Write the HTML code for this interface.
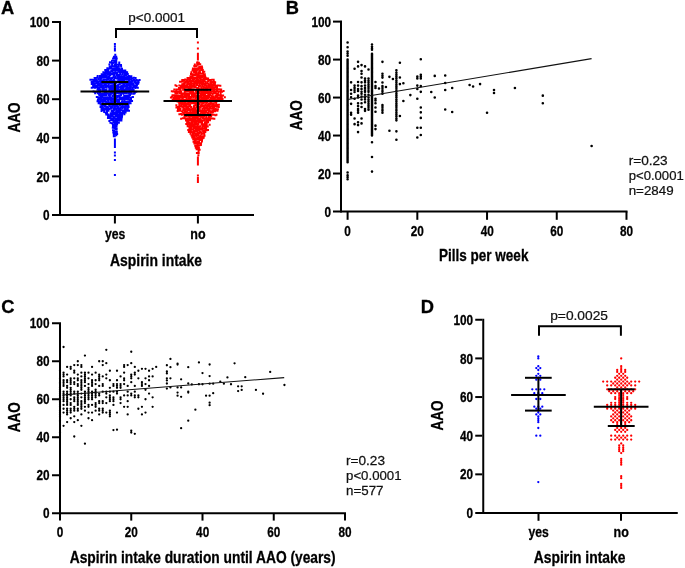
<!DOCTYPE html>
<html><head><meta charset="utf-8"><style>
html,body{margin:0;padding:0;background:#fff;}
body{width:685px;height:568px;overflow:hidden;}
svg{display:block;font-family:"Liberation Sans",sans-serif;}
</style></head><body>
<svg style="will-change:transform" width="685" height="568" viewBox="0 0 685 568">
<rect width="685" height="568" fill="#fff"/>
<text transform="translate(1.002,13.5) scale(1,1)" font-size="18.3" font-weight="bold" fill="#000" stroke="#000" stroke-width="0.3">A</text>
<line x1="60" y1="216" x2="60" y2="21" stroke="#000" stroke-width="2"/>
<text transform="translate(42.933,220.1) scale(0.775,1)" font-size="15.2" font-weight="bold" fill="#000" stroke="#000" stroke-width="0.3">0</text>
<line x1="52" y1="176.4" x2="59" y2="176.4" stroke="#000" stroke-width="2"/>
<text transform="translate(36.395,181.5) scale(0.775,1)" font-size="15.2" font-weight="bold" fill="#000" stroke="#000" stroke-width="0.3">20</text>
<line x1="52" y1="137.8" x2="59" y2="137.8" stroke="#000" stroke-width="2"/>
<text transform="translate(36.395,142.9) scale(0.775,1)" font-size="15.2" font-weight="bold" fill="#000" stroke="#000" stroke-width="0.3">40</text>
<line x1="52" y1="99.2" x2="59" y2="99.2" stroke="#000" stroke-width="2"/>
<text transform="translate(36.395,104.3) scale(0.775,1)" font-size="15.2" font-weight="bold" fill="#000" stroke="#000" stroke-width="0.3">60</text>
<line x1="52" y1="60.6" x2="59" y2="60.6" stroke="#000" stroke-width="2"/>
<text transform="translate(36.395,65.7) scale(0.775,1)" font-size="15.2" font-weight="bold" fill="#000" stroke="#000" stroke-width="0.3">80</text>
<line x1="52" y1="22" x2="59" y2="22" stroke="#000" stroke-width="2"/>
<text transform="translate(29.828,27.1) scale(0.775,1)" font-size="15.2" font-weight="bold" fill="#000" stroke="#000" stroke-width="0.3">100</text>
<line x1="52" y1="215" x2="254" y2="215" stroke="#000" stroke-width="2"/>
<line x1="114.9" y1="215" x2="114.9" y2="223.5" stroke="#000" stroke-width="2"/>
<line x1="197.9" y1="215" x2="197.9" y2="223.5" stroke="#000" stroke-width="2"/>
<text transform="translate(104.917,239) scale(0.86,1)" font-size="14.2" font-weight="bold" fill="#000" stroke="#000" stroke-width="0.3">yes</text>
<text transform="translate(190.306,239) scale(0.88,1)" font-size="14.2" font-weight="bold" fill="#000" stroke="#000" stroke-width="0.3">no</text>
<text transform="translate(109.944,265.6) scale(0.835,1)" font-size="16.7" font-weight="bold" fill="#000" stroke="#000" stroke-width="0.3">Aspirin intake</text>
<text transform="translate(19.6,132.534) rotate(-90) scale(0.816,1)" font-size="16.6" font-weight="bold" stroke="#000" stroke-width="0.3">AAO</text>
<polyline points="116,37 116,29 197,29 197,37" fill="none" stroke="#000" stroke-width="2" stroke-linejoin="miter" stroke-linecap="square"/>
<text transform="translate(128.272,21.7) scale(0.994,1)" font-size="13.6" font-weight="normal" fill="#111" stroke="#111" stroke-width="0.25">p&lt;0.0001</text>
<path fill="#0000ff" d="M114.267 53.682h2v2h-2zM112.923 55.726h2v2h-2zM113.346 56.132h2v2h-2zM115.252 55.706h2v2h-2zM112.07 57.619h2v2h-2zM113.413 57.452h2v2h-2zM114.711 57.502h2v2h-2zM115.733 57.553h2v2h-2zM111.035 59.824h2v2h-2zM112.239 59.696h2v2h-2zM113.81 59.736h2v2h-2zM115.276 59.397h2v2h-2zM109.029 61.365h2v2h-2zM110.176 61.562h2v2h-2zM111.756 61.876h2v2h-2zM113.447 61.63h2v2h-2zM114.141 61.683h2v2h-2zM115.292 61.617h2v2h-2zM118.254 61.525h2v2h-2zM108.402 63.434h2v2h-2zM111.072 63.611h2v2h-2zM113.647 63.908h2v2h-2zM114.796 63.576h2v2h-2zM115.49 63.774h2v2h-2zM117.224 63.785h2v2h-2zM118.225 63.133h2v2h-2zM120.031 63.966h2v2h-2zM108.676 65.785h2v2h-2zM109.6 65.464h2v2h-2zM111.121 65.206h2v2h-2zM112.634 65.367h2v2h-2zM113.515 65.268h2v2h-2zM115.202 65.03h2v2h-2zM116.777 65.917h2v2h-2zM117.838 65.028h2v2h-2zM120.106 65.185h2v2h-2zM106.32 67.252h2v2h-2zM107.96 67.594h2v2h-2zM109.511 67.215h2v2h-2zM109.926 66.958h2v2h-2zM111.724 67.465h2v2h-2zM113.63 67.523h2v2h-2zM114.533 67.145h2v2h-2zM115.753 67.038h2v2h-2zM117.204 67.383h2v2h-2zM117.988 67.302h2v2h-2zM120.223 67.464h2v2h-2zM121.014 67.823h2v2h-2zM104.239 69.045h2v2h-2zM105.025 69.39h2v2h-2zM106.236 69.294h2v2h-2zM107.413 69.063h2v2h-2zM110.223 69.455h2v2h-2zM111.42 69.273h2v2h-2zM112.563 69.126h2v2h-2zM113.865 69.347h2v2h-2zM115.362 68.918h2v2h-2zM116.246 69.066h2v2h-2zM117.593 69.323h2v2h-2zM118.729 69.039h2v2h-2zM120.35 68.958h2v2h-2zM121.158 69.697h2v2h-2zM123.056 69.386h2v2h-2zM124.29 69.499h2v2h-2zM102.344 71.22h2v2h-2zM103.255 71.148h2v2h-2zM104.408 71.378h2v2h-2zM105.679 71.271h2v2h-2zM107.61 71.051h2v2h-2zM108.501 71.149h2v2h-2zM109.258 71.228h2v2h-2zM111.059 70.811h2v2h-2zM112.301 71.386h2v2h-2zM113.892 71.453h2v2h-2zM114.642 71.217h2v2h-2zM116.403 71.256h2v2h-2zM117.588 70.811h2v2h-2zM119.099 71.092h2v2h-2zM120.996 71.076h2v2h-2zM122.076 71.358h2v2h-2zM122.993 71.365h2v2h-2zM124.666 71.025h2v2h-2zM126.12 71.272h2v2h-2zM100.674 73.236h2v2h-2zM101.976 73.415h2v2h-2zM103.269 73.26h2v2h-2zM104.334 72.938h2v2h-2zM106.38 73.151h2v2h-2zM107.616 73.057h2v2h-2zM108.804 73.183h2v2h-2zM109.728 72.933h2v2h-2zM111.43 73.039h2v2h-2zM112.47 73.18h2v2h-2zM113.983 72.716h2v2h-2zM115.031 72.715h2v2h-2zM116.359 73.148h2v2h-2zM117.874 74.016h2v2h-2zM119.142 73.032h2v2h-2zM121.265 73.225h2v2h-2zM123.386 72.934h2v2h-2zM125.054 72.919h2v2h-2zM125.455 73.099h2v2h-2zM126.79 72.921h2v2h-2zM96.689 75.004h2v2h-2zM99.021 74.997h2v2h-2zM100.424 75.263h2v2h-2zM101.442 75.125h2v2h-2zM102.925 74.952h2v2h-2zM104.132 75.021h2v2h-2zM105.215 74.881h2v2h-2zM107.309 75.294h2v2h-2zM107.94 75.301h2v2h-2zM109.426 74.421h2v2h-2zM112.418 75.5h2v2h-2zM112.896 74.491h2v2h-2zM114.563 75.281h2v2h-2zM115.931 74.665h2v2h-2zM117.042 75.127h2v2h-2zM118.45 75.119h2v2h-2zM120.023 75.165h2v2h-2zM120.929 75.476h2v2h-2zM122.713 75.138h2v2h-2zM123.501 75.07h2v2h-2zM125.22 74.723h2v2h-2zM126.317 75.44h2v2h-2zM127.787 74.905h2v2h-2zM128.818 75.131h2v2h-2zM130.382 75.148h2v2h-2zM93.587 76.918h2v2h-2zM94.692 76.913h2v2h-2zM95.971 76.838h2v2h-2zM97.56 77.287h2v2h-2zM98.51 76.865h2v2h-2zM100.107 76.998h2v2h-2zM101.091 76.616h2v2h-2zM102.021 76.654h2v2h-2zM103.639 76.555h2v2h-2zM105.591 76.6h2v2h-2zM106.015 76.846h2v2h-2zM107.068 77.295h2v2h-2zM108.556 76.901h2v2h-2zM109.956 77.204h2v2h-2zM111.21 77.007h2v2h-2zM113.025 76.856h2v2h-2zM114.035 76.879h2v2h-2zM115.504 77.392h2v2h-2zM116.402 77.113h2v2h-2zM117.734 76.705h2v2h-2zM119.235 77.005h2v2h-2zM119.544 77.148h2v2h-2zM121.36 77.141h2v2h-2zM122.394 77.204h2v2h-2zM124.207 76.954h2v2h-2zM124.956 76.993h2v2h-2zM126.325 77.218h2v2h-2zM127.353 76.944h2v2h-2zM129.353 76.677h2v2h-2zM130.315 77.059h2v2h-2zM131.72 77.268h2v2h-2zM132.978 76.657h2v2h-2zM134.596 76.888h2v2h-2zM89.421 78.693h2v2h-2zM91.121 78.714h2v2h-2zM92.575 78.943h2v2h-2zM93.56 78.872h2v2h-2zM94.942 79.098h2v2h-2zM95.774 79.256h2v2h-2zM97.517 78.556h2v2h-2zM99.255 79.168h2v2h-2zM99.712 78.704h2v2h-2zM101.206 79.181h2v2h-2zM102.786 79.022h2v2h-2zM103.827 78.68h2v2h-2zM105.509 79.045h2v2h-2zM106.306 78.76h2v2h-2zM107.615 78.767h2v2h-2zM109.657 79.169h2v2h-2zM110.57 79.17h2v2h-2zM112.041 79.231h2v2h-2zM113.063 78.898h2v2h-2zM117.334 78.5h2v2h-2zM118.522 78.668h2v2h-2zM119.418 78.67h2v2h-2zM120.78 78.959h2v2h-2zM122.349 79.219h2v2h-2zM123.364 78.836h2v2h-2zM125.237 78.612h2v2h-2zM126.487 78.394h2v2h-2zM128.086 78.702h2v2h-2zM128.388 78.963h2v2h-2zM130.379 78.453h2v2h-2zM131.659 79.472h2v2h-2zM133.096 78.928h2v2h-2zM134.339 79.311h2v2h-2zM135.63 78.986h2v2h-2zM137.252 79.387h2v2h-2zM138.596 78.914h2v2h-2zM90.629 80.911h2v2h-2zM92.244 81.053h2v2h-2zM92.682 81.112h2v2h-2zM94.495 80.561h2v2h-2zM95.363 81.238h2v2h-2zM97.007 80.783h2v2h-2zM97.914 80.822h2v2h-2zM99.796 80.948h2v2h-2zM101.006 80.736h2v2h-2zM102.199 80.666h2v2h-2zM103.636 81.396h2v2h-2zM104.916 81.196h2v2h-2zM105.597 80.533h2v2h-2zM108.149 80.928h2v2h-2zM108.647 80.214h2v2h-2zM110.316 80.876h2v2h-2zM111.642 80.445h2v2h-2zM113.039 80.639h2v2h-2zM114.153 80.556h2v2h-2zM114.838 81.032h2v2h-2zM116.363 80.606h2v2h-2zM117.222 80.761h2v2h-2zM119.29 80.517h2v2h-2zM120.29 80.545h2v2h-2zM122.179 80.783h2v2h-2zM122.981 80.657h2v2h-2zM124.741 80.928h2v2h-2zM125.674 80.815h2v2h-2zM127.13 80.738h2v2h-2zM128.887 80.935h2v2h-2zM130.075 80.832h2v2h-2zM130.959 80.605h2v2h-2zM133.312 80.639h2v2h-2zM134.468 81.122h2v2h-2zM135.771 81.34h2v2h-2zM137.686 81.159h2v2h-2zM90.748 82.928h2v2h-2zM91.927 83.061h2v2h-2zM92.883 83.117h2v2h-2zM94.323 82.68h2v2h-2zM96.082 82.313h2v2h-2zM97.039 82.716h2v2h-2zM97.938 82.975h2v2h-2zM99.557 82.609h2v2h-2zM101.185 82.856h2v2h-2zM101.972 82.643h2v2h-2zM103.587 82.818h2v2h-2zM104.766 82.814h2v2h-2zM106.621 82.563h2v2h-2zM107.833 82.816h2v2h-2zM108.55 82.37h2v2h-2zM110.377 82.535h2v2h-2zM110.974 82.576h2v2h-2zM112.606 82.933h2v2h-2zM113.59 82.293h2v2h-2zM114.871 82.403h2v2h-2zM117.185 83.381h2v2h-2zM118.699 83.07h2v2h-2zM120.024 82.392h2v2h-2zM122.002 82.682h2v2h-2zM122.948 83.061h2v2h-2zM124.135 82.414h2v2h-2zM126.09 82.998h2v2h-2zM127.036 82.234h2v2h-2zM127.731 82.429h2v2h-2zM129.321 82.904h2v2h-2zM130.798 82.524h2v2h-2zM131.977 83.055h2v2h-2zM132.478 82.641h2v2h-2zM134.741 82.711h2v2h-2zM136.046 82.875h2v2h-2zM137.211 82.81h2v2h-2zM92.117 84.932h2v2h-2zM93.507 84.816h2v2h-2zM94.721 84.951h2v2h-2zM95.942 84.756h2v2h-2zM97.717 84.768h2v2h-2zM98.521 84.389h2v2h-2zM99.702 84.26h2v2h-2zM100.544 84.439h2v2h-2zM102.07 84.959h2v2h-2zM103.71 84.831h2v2h-2zM105.192 84.75h2v2h-2zM106.182 84.977h2v2h-2zM107.64 84.669h2v2h-2zM108.689 85.226h2v2h-2zM110.128 84.762h2v2h-2zM111.471 84.799h2v2h-2zM112.168 84.695h2v2h-2zM113.973 84.397h2v2h-2zM115.169 85.042h2v2h-2zM116.56 85.044h2v2h-2zM117.128 84.587h2v2h-2zM119.41 85.228h2v2h-2zM121.066 85.085h2v2h-2zM121.718 85.3h2v2h-2zM122.749 84.728h2v2h-2zM124.316 84.666h2v2h-2zM125.567 84.429h2v2h-2zM126.438 84.916h2v2h-2zM128.138 84.489h2v2h-2zM129.939 84.415h2v2h-2zM132.065 84.327h2v2h-2zM132.9 84.641h2v2h-2zM134.203 84.907h2v2h-2zM135.952 84.459h2v2h-2zM90.718 86.844h2v2h-2zM92.648 86.503h2v2h-2zM93.976 86.838h2v2h-2zM95.263 86.307h2v2h-2zM96.649 86.432h2v2h-2zM97.767 86.984h2v2h-2zM99.218 86.577h2v2h-2zM100.407 86.583h2v2h-2zM102.217 86.963h2v2h-2zM102.623 86.94h2v2h-2zM104.328 86.242h2v2h-2zM105.166 86.38h2v2h-2zM107.394 86.585h2v2h-2zM108.383 86.592h2v2h-2zM108.944 86.672h2v2h-2zM110.802 86.668h2v2h-2zM111.396 86.368h2v2h-2zM113.38 86.723h2v2h-2zM113.746 86.466h2v2h-2zM115.672 86.71h2v2h-2zM116.797 86.401h2v2h-2zM118.475 86.603h2v2h-2zM119.675 86.651h2v2h-2zM120.946 86.752h2v2h-2zM122.307 86.719h2v2h-2zM123.09 85.801h2v2h-2zM125.204 86.606h2v2h-2zM125.872 86.959h2v2h-2zM127.458 86.837h2v2h-2zM129.082 86.587h2v2h-2zM129.848 86.279h2v2h-2zM131.886 86.606h2v2h-2zM132.598 86.324h2v2h-2zM134.528 87.003h2v2h-2zM135.012 86.328h2v2h-2zM136.834 86.747h2v2h-2zM96.558 88.544h2v2h-2zM97.995 88.582h2v2h-2zM98.897 88.649h2v2h-2zM99.756 88.671h2v2h-2zM101.955 88.509h2v2h-2zM103.027 88.547h2v2h-2zM103.712 89.011h2v2h-2zM105.435 88.713h2v2h-2zM108.341 88.866h2v2h-2zM110.269 88.297h2v2h-2zM110.575 88.414h2v2h-2zM112.408 88.372h2v2h-2zM113.474 88.686h2v2h-2zM114.852 88.607h2v2h-2zM115.894 88.506h2v2h-2zM117.119 88.506h2v2h-2zM118.274 88.973h2v2h-2zM119.971 88.398h2v2h-2zM120.891 88.611h2v2h-2zM122.207 88.79h2v2h-2zM123.254 88.443h2v2h-2zM124.89 88.258h2v2h-2zM126.331 88.557h2v2h-2zM127.224 88.581h2v2h-2zM128.947 88.514h2v2h-2zM130.41 88.624h2v2h-2zM131.361 88.291h2v2h-2zM132.633 88.808h2v2h-2zM92.559 90.568h2v2h-2zM94.134 91.103h2v2h-2zM95.614 90.716h2v2h-2zM96.753 90.63h2v2h-2zM97.964 90.585h2v2h-2zM99.04 90.414h2v2h-2zM101.818 90.001h2v2h-2zM102.438 90.359h2v2h-2zM104.014 90.609h2v2h-2zM105.488 90.497h2v2h-2zM106.479 90.702h2v2h-2zM107.959 90.521h2v2h-2zM109.45 90.662h2v2h-2zM110.654 90.386h2v2h-2zM111.91 90.281h2v2h-2zM112.993 90.905h2v2h-2zM114.359 90.347h2v2h-2zM115.995 90.593h2v2h-2zM117.393 90.831h2v2h-2zM118.307 90.167h2v2h-2zM119.584 90.67h2v2h-2zM121.024 90.392h2v2h-2zM122.193 90.577h2v2h-2zM123.786 90.115h2v2h-2zM124.666 90.388h2v2h-2zM125.799 90.422h2v2h-2zM128.171 90.375h2v2h-2zM128.557 90.211h2v2h-2zM129.934 90.556h2v2h-2zM131.301 90.176h2v2h-2zM132.696 90.6h2v2h-2zM133.666 90.698h2v2h-2zM135.271 90.654h2v2h-2zM94.18 92.129h2v2h-2zM96.817 92.367h2v2h-2zM98.068 92.925h2v2h-2zM98.961 92.427h2v2h-2zM100.684 92.416h2v2h-2zM101.926 92.561h2v2h-2zM102.873 92.475h2v2h-2zM104.424 92.606h2v2h-2zM105.517 92.07h2v2h-2zM107.255 92.901h2v2h-2zM108.108 92.769h2v2h-2zM109.505 92.585h2v2h-2zM110.861 92.2h2v2h-2zM111.933 92.289h2v2h-2zM113.006 92.49h2v2h-2zM114.42 92.514h2v2h-2zM116.076 92.205h2v2h-2zM117.005 92.186h2v2h-2zM118.359 92.188h2v2h-2zM119.643 92.35h2v2h-2zM121.519 92.17h2v2h-2zM122.01 92.375h2v2h-2zM123.854 92.052h2v2h-2zM125.293 92.278h2v2h-2zM125.826 91.751h2v2h-2zM127.729 92.289h2v2h-2zM128.74 92.426h2v2h-2zM130.217 92.338h2v2h-2zM130.688 92.684h2v2h-2zM132.838 92.671h2v2h-2zM133.751 92.187h2v2h-2zM98.324 94.064h2v2h-2zM99.609 94.449h2v2h-2zM100.351 94.53h2v2h-2zM102.149 94.23h2v2h-2zM103.442 94.209h2v2h-2zM105.02 93.962h2v2h-2zM107.466 93.932h2v2h-2zM108.886 94.529h2v2h-2zM109.752 93.553h2v2h-2zM111.687 94.628h2v2h-2zM112.568 94.409h2v2h-2zM113.698 94.179h2v2h-2zM115.004 94.731h2v2h-2zM115.999 94.894h2v2h-2zM117.989 94.766h2v2h-2zM118.737 94.6h2v2h-2zM120.039 94.07h2v2h-2zM123.177 94.581h2v2h-2zM124.508 94.753h2v2h-2zM126.044 94.648h2v2h-2zM127.281 94.422h2v2h-2zM129.04 94.062h2v2h-2zM95.8 96.116h2v2h-2zM97.279 96.234h2v2h-2zM98.594 96.42h2v2h-2zM100.111 96.3h2v2h-2zM101.195 96.012h2v2h-2zM102.517 96.528h2v2h-2zM103.62 96.427h2v2h-2zM105.441 96.15h2v2h-2zM106.931 96.383h2v2h-2zM107.381 96.136h2v2h-2zM109.162 96.425h2v2h-2zM110.486 96.614h2v2h-2zM111.786 95.853h2v2h-2zM113.422 96.859h2v2h-2zM114.797 96.693h2v2h-2zM115.943 96.203h2v2h-2zM117.377 95.506h2v2h-2zM118.259 96.466h2v2h-2zM119.928 96.431h2v2h-2zM120.892 96.623h2v2h-2zM122.496 96.45h2v2h-2zM124.39 96.33h2v2h-2zM125.251 96.046h2v2h-2zM126.535 96.363h2v2h-2zM127.928 96.002h2v2h-2zM129.364 96.526h2v2h-2zM130.072 96.565h2v2h-2zM131.933 95.882h2v2h-2zM96.911 98.646h2v2h-2zM97.519 97.969h2v2h-2zM99.351 98.291h2v2h-2zM100.528 98.349h2v2h-2zM102.224 98.19h2v2h-2zM102.443 97.873h2v2h-2zM103.926 98.258h2v2h-2zM105.434 98.081h2v2h-2zM106.886 98.066h2v2h-2zM108.219 98.288h2v2h-2zM109.421 98.237h2v2h-2zM110.68 98.4h2v2h-2zM111.839 98.086h2v2h-2zM113.262 98.049h2v2h-2zM114.907 98.166h2v2h-2zM115.904 98.415h2v2h-2zM117.151 98.858h2v2h-2zM118.69 98.258h2v2h-2zM119.323 97.986h2v2h-2zM121.2 98.096h2v2h-2zM122.128 98.151h2v2h-2zM123.089 98.177h2v2h-2zM124.508 98.032h2v2h-2zM126.155 98.085h2v2h-2zM127.062 98.01h2v2h-2zM128.823 98.286h2v2h-2zM130.038 98.241h2v2h-2zM96.505 100.228h2v2h-2zM97.326 100.295h2v2h-2zM98.987 100.127h2v2h-2zM100 100.194h2v2h-2zM101.556 99.746h2v2h-2zM103.075 100.054h2v2h-2zM104.311 100.051h2v2h-2zM105.335 100.495h2v2h-2zM106.894 99.819h2v2h-2zM107.658 100.236h2v2h-2zM109.928 99.695h2v2h-2zM110.88 99.671h2v2h-2zM112.369 100.399h2v2h-2zM113.077 99.821h2v2h-2zM114.337 100.575h2v2h-2zM115.759 100.031h2v2h-2zM117.331 99.884h2v2h-2zM118.096 100.045h2v2h-2zM120.912 100.185h2v2h-2zM122.5 100.396h2v2h-2zM123.688 100.271h2v2h-2zM124.899 100.513h2v2h-2zM125.928 100.475h2v2h-2zM127.308 100.208h2v2h-2zM128.631 100.306h2v2h-2zM130.062 100.097h2v2h-2zM131.058 100.022h2v2h-2zM97.658 102.186h2v2h-2zM99.4 102.08h2v2h-2zM101.631 101.798h2v2h-2zM101.643 101.94h2v2h-2zM103.387 102.193h2v2h-2zM105.238 102.085h2v2h-2zM106.238 101.952h2v2h-2zM107.361 102.11h2v2h-2zM108.36 101.669h2v2h-2zM109.903 102.115h2v2h-2zM110.649 101.725h2v2h-2zM112.333 101.948h2v2h-2zM113.722 101.951h2v2h-2zM116.316 101.9h2v2h-2zM117.914 102.008h2v2h-2zM119.191 102.083h2v2h-2zM120.75 101.787h2v2h-2zM121.461 102.197h2v2h-2zM123.454 102.037h2v2h-2zM124.309 102.488h2v2h-2zM125.297 102.17h2v2h-2zM127.308 101.96h2v2h-2zM128.413 102.336h2v2h-2zM129.595 102.367h2v2h-2zM99.623 103.781h2v2h-2zM100.904 104.194h2v2h-2zM102.467 103.951h2v2h-2zM103.754 104.242h2v2h-2zM104.629 104.047h2v2h-2zM107.612 103.752h2v2h-2zM109.168 103.467h2v2h-2zM110.201 103.733h2v2h-2zM111.443 103.885h2v2h-2zM112.216 104.133h2v2h-2zM113.562 103.928h2v2h-2zM115.395 103.598h2v2h-2zM116.283 104.365h2v2h-2zM118.007 103.533h2v2h-2zM118.919 104.066h2v2h-2zM119.644 103.584h2v2h-2zM121.563 103.754h2v2h-2zM122.545 103.785h2v2h-2zM124.392 104.459h2v2h-2zM125.395 104.213h2v2h-2zM125.859 104.003h2v2h-2zM127.404 104.069h2v2h-2zM99.535 106.001h2v2h-2zM101.178 105.936h2v2h-2zM101.859 106.308h2v2h-2zM103.835 105.73h2v2h-2zM105.36 106.082h2v2h-2zM106.16 105.932h2v2h-2zM107.151 106.21h2v2h-2zM108.663 105.504h2v2h-2zM110.009 106.115h2v2h-2zM111.631 105.934h2v2h-2zM111.749 105.606h2v2h-2zM113.83 105.983h2v2h-2zM115.16 105.611h2v2h-2zM116.545 105.835h2v2h-2zM117.334 106.06h2v2h-2zM119.505 106.177h2v2h-2zM120.694 105.832h2v2h-2zM121.59 105.592h2v2h-2zM122.794 106.071h2v2h-2zM123.609 105.912h2v2h-2zM124.919 105.716h2v2h-2zM126.36 105.769h2v2h-2zM127.651 105.98h2v2h-2zM100.527 108.108h2v2h-2zM101.923 107.999h2v2h-2zM103.361 107.935h2v2h-2zM104.497 108.056h2v2h-2zM105.421 107.955h2v2h-2zM106.957 108.137h2v2h-2zM108.151 108.007h2v2h-2zM109.756 107.82h2v2h-2zM110.702 107.825h2v2h-2zM112.907 107.681h2v2h-2zM114.674 107.866h2v2h-2zM116.139 107.826h2v2h-2zM117.479 107.938h2v2h-2zM118.381 107.86h2v2h-2zM119.075 108.235h2v2h-2zM121.18 107.777h2v2h-2zM123.473 108.114h2v2h-2zM124.599 107.797h2v2h-2zM125.96 108.193h2v2h-2zM126.771 107.848h2v2h-2zM100.559 110.096h2v2h-2zM101.507 109.119h2v2h-2zM102.963 109.396h2v2h-2zM103.701 109.84h2v2h-2zM106.177 110.145h2v2h-2zM106.015 109.826h2v2h-2zM107.536 109.659h2v2h-2zM110.588 109.921h2v2h-2zM111.974 109.981h2v2h-2zM112.956 109.533h2v2h-2zM115.129 109.838h2v2h-2zM115.791 110.026h2v2h-2zM117.396 109.897h2v2h-2zM118.917 110.067h2v2h-2zM120.08 109.377h2v2h-2zM121.951 109.936h2v2h-2zM122.456 110.014h2v2h-2zM123.949 109.74h2v2h-2zM125.096 109.794h2v2h-2zM126.992 109.845h2v2h-2zM128.002 109.804h2v2h-2zM103.21 111.005h2v2h-2zM104.859 111.992h2v2h-2zM106.014 111.841h2v2h-2zM109.717 112.137h2v2h-2zM111.334 111.659h2v2h-2zM112.79 111.994h2v2h-2zM114.112 111.629h2v2h-2zM114.811 111.753h2v2h-2zM116.72 111.452h2v2h-2zM118.355 111.61h2v2h-2zM118.79 111.74h2v2h-2zM120.467 112.036h2v2h-2zM121.915 111.981h2v2h-2zM123.169 111.636h2v2h-2zM124.583 111.527h2v2h-2zM105.253 113.529h2v2h-2zM106.632 113.679h2v2h-2zM107.068 113.378h2v2h-2zM109.261 113.764h2v2h-2zM110.671 113.435h2v2h-2zM112.011 113.586h2v2h-2zM113.374 113.527h2v2h-2zM114.638 113.703h2v2h-2zM116.281 113.397h2v2h-2zM117.327 113.679h2v2h-2zM118.44 113.657h2v2h-2zM119.398 113.83h2v2h-2zM121.154 113.828h2v2h-2zM123.375 113.295h2v2h-2zM107.089 115.512h2v2h-2zM108.338 115.343h2v2h-2zM109.572 115.406h2v2h-2zM110.767 115.522h2v2h-2zM111.649 115.543h2v2h-2zM112.779 116.011h2v2h-2zM114.834 115.33h2v2h-2zM115.81 115.216h2v2h-2zM116.968 115.52h2v2h-2zM118.796 115.761h2v2h-2zM119.539 115.436h2v2h-2zM121.042 115.638h2v2h-2zM106.963 117.005h2v2h-2zM107.824 117.097h2v2h-2zM109.351 117.514h2v2h-2zM110.675 117.78h2v2h-2zM112.401 117.716h2v2h-2zM113.646 117.336h2v2h-2zM114.728 117.631h2v2h-2zM116.262 117.545h2v2h-2zM117.181 117.411h2v2h-2zM118.881 117.385h2v2h-2zM120.003 117.376h2v2h-2zM120.646 117.599h2v2h-2zM108.377 120.039h2v2h-2zM110.237 118.999h2v2h-2zM111.559 119.362h2v2h-2zM113.073 119.375h2v2h-2zM114.338 119.53h2v2h-2zM115.877 119.506h2v2h-2zM116.512 119.366h2v2h-2zM117.721 119.302h2v2h-2zM119.012 119.561h2v2h-2zM120.397 119.526h2v2h-2zM109.429 121.652h2v2h-2zM110.881 122.18h2v2h-2zM112.484 120.948h2v2h-2zM113.783 121.754h2v2h-2zM114.168 121.02h2v2h-2zM115.703 121.378h2v2h-2zM117.207 121.508h2v2h-2zM117.867 121.736h2v2h-2zM111.912 123.252h2v2h-2zM113.195 123.295h2v2h-2zM114.19 123.512h2v2h-2zM116.136 123.261h2v2h-2zM112.038 124.998h2v2h-2zM113.626 124.98h2v2h-2zM114.675 124.926h2v2h-2zM115.551 125.323h2v2h-2zM111.791 126.851h2v2h-2zM113.511 126.985h2v2h-2zM114.547 127.207h2v2h-2zM115.703 127.526h2v2h-2zM112.011 129.204h2v2h-2zM113.334 129.443h2v2h-2zM114.377 128.37h2v2h-2zM115.578 128.872h2v2h-2zM112.285 131.494h2v2h-2zM113.053 131.084h2v2h-2zM114.779 131.11h2v2h-2zM115.822 130.958h2v2h-2zM112.79 133.156h2v2h-2zM113.276 132.863h2v2h-2zM114.487 133.05h2v2h-2zM116.144 132.938h2v2h-2zM112.819 135.223h2v2h-2zM113.713 135.223h2v2h-2zM115.297 134.321h2v2h-2zM113.9 42.9h2v2h-2zM113.9 45.2h2v2h-2zM113.9 47.4h2v2h-2zM113.9 49.5h2v2h-2zM113.9 138.5h2v2h-2zM113.9 140.4h2v2h-2zM113.9 142.3h2v2h-2zM113.9 144.2h2v2h-2zM113.9 146.1h2v2h-2zM113.9 151.5h2v2h-2zM113.9 154.6h2v2h-2zM113.9 159h2v2h-2zM113.9 174h2v2h-2z"/>
<path fill="#ff0000" d="M196.1 61.711h2v2h-2zM196.538 61.373h2v2h-2zM197.89 61.78h2v2h-2zM193.843 63.497h2v2h-2zM196.191 63.682h2v2h-2zM196.883 63.613h2v2h-2zM198.039 63.336h2v2h-2zM199.203 63.311h2v2h-2zM193.286 64.991h2v2h-2zM194.149 65.254h2v2h-2zM195.575 65.328h2v2h-2zM198.21 65.845h2v2h-2zM199.291 65.628h2v2h-2zM200.922 65.543h2v2h-2zM191.931 67.458h2v2h-2zM193.557 67.565h2v2h-2zM195.185 67.725h2v2h-2zM196.555 67.594h2v2h-2zM197.651 67.321h2v2h-2zM198.712 66.932h2v2h-2zM200.486 67.438h2v2h-2zM201.199 67.241h2v2h-2zM191.528 69.557h2v2h-2zM192.749 68.976h2v2h-2zM193.875 69.416h2v2h-2zM195.22 69.446h2v2h-2zM195.755 69.066h2v2h-2zM197.698 68.872h2v2h-2zM198.626 69.192h2v2h-2zM200.221 68.892h2v2h-2zM201.258 69.057h2v2h-2zM201.817 69.088h2v2h-2zM190.389 71.143h2v2h-2zM193.045 71.115h2v2h-2zM194.958 71.094h2v2h-2zM195.144 71.516h2v2h-2zM197.3 71.165h2v2h-2zM198.448 71.368h2v2h-2zM199.023 71.292h2v2h-2zM201.85 71.026h2v2h-2zM203.279 70.764h2v2h-2zM190.032 72.958h2v2h-2zM191.487 73.275h2v2h-2zM192.438 73.186h2v2h-2zM193.592 73.266h2v2h-2zM194.651 73.034h2v2h-2zM195.93 73.192h2v2h-2zM197.656 73.166h2v2h-2zM198.884 72.824h2v2h-2zM200.391 72.826h2v2h-2zM202.218 72.857h2v2h-2zM203.823 73.187h2v2h-2zM189.47 75.277h2v2h-2zM190.871 75.314h2v2h-2zM191.633 75.055h2v2h-2zM192.419 74.62h2v2h-2zM194.054 74.479h2v2h-2zM196.1 75.029h2v2h-2zM196.819 75.019h2v2h-2zM198.394 75.018h2v2h-2zM199.734 74.985h2v2h-2zM201.001 75.104h2v2h-2zM202.268 74.998h2v2h-2zM202.675 74.724h2v2h-2zM204.092 75.147h2v2h-2zM186.53 77.121h2v2h-2zM187.963 76.995h2v2h-2zM189.306 76.892h2v2h-2zM190.974 77.105h2v2h-2zM191.962 76.985h2v2h-2zM193.661 76.917h2v2h-2zM194.106 76.898h2v2h-2zM196.116 77.046h2v2h-2zM197.479 76.638h2v2h-2zM198.469 77.113h2v2h-2zM199.39 76.884h2v2h-2zM199.994 76.842h2v2h-2zM201.783 76.516h2v2h-2zM202.995 77.17h2v2h-2zM204.506 76.486h2v2h-2zM205.472 77.141h2v2h-2zM207.109 77.479h2v2h-2zM181.246 78.952h2v2h-2zM183.132 78.96h2v2h-2zM184.196 78.449h2v2h-2zM185.675 79.352h2v2h-2zM186.403 78.953h2v2h-2zM187.549 78.662h2v2h-2zM189.052 78.677h2v2h-2zM190.519 79.249h2v2h-2zM192.036 78.937h2v2h-2zM192.89 78.549h2v2h-2zM194.227 79.178h2v2h-2zM195.619 78.886h2v2h-2zM196.905 79.019h2v2h-2zM198.359 79.178h2v2h-2zM199.491 78.43h2v2h-2zM201.241 78.952h2v2h-2zM201.994 78.753h2v2h-2zM203.448 79.295h2v2h-2zM204.535 78.36h2v2h-2zM205.436 78.365h2v2h-2zM207.406 79.081h2v2h-2zM208.461 79.026h2v2h-2zM209.776 79.105h2v2h-2zM211.305 78.761h2v2h-2zM212.671 78.707h2v2h-2zM179.061 80.708h2v2h-2zM179.904 80.724h2v2h-2zM181.742 80.433h2v2h-2zM183.637 81.164h2v2h-2zM184.246 80.828h2v2h-2zM185.704 80.662h2v2h-2zM187.288 81.065h2v2h-2zM188.701 80.865h2v2h-2zM189.708 80.941h2v2h-2zM190.129 81.229h2v2h-2zM191.78 80.164h2v2h-2zM193.325 81.082h2v2h-2zM195.261 80.885h2v2h-2zM196.546 80.879h2v2h-2zM197.804 80.911h2v2h-2zM199.098 80.488h2v2h-2zM200.131 80.736h2v2h-2zM201.304 80.915h2v2h-2zM203.238 80.679h2v2h-2zM203.916 80.751h2v2h-2zM204.833 80.917h2v2h-2zM207.037 80.558h2v2h-2zM209.282 80.917h2v2h-2zM210.924 81.072h2v2h-2zM212.078 80.942h2v2h-2zM213.112 80.655h2v2h-2zM214.149 81.134h2v2h-2zM181.224 83.175h2v2h-2zM182.545 82.743h2v2h-2zM183.876 82.601h2v2h-2zM186.133 82.453h2v2h-2zM187.474 82.926h2v2h-2zM188.71 83.022h2v2h-2zM190.514 83.125h2v2h-2zM191.361 82.524h2v2h-2zM192.842 82.444h2v2h-2zM194.216 82.751h2v2h-2zM194.916 82.576h2v2h-2zM196.411 82.486h2v2h-2zM198.453 82.934h2v2h-2zM199.367 82.442h2v2h-2zM200.98 83.008h2v2h-2zM202.118 82.834h2v2h-2zM203.23 82.918h2v2h-2zM204.763 82.953h2v2h-2zM206.232 82.481h2v2h-2zM207.337 82.91h2v2h-2zM208.744 83.236h2v2h-2zM209.966 82.609h2v2h-2zM211.197 83.173h2v2h-2zM212.592 82.601h2v2h-2zM213.918 83.093h2v2h-2zM174.458 84.23h2v2h-2zM175.636 85.041h2v2h-2zM178.338 84.539h2v2h-2zM179.646 84.791h2v2h-2zM180.741 84.821h2v2h-2zM182.66 84.717h2v2h-2zM183.284 84.611h2v2h-2zM185.098 84.728h2v2h-2zM185.921 84.62h2v2h-2zM187.535 85.227h2v2h-2zM189.004 84.926h2v2h-2zM190.089 84.49h2v2h-2zM191.512 84.755h2v2h-2zM192.856 84.44h2v2h-2zM193.613 84.675h2v2h-2zM194.512 85.179h2v2h-2zM196.022 84.105h2v2h-2zM197.959 85.064h2v2h-2zM199.307 84.817h2v2h-2zM201.419 84.766h2v2h-2zM202.745 85.21h2v2h-2zM204.12 84.116h2v2h-2zM205.397 85.068h2v2h-2zM207.443 84.837h2v2h-2zM208.84 84.691h2v2h-2zM210.627 84.6h2v2h-2zM211.665 84.558h2v2h-2zM212.831 84.364h2v2h-2zM214.173 84.755h2v2h-2zM215.221 84.671h2v2h-2zM216.452 84.538h2v2h-2zM217.615 84.407h2v2h-2zM219.345 84.801h2v2h-2zM177.948 86.986h2v2h-2zM179.936 86.737h2v2h-2zM181.508 86.711h2v2h-2zM183.324 86.506h2v2h-2zM184.35 86.377h2v2h-2zM185.799 86.379h2v2h-2zM187.613 86.249h2v2h-2zM188.61 86.637h2v2h-2zM189.575 86.962h2v2h-2zM190.929 86.136h2v2h-2zM193.099 86.399h2v2h-2zM194.768 86.31h2v2h-2zM196.333 87.094h2v2h-2zM197.675 86.712h2v2h-2zM200.214 86.389h2v2h-2zM202.314 86.685h2v2h-2zM202.571 86.55h2v2h-2zM203.79 86.282h2v2h-2zM204.861 87.039h2v2h-2zM206.85 86.78h2v2h-2zM207.816 86.824h2v2h-2zM209.463 86.605h2v2h-2zM211.158 86.247h2v2h-2zM211.898 86.237h2v2h-2zM213.069 86.872h2v2h-2zM214.802 86.215h2v2h-2zM215.975 86.553h2v2h-2zM173.309 88.406h2v2h-2zM175.423 88.623h2v2h-2zM176.892 88.518h2v2h-2zM177.867 88.503h2v2h-2zM179.519 88.853h2v2h-2zM182.15 88.625h2v2h-2zM183.255 88.148h2v2h-2zM184.579 88.629h2v2h-2zM185.589 88.836h2v2h-2zM187.645 88.362h2v2h-2zM188.451 88.629h2v2h-2zM189.514 88.237h2v2h-2zM190.979 88.56h2v2h-2zM192.322 88.76h2v2h-2zM195.594 88.794h2v2h-2zM196.132 88.557h2v2h-2zM197.654 88.394h2v2h-2zM198.762 88.292h2v2h-2zM200.95 88.401h2v2h-2zM201.794 88.527h2v2h-2zM202.931 88.782h2v2h-2zM203.651 88.501h2v2h-2zM205.181 88.146h2v2h-2zM206.617 88.458h2v2h-2zM209.384 88.413h2v2h-2zM210.927 88.141h2v2h-2zM211.999 88.159h2v2h-2zM213.28 88.839h2v2h-2zM214.689 88.529h2v2h-2zM215.603 88.338h2v2h-2zM217.423 88.163h2v2h-2zM218.335 88.36h2v2h-2zM220.179 88.397h2v2h-2zM170.773 90.275h2v2h-2zM172.074 90.522h2v2h-2zM174.051 90.632h2v2h-2zM175.192 90.526h2v2h-2zM176.328 90.687h2v2h-2zM178.113 90.712h2v2h-2zM179.29 90.261h2v2h-2zM180.206 90.548h2v2h-2zM183.684 90.705h2v2h-2zM184.492 90.36h2v2h-2zM185.687 90.566h2v2h-2zM187.21 90.335h2v2h-2zM188.188 90.363h2v2h-2zM189.679 90.359h2v2h-2zM190.695 90.502h2v2h-2zM192.218 90.766h2v2h-2zM194.929 90.239h2v2h-2zM196.436 90.313h2v2h-2zM197.709 90.446h2v2h-2zM198.786 89.905h2v2h-2zM200.444 90.614h2v2h-2zM201.678 90.631h2v2h-2zM202.914 90.731h2v2h-2zM204.011 90.475h2v2h-2zM204.96 90.505h2v2h-2zM206.107 90.046h2v2h-2zM208.103 90.808h2v2h-2zM209.847 90.615h2v2h-2zM210.787 90.865h2v2h-2zM212.175 90.364h2v2h-2zM213.543 90.749h2v2h-2zM214.622 90.682h2v2h-2zM216.089 90.097h2v2h-2zM217.853 90.476h2v2h-2zM218.719 90.409h2v2h-2zM220.1 90.3h2v2h-2zM221.11 90.844h2v2h-2zM222.586 90.105h2v2h-2zM174.426 92.337h2v2h-2zM176.174 92.058h2v2h-2zM178.415 92.085h2v2h-2zM180.411 92.415h2v2h-2zM181.138 92.708h2v2h-2zM182.46 92.432h2v2h-2zM183.983 92.69h2v2h-2zM185.023 92.729h2v2h-2zM186.822 92.711h2v2h-2zM188.407 92.454h2v2h-2zM189.292 91.973h2v2h-2zM189.892 92.4h2v2h-2zM191.604 92.622h2v2h-2zM192.798 92.187h2v2h-2zM193.945 92.386h2v2h-2zM195.457 92.188h2v2h-2zM196.535 92.152h2v2h-2zM198.309 92.051h2v2h-2zM199.649 92.612h2v2h-2zM201.114 92.402h2v2h-2zM202.051 92.686h2v2h-2zM203.967 92.692h2v2h-2zM204.294 92.063h2v2h-2zM206.228 92.06h2v2h-2zM207.293 92.613h2v2h-2zM209.154 92.4h2v2h-2zM209.864 92.072h2v2h-2zM211.646 92.932h2v2h-2zM212.654 92.344h2v2h-2zM213.85 91.931h2v2h-2zM215.411 92.37h2v2h-2zM215.97 92.6h2v2h-2zM216.953 92.256h2v2h-2zM219.593 92.186h2v2h-2zM171.533 94.278h2v2h-2zM172.708 94.134h2v2h-2zM173.747 94.478h2v2h-2zM175.685 94.373h2v2h-2zM176.742 94.374h2v2h-2zM177.926 94.84h2v2h-2zM179.073 94.46h2v2h-2zM180.801 94.462h2v2h-2zM181.567 94.363h2v2h-2zM183.671 94.452h2v2h-2zM184.486 94.153h2v2h-2zM185.513 94.505h2v2h-2zM186.674 94.396h2v2h-2zM187.987 94.604h2v2h-2zM190.801 94.594h2v2h-2zM192.203 94.241h2v2h-2zM193.921 94.283h2v2h-2zM194.481 94.781h2v2h-2zM196.134 94.464h2v2h-2zM197.858 94.467h2v2h-2zM199.12 94.422h2v2h-2zM199.966 94.298h2v2h-2zM201.487 94.173h2v2h-2zM202.414 94.863h2v2h-2zM203.795 94.381h2v2h-2zM205.563 94.852h2v2h-2zM207.188 94.332h2v2h-2zM208.533 94.038h2v2h-2zM209.206 93.922h2v2h-2zM210.656 94.633h2v2h-2zM212.091 95.265h2v2h-2zM214.507 94.45h2v2h-2zM216.073 94.397h2v2h-2zM217.218 94.322h2v2h-2zM218.064 94.271h2v2h-2zM219.874 94.324h2v2h-2zM221.779 94.423h2v2h-2zM222.096 94.597h2v2h-2zM169.924 96.589h2v2h-2zM171.025 95.865h2v2h-2zM172.648 96.475h2v2h-2zM174.513 96.358h2v2h-2zM175.405 96.074h2v2h-2zM176.485 96.33h2v2h-2zM177.981 96.543h2v2h-2zM179.044 96.02h2v2h-2zM180.159 96.099h2v2h-2zM181.497 96.243h2v2h-2zM183.121 95.962h2v2h-2zM183.935 96.019h2v2h-2zM185.622 96.553h2v2h-2zM187.685 96.252h2v2h-2zM188.536 96.188h2v2h-2zM190.017 96.111h2v2h-2zM190.769 95.733h2v2h-2zM192.503 95.943h2v2h-2zM193.54 95.767h2v2h-2zM195.118 96.507h2v2h-2zM197.064 96.337h2v2h-2zM197.083 96.627h2v2h-2zM198.72 96.046h2v2h-2zM200.029 96.372h2v2h-2zM201.552 96.497h2v2h-2zM202.444 96.248h2v2h-2zM204.317 96.393h2v2h-2zM205.037 96.141h2v2h-2zM206.363 95.992h2v2h-2zM208.016 96.099h2v2h-2zM209.944 96.412h2v2h-2zM210.481 96.672h2v2h-2zM212.066 96.324h2v2h-2zM213.643 96.207h2v2h-2zM213.841 96.812h2v2h-2zM215.762 96.068h2v2h-2zM216.579 96.385h2v2h-2zM218.525 96.381h2v2h-2zM219.766 96.343h2v2h-2zM220.818 96.208h2v2h-2zM223.84 96.206h2v2h-2zM171.655 98.6h2v2h-2zM173.285 97.908h2v2h-2zM175.24 98.199h2v2h-2zM176.05 98.501h2v2h-2zM177.211 98.111h2v2h-2zM178.29 97.908h2v2h-2zM180.336 98.26h2v2h-2zM180.992 98.506h2v2h-2zM182.223 98.24h2v2h-2zM183.428 98.627h2v2h-2zM185.28 98.579h2v2h-2zM186.573 98.563h2v2h-2zM187.886 97.981h2v2h-2zM189.448 97.977h2v2h-2zM190.379 98.571h2v2h-2zM191.451 98.191h2v2h-2zM192.544 98.173h2v2h-2zM194.298 98.143h2v2h-2zM195.247 98.727h2v2h-2zM196.798 98.231h2v2h-2zM198.127 97.9h2v2h-2zM198.999 98.55h2v2h-2zM200.597 98.003h2v2h-2zM202.061 98.56h2v2h-2zM203.47 98.184h2v2h-2zM205.065 98.508h2v2h-2zM205.619 98.287h2v2h-2zM206.993 97.748h2v2h-2zM208.823 98.548h2v2h-2zM209.676 98.044h2v2h-2zM211.298 98.254h2v2h-2zM212.501 98.345h2v2h-2zM213.827 98.018h2v2h-2zM215.648 98.325h2v2h-2zM216.97 97.927h2v2h-2zM217.915 98.53h2v2h-2zM219.014 98.032h2v2h-2zM220.298 98.156h2v2h-2zM221.571 97.961h2v2h-2zM176.589 100.434h2v2h-2zM177.043 100.268h2v2h-2zM178.813 100.058h2v2h-2zM179.965 99.83h2v2h-2zM180.795 100.004h2v2h-2zM183.21 100.213h2v2h-2zM184.317 100.805h2v2h-2zM186.088 99.806h2v2h-2zM187.111 100.158h2v2h-2zM188.194 100.484h2v2h-2zM189.404 100.339h2v2h-2zM191.131 100.206h2v2h-2zM191.968 99.704h2v2h-2zM194.112 100.335h2v2h-2zM195.187 99.971h2v2h-2zM195.353 99.996h2v2h-2zM197.524 100.074h2v2h-2zM198.674 100.347h2v2h-2zM201.53 100.327h2v2h-2zM202.632 100.16h2v2h-2zM204.144 100.208h2v2h-2zM205.397 100.358h2v2h-2zM207.19 99.97h2v2h-2zM209.668 99.658h2v2h-2zM211.066 99.802h2v2h-2zM211.915 100.085h2v2h-2zM213.114 100.021h2v2h-2zM214.347 100.101h2v2h-2zM215.84 99.897h2v2h-2zM217.796 99.714h2v2h-2zM178.185 101.785h2v2h-2zM179.263 102.046h2v2h-2zM181.062 101.975h2v2h-2zM182.223 102.197h2v2h-2zM183.831 102.235h2v2h-2zM184.982 102.303h2v2h-2zM185.877 102.512h2v2h-2zM187.153 102.22h2v2h-2zM188.689 101.867h2v2h-2zM190.303 102.107h2v2h-2zM190.918 102.168h2v2h-2zM191.999 101.942h2v2h-2zM193.853 102.285h2v2h-2zM194.856 102.206h2v2h-2zM196.142 101.986h2v2h-2zM197.343 102.453h2v2h-2zM198.751 101.686h2v2h-2zM200.259 101.558h2v2h-2zM201.338 102.033h2v2h-2zM202.212 102.063h2v2h-2zM204.134 101.794h2v2h-2zM205.558 102.121h2v2h-2zM206.225 101.602h2v2h-2zM207.911 102.423h2v2h-2zM209.4 101.929h2v2h-2zM209.857 101.88h2v2h-2zM211.523 102.217h2v2h-2zM212.779 102.221h2v2h-2zM214.483 101.623h2v2h-2zM215.305 101.687h2v2h-2zM175.374 104.307h2v2h-2zM178.351 103.841h2v2h-2zM180.412 103.785h2v2h-2zM181.154 103.563h2v2h-2zM183.005 104.358h2v2h-2zM183.956 104.153h2v2h-2zM185.3 104.565h2v2h-2zM186.797 103.846h2v2h-2zM187.747 103.733h2v2h-2zM189.136 103.884h2v2h-2zM193.104 104.398h2v2h-2zM194.73 104.119h2v2h-2zM196.046 103.536h2v2h-2zM196.329 104.05h2v2h-2zM198.104 103.502h2v2h-2zM199.839 104.143h2v2h-2zM200.743 103.826h2v2h-2zM202.07 104.267h2v2h-2zM202.911 104.339h2v2h-2zM204.618 104.119h2v2h-2zM206.166 104.14h2v2h-2zM207.002 104.067h2v2h-2zM208.579 104.044h2v2h-2zM209.784 103.365h2v2h-2zM211.213 104.464h2v2h-2zM212.099 104.032h2v2h-2zM213.637 104.32h2v2h-2zM215.229 103.786h2v2h-2zM216.079 103.995h2v2h-2zM217.949 103.855h2v2h-2zM175.429 106.53h2v2h-2zM176.519 105.906h2v2h-2zM178.133 105.833h2v2h-2zM179.85 105.605h2v2h-2zM181.105 105.682h2v2h-2zM182.15 105.882h2v2h-2zM183.654 105.505h2v2h-2zM185.369 105.996h2v2h-2zM185.71 106.112h2v2h-2zM187.141 105.918h2v2h-2zM188.383 105.429h2v2h-2zM190.082 106.09h2v2h-2zM192.687 106.14h2v2h-2zM193.261 106.338h2v2h-2zM195.379 106.229h2v2h-2zM196.079 106.04h2v2h-2zM197.268 105.86h2v2h-2zM198.472 105.957h2v2h-2zM199.507 106.033h2v2h-2zM201.281 105.594h2v2h-2zM202.775 106.004h2v2h-2zM204.073 106.329h2v2h-2zM205.32 105.814h2v2h-2zM206.459 105.746h2v2h-2zM207.764 105.709h2v2h-2zM208.938 105.656h2v2h-2zM210.558 105.585h2v2h-2zM211.551 105.995h2v2h-2zM213.072 106.025h2v2h-2zM214.477 105.279h2v2h-2zM215.491 105.865h2v2h-2zM216.66 105.863h2v2h-2zM217.787 106.086h2v2h-2zM176.959 107.956h2v2h-2zM178.564 107.863h2v2h-2zM179.495 107.888h2v2h-2zM182.324 107.495h2v2h-2zM183.528 107.709h2v2h-2zM184.969 108.218h2v2h-2zM185.68 107.668h2v2h-2zM187.211 107.554h2v2h-2zM188.41 108.098h2v2h-2zM190.082 108.211h2v2h-2zM191.295 107.712h2v2h-2zM193.072 108.18h2v2h-2zM193.549 107.795h2v2h-2zM194.334 107.896h2v2h-2zM196.667 107.473h2v2h-2zM197.434 107.837h2v2h-2zM198.805 108.006h2v2h-2zM201.367 108.081h2v2h-2zM202.725 107.656h2v2h-2zM203.783 108.29h2v2h-2zM205.451 107.482h2v2h-2zM206.237 107.861h2v2h-2zM207.918 107.905h2v2h-2zM208.736 107.87h2v2h-2zM210.719 107.668h2v2h-2zM212.291 107.315h2v2h-2zM212.479 108.162h2v2h-2zM214.439 107.931h2v2h-2zM215.072 108.134h2v2h-2zM216.9 108.212h2v2h-2zM176.644 109.9h2v2h-2zM177.729 109.634h2v2h-2zM179.034 109.72h2v2h-2zM180.987 110.293h2v2h-2zM182.181 109.267h2v2h-2zM183.761 109.715h2v2h-2zM184.398 109.851h2v2h-2zM186.484 109.773h2v2h-2zM187.146 109.33h2v2h-2zM188.963 109.699h2v2h-2zM189.764 110.269h2v2h-2zM191.817 109.261h2v2h-2zM192.035 109.865h2v2h-2zM193.594 109.946h2v2h-2zM194.871 110.101h2v2h-2zM195.931 109.431h2v2h-2zM197.827 109.672h2v2h-2zM198.461 109.956h2v2h-2zM199.946 109.734h2v2h-2zM201.397 109.899h2v2h-2zM202.525 109.99h2v2h-2zM204.372 110.146h2v2h-2zM205.022 110.122h2v2h-2zM206.229 109.361h2v2h-2zM207.952 109.908h2v2h-2zM208.694 110.086h2v2h-2zM210.293 110.226h2v2h-2zM211.811 109.998h2v2h-2zM212.984 109.959h2v2h-2zM213.971 110.313h2v2h-2zM215.514 109.548h2v2h-2zM216.474 109.629h2v2h-2zM181.857 111.388h2v2h-2zM182.848 111.581h2v2h-2zM184.692 111.254h2v2h-2zM185.828 111.79h2v2h-2zM186.996 112.028h2v2h-2zM188.565 112.111h2v2h-2zM189.874 111.658h2v2h-2zM191.676 111.734h2v2h-2zM192.192 111.917h2v2h-2zM193.933 111.907h2v2h-2zM195.469 111.383h2v2h-2zM196.206 111.82h2v2h-2zM197.385 112.052h2v2h-2zM200.091 111.52h2v2h-2zM201.868 111.699h2v2h-2zM202.524 111.593h2v2h-2zM203.775 111.884h2v2h-2zM205.67 111.434h2v2h-2zM207.017 111.888h2v2h-2zM209.205 111.716h2v2h-2zM210.901 111.492h2v2h-2zM211.902 111.354h2v2h-2zM178.392 113.183h2v2h-2zM180.002 113.11h2v2h-2zM180.874 113.749h2v2h-2zM182.663 113.02h2v2h-2zM183.371 113.374h2v2h-2zM185.121 113.437h2v2h-2zM186.378 113.953h2v2h-2zM187.83 113.446h2v2h-2zM188.949 113.698h2v2h-2zM190.746 113.46h2v2h-2zM191.446 113.759h2v2h-2zM192.927 113.481h2v2h-2zM194.062 113.775h2v2h-2zM195.662 113.668h2v2h-2zM197.257 113.533h2v2h-2zM198.371 113.472h2v2h-2zM199.622 113.369h2v2h-2zM201.039 113.82h2v2h-2zM202.087 113.683h2v2h-2zM203.561 113.662h2v2h-2zM204.77 113.791h2v2h-2zM205.928 113.833h2v2h-2zM207.735 113.275h2v2h-2zM208.612 113.943h2v2h-2zM210.182 113.753h2v2h-2zM211.392 113.72h2v2h-2zM212.805 113.629h2v2h-2zM214.524 114.245h2v2h-2zM215.483 113.669h2v2h-2zM183.449 115.332h2v2h-2zM185.158 115.319h2v2h-2zM187.329 115.267h2v2h-2zM188.722 115.908h2v2h-2zM190.513 115.338h2v2h-2zM191.816 115.698h2v2h-2zM192.912 115.773h2v2h-2zM194.341 115.798h2v2h-2zM195.313 115.97h2v2h-2zM196.604 115.717h2v2h-2zM198.385 115.272h2v2h-2zM200.141 115.641h2v2h-2zM200.452 115.254h2v2h-2zM202.2 115.677h2v2h-2zM203.121 115.287h2v2h-2zM205.291 115.513h2v2h-2zM205.47 115.618h2v2h-2zM207.914 115.392h2v2h-2zM208.587 115.93h2v2h-2zM210.135 115.244h2v2h-2zM180.129 117.627h2v2h-2zM181.847 117.233h2v2h-2zM183.308 117.328h2v2h-2zM184.45 117.455h2v2h-2zM185.838 117.648h2v2h-2zM186.943 117.51h2v2h-2zM188.723 117.446h2v2h-2zM189.863 117.659h2v2h-2zM191.156 117.439h2v2h-2zM192.488 117.691h2v2h-2zM193.81 117.332h2v2h-2zM194.999 117.427h2v2h-2zM196.079 117.407h2v2h-2zM197.545 117.42h2v2h-2zM198.911 117.863h2v2h-2zM199.736 117.784h2v2h-2zM201.988 117.357h2v2h-2zM203.308 117.601h2v2h-2zM204.801 117.55h2v2h-2zM205.602 117.412h2v2h-2zM206.925 117.553h2v2h-2zM208.087 117.21h2v2h-2zM209.996 117.613h2v2h-2zM211.332 117.489h2v2h-2zM211.776 117.425h2v2h-2zM213.329 117.833h2v2h-2zM184.983 119.45h2v2h-2zM186.327 119.442h2v2h-2zM187.68 119.578h2v2h-2zM188.797 119.121h2v2h-2zM190.1 119.572h2v2h-2zM191.7 119.407h2v2h-2zM193.128 119.868h2v2h-2zM194.196 119.17h2v2h-2zM195.417 119.666h2v2h-2zM196.586 119.309h2v2h-2zM198.258 119.149h2v2h-2zM200.021 119.546h2v2h-2zM201.27 119.99h2v2h-2zM202.03 119.441h2v2h-2zM203.125 119.417h2v2h-2zM205.21 119.423h2v2h-2zM205.85 119.536h2v2h-2zM207.223 119.3h2v2h-2zM208.952 119.315h2v2h-2zM186.152 121.409h2v2h-2zM187.67 121.228h2v2h-2zM188.917 121.712h2v2h-2zM190.981 121.552h2v2h-2zM191.543 121.617h2v2h-2zM193.597 121.243h2v2h-2zM194.113 121.699h2v2h-2zM195.256 121.009h2v2h-2zM197.346 121.021h2v2h-2zM198.149 121.354h2v2h-2zM199.961 121.294h2v2h-2zM201.004 121.243h2v2h-2zM203.859 121.658h2v2h-2zM204.58 121.464h2v2h-2zM205.455 121.186h2v2h-2zM207.081 121.226h2v2h-2zM185.284 123.093h2v2h-2zM186.516 123.544h2v2h-2zM187.316 123.101h2v2h-2zM188.76 123.38h2v2h-2zM190.115 123.337h2v2h-2zM191.027 123.344h2v2h-2zM192.688 123.434h2v2h-2zM193.74 123.299h2v2h-2zM195.371 123.053h2v2h-2zM196.44 123.271h2v2h-2zM197.433 123.066h2v2h-2zM200.551 123.166h2v2h-2zM201.652 123.296h2v2h-2zM202.585 123.286h2v2h-2zM204.05 123.017h2v2h-2zM204.578 123.579h2v2h-2zM205.722 123.311h2v2h-2zM208.614 123.834h2v2h-2zM186.663 125.361h2v2h-2zM188.662 125.515h2v2h-2zM190.067 125.192h2v2h-2zM190.907 125.369h2v2h-2zM192.551 125.287h2v2h-2zM193.549 125.156h2v2h-2zM194.635 125.188h2v2h-2zM196.476 124.983h2v2h-2zM197.029 125.167h2v2h-2zM198.992 125.306h2v2h-2zM199.573 125.349h2v2h-2zM201.82 125.073h2v2h-2zM202.419 124.761h2v2h-2zM203.822 125.164h2v2h-2zM205.655 125.125h2v2h-2zM206.745 125.473h2v2h-2zM188.365 126.821h2v2h-2zM189.499 127.326h2v2h-2zM190.64 126.981h2v2h-2zM192.841 126.982h2v2h-2zM194.184 126.925h2v2h-2zM195.011 127.367h2v2h-2zM196.149 126.735h2v2h-2zM196.948 127.165h2v2h-2zM198.588 126.943h2v2h-2zM200.249 127.435h2v2h-2zM201.374 126.876h2v2h-2zM202.27 127.153h2v2h-2zM203.733 127.2h2v2h-2zM205.164 127.13h2v2h-2zM187.219 129.098h2v2h-2zM188.604 128.771h2v2h-2zM189.774 128.878h2v2h-2zM190.861 128.863h2v2h-2zM192.093 128.781h2v2h-2zM193.046 129.371h2v2h-2zM194.951 129.328h2v2h-2zM196.158 129.17h2v2h-2zM197.994 128.889h2v2h-2zM198.565 128.862h2v2h-2zM200.147 128.809h2v2h-2zM201.504 128.718h2v2h-2zM202.488 129.428h2v2h-2zM204.39 128.982h2v2h-2zM205.643 129.261h2v2h-2zM207 129.049h2v2h-2zM187.865 131.044h2v2h-2zM189.22 130.811h2v2h-2zM190.796 131.039h2v2h-2zM191.636 131.356h2v2h-2zM193.232 131.002h2v2h-2zM193.869 130.487h2v2h-2zM194.86 130.802h2v2h-2zM196.806 131.162h2v2h-2zM198.319 131.312h2v2h-2zM199.105 130.911h2v2h-2zM200.421 131.292h2v2h-2zM202.172 130.588h2v2h-2zM203.012 131.164h2v2h-2zM204.316 131.083h2v2h-2zM189.495 132.642h2v2h-2zM191.804 133.134h2v2h-2zM192.886 132.706h2v2h-2zM194.223 133.058h2v2h-2zM195.871 133.179h2v2h-2zM196.298 132.925h2v2h-2zM197.967 132.783h2v2h-2zM200.216 133.122h2v2h-2zM200.808 132.647h2v2h-2zM202.439 132.799h2v2h-2zM203.287 132.635h2v2h-2zM190.444 134.588h2v2h-2zM191.996 134.771h2v2h-2zM193.204 134.971h2v2h-2zM194.818 134.53h2v2h-2zM195.425 135.123h2v2h-2zM197.1 134.772h2v2h-2zM198.269 135.427h2v2h-2zM199.312 134.962h2v2h-2zM200.507 135.248h2v2h-2zM202.02 135.154h2v2h-2zM203.523 134.633h2v2h-2zM191.231 136.545h2v2h-2zM191.944 136.462h2v2h-2zM193.618 136.875h2v2h-2zM195.095 137.291h2v2h-2zM196.457 137.027h2v2h-2zM197.066 137.186h2v2h-2zM198.995 137.115h2v2h-2zM200.562 136.889h2v2h-2zM201.794 137.157h2v2h-2zM202.684 136.804h2v2h-2zM192.203 138.367h2v2h-2zM193.64 138.862h2v2h-2zM194.898 138.687h2v2h-2zM196.571 138.341h2v2h-2zM197.088 138.517h2v2h-2zM198.758 138.65h2v2h-2zM200.169 139.117h2v2h-2zM201.023 139.061h2v2h-2zM192.529 140.663h2v2h-2zM194.297 140.737h2v2h-2zM195.433 141.169h2v2h-2zM196.482 140.656h2v2h-2zM198.065 140.683h2v2h-2zM200.935 140.565h2v2h-2zM193.382 142.548h2v2h-2zM194.833 142.604h2v2h-2zM195.996 142.73h2v2h-2zM197.447 142.514h2v2h-2zM198.924 142.262h2v2h-2zM200.064 142.438h2v2h-2zM194.207 144.682h2v2h-2zM195.963 144.915h2v2h-2zM196.751 144.867h2v2h-2zM198.247 144.527h2v2h-2zM199.909 143.996h2v2h-2zM194.774 146.734h2v2h-2zM196.259 146.813h2v2h-2zM197.937 146.666h2v2h-2zM195.652 148.323h2v2h-2zM196.707 148.229h2v2h-2zM198.621 148.742h2v2h-2zM197.548 150.393h2v2h-2zM197.586 150.245h2v2h-2zM195.928 152.013h2v2h-2zM197.72 152.058h2v2h-2zM197.411 154.294h2v2h-2zM196.9 41.5h2v2h-2zM196.9 47.5h2v2h-2zM196.9 52.8h2v2h-2zM196.9 54.7h2v2h-2zM196.9 56.6h2v2h-2zM196.9 58.5h2v2h-2zM196.9 156.5h2v2h-2zM196.9 158.4h2v2h-2zM196.9 160.3h2v2h-2zM196.9 162.2h2v2h-2zM196.9 163.4h2v2h-2zM196.9 174.6h2v2h-2zM196.9 177h2v2h-2zM196.9 179h2v2h-2zM196.9 181h2v2h-2z"/>
<line x1="80.5" y1="91.5" x2="149.2" y2="91.5" stroke="#000" stroke-width="2"/>
<line x1="101.4" y1="82" x2="128.3" y2="82" stroke="#000" stroke-width="2"/>
<line x1="101.4" y1="104" x2="128.3" y2="104" stroke="#000" stroke-width="2"/>
<line x1="114.9" y1="82" x2="114.9" y2="104" stroke="#000" stroke-width="2"/>
<line x1="163.5" y1="101" x2="232" y2="101" stroke="#000" stroke-width="2"/>
<line x1="184.2" y1="89.8" x2="211.3" y2="89.8" stroke="#000" stroke-width="2"/>
<line x1="184.2" y1="115" x2="211.3" y2="115" stroke="#000" stroke-width="2"/>
<line x1="197.9" y1="89.8" x2="197.9" y2="115" stroke="#000" stroke-width="2"/>
<text transform="translate(285.665,13.5) scale(1,1)" font-size="18.3" font-weight="bold" fill="#000" stroke="#000" stroke-width="0.3">B</text>
<line x1="341" y1="212.5" x2="341" y2="20.6" stroke="#000" stroke-width="2"/>
<text transform="translate(324.533,216.6) scale(0.775,1)" font-size="15.2" font-weight="bold" fill="#000" stroke="#000" stroke-width="0.3">0</text>
<line x1="333" y1="173.52" x2="340" y2="173.52" stroke="#000" stroke-width="2"/>
<text transform="translate(317.995,178.62) scale(0.775,1)" font-size="15.2" font-weight="bold" fill="#000" stroke="#000" stroke-width="0.3">20</text>
<line x1="333" y1="135.54" x2="340" y2="135.54" stroke="#000" stroke-width="2"/>
<text transform="translate(317.995,140.64) scale(0.775,1)" font-size="15.2" font-weight="bold" fill="#000" stroke="#000" stroke-width="0.3">40</text>
<line x1="333" y1="97.56" x2="340" y2="97.56" stroke="#000" stroke-width="2"/>
<text transform="translate(317.995,102.66) scale(0.775,1)" font-size="15.2" font-weight="bold" fill="#000" stroke="#000" stroke-width="0.3">60</text>
<line x1="333" y1="59.58" x2="340" y2="59.58" stroke="#000" stroke-width="2"/>
<text transform="translate(317.995,64.68) scale(0.775,1)" font-size="15.2" font-weight="bold" fill="#000" stroke="#000" stroke-width="0.3">80</text>
<line x1="333" y1="21.6" x2="340" y2="21.6" stroke="#000" stroke-width="2"/>
<text transform="translate(311.428,26.7) scale(0.775,1)" font-size="15.2" font-weight="bold" fill="#000" stroke="#000" stroke-width="0.3">100</text>
<line x1="333" y1="211.5" x2="627.5" y2="211.5" stroke="#000" stroke-width="2"/>
<line x1="347.6" y1="211.5" x2="347.6" y2="219.8" stroke="#000" stroke-width="2"/>
<text transform="translate(344.331,236) scale(0.775,1)" font-size="15.2" font-weight="bold" fill="#000" stroke="#000" stroke-width="0.3">0</text>
<line x1="417.32" y1="211.5" x2="417.32" y2="219.8" stroke="#000" stroke-width="2"/>
<text transform="translate(410.812,236) scale(0.775,1)" font-size="15.2" font-weight="bold" fill="#000" stroke="#000" stroke-width="0.3">20</text>
<line x1="487.04" y1="211.5" x2="487.04" y2="219.8" stroke="#000" stroke-width="2"/>
<text transform="translate(480.649,236) scale(0.775,1)" font-size="15.2" font-weight="bold" fill="#000" stroke="#000" stroke-width="0.3">40</text>
<line x1="556.76" y1="211.5" x2="556.76" y2="219.8" stroke="#000" stroke-width="2"/>
<text transform="translate(550.237,236) scale(0.775,1)" font-size="15.2" font-weight="bold" fill="#000" stroke="#000" stroke-width="0.3">60</text>
<line x1="626.48" y1="211.5" x2="626.48" y2="219.8" stroke="#000" stroke-width="2"/>
<text transform="translate(619.986,236) scale(0.775,1)" font-size="15.2" font-weight="bold" fill="#000" stroke="#000" stroke-width="0.3">80</text>
<text transform="translate(438.98,261) scale(0.81,1)" font-size="16.7" font-weight="bold" fill="#000" stroke="#000" stroke-width="0.3">Pills per week</text>
<text transform="translate(301.6,130.334) rotate(-90) scale(0.816,1)" font-size="16.6" font-weight="bold" stroke="#000" stroke-width="0.3">AAO</text>
<text transform="translate(628.68,164.8) scale(1.002,1)" font-size="13.6" font-weight="normal" fill="#111" stroke="#111" stroke-width="0.25">r=0.23</text>
<text transform="translate(628.749,179.9) scale(0.963,1)" font-size="13.6" font-weight="normal" fill="#111" stroke="#111" stroke-width="0.25">p&lt;0.0001</text>
<text transform="translate(628.699,194.9) scale(0.982,1)" font-size="13.6" font-weight="normal" fill="#111" stroke="#111" stroke-width="0.25">n=2849</text>
<path fill="#000" d="M346.3 162.126a1.3 1.3 0 1 0 2.6 0a1.3 1.3 0 1 0 -2.6 0zM346.3 160.227a1.3 1.3 0 1 0 2.6 0a1.3 1.3 0 1 0 -2.6 0zM346.3 158.328a1.3 1.3 0 1 0 2.6 0a1.3 1.3 0 1 0 -2.6 0zM346.3 156.429a1.3 1.3 0 1 0 2.6 0a1.3 1.3 0 1 0 -2.6 0zM346.3 154.53a1.3 1.3 0 1 0 2.6 0a1.3 1.3 0 1 0 -2.6 0zM346.3 152.631a1.3 1.3 0 1 0 2.6 0a1.3 1.3 0 1 0 -2.6 0zM346.3 150.732a1.3 1.3 0 1 0 2.6 0a1.3 1.3 0 1 0 -2.6 0zM346.3 148.833a1.3 1.3 0 1 0 2.6 0a1.3 1.3 0 1 0 -2.6 0zM346.3 146.934a1.3 1.3 0 1 0 2.6 0a1.3 1.3 0 1 0 -2.6 0zM346.3 145.035a1.3 1.3 0 1 0 2.6 0a1.3 1.3 0 1 0 -2.6 0zM346.3 143.136a1.3 1.3 0 1 0 2.6 0a1.3 1.3 0 1 0 -2.6 0zM346.3 141.237a1.3 1.3 0 1 0 2.6 0a1.3 1.3 0 1 0 -2.6 0zM346.3 139.338a1.3 1.3 0 1 0 2.6 0a1.3 1.3 0 1 0 -2.6 0zM346.3 137.439a1.3 1.3 0 1 0 2.6 0a1.3 1.3 0 1 0 -2.6 0zM346.3 135.54a1.3 1.3 0 1 0 2.6 0a1.3 1.3 0 1 0 -2.6 0zM346.3 133.641a1.3 1.3 0 1 0 2.6 0a1.3 1.3 0 1 0 -2.6 0zM346.3 131.742a1.3 1.3 0 1 0 2.6 0a1.3 1.3 0 1 0 -2.6 0zM346.3 129.843a1.3 1.3 0 1 0 2.6 0a1.3 1.3 0 1 0 -2.6 0zM346.3 127.944a1.3 1.3 0 1 0 2.6 0a1.3 1.3 0 1 0 -2.6 0zM346.3 126.045a1.3 1.3 0 1 0 2.6 0a1.3 1.3 0 1 0 -2.6 0zM346.3 124.146a1.3 1.3 0 1 0 2.6 0a1.3 1.3 0 1 0 -2.6 0zM346.3 122.247a1.3 1.3 0 1 0 2.6 0a1.3 1.3 0 1 0 -2.6 0zM346.3 120.348a1.3 1.3 0 1 0 2.6 0a1.3 1.3 0 1 0 -2.6 0zM346.3 118.449a1.3 1.3 0 1 0 2.6 0a1.3 1.3 0 1 0 -2.6 0zM346.3 116.55a1.3 1.3 0 1 0 2.6 0a1.3 1.3 0 1 0 -2.6 0zM346.3 114.651a1.3 1.3 0 1 0 2.6 0a1.3 1.3 0 1 0 -2.6 0zM346.3 112.752a1.3 1.3 0 1 0 2.6 0a1.3 1.3 0 1 0 -2.6 0zM346.3 110.853a1.3 1.3 0 1 0 2.6 0a1.3 1.3 0 1 0 -2.6 0zM346.3 108.954a1.3 1.3 0 1 0 2.6 0a1.3 1.3 0 1 0 -2.6 0zM346.3 107.055a1.3 1.3 0 1 0 2.6 0a1.3 1.3 0 1 0 -2.6 0zM346.3 105.156a1.3 1.3 0 1 0 2.6 0a1.3 1.3 0 1 0 -2.6 0zM346.3 103.257a1.3 1.3 0 1 0 2.6 0a1.3 1.3 0 1 0 -2.6 0zM346.3 101.358a1.3 1.3 0 1 0 2.6 0a1.3 1.3 0 1 0 -2.6 0zM346.3 99.459a1.3 1.3 0 1 0 2.6 0a1.3 1.3 0 1 0 -2.6 0zM346.3 97.56a1.3 1.3 0 1 0 2.6 0a1.3 1.3 0 1 0 -2.6 0zM346.3 95.661a1.3 1.3 0 1 0 2.6 0a1.3 1.3 0 1 0 -2.6 0zM346.3 93.762a1.3 1.3 0 1 0 2.6 0a1.3 1.3 0 1 0 -2.6 0zM346.3 91.863a1.3 1.3 0 1 0 2.6 0a1.3 1.3 0 1 0 -2.6 0zM346.3 89.964a1.3 1.3 0 1 0 2.6 0a1.3 1.3 0 1 0 -2.6 0zM346.3 88.065a1.3 1.3 0 1 0 2.6 0a1.3 1.3 0 1 0 -2.6 0zM346.3 86.166a1.3 1.3 0 1 0 2.6 0a1.3 1.3 0 1 0 -2.6 0zM346.3 84.267a1.3 1.3 0 1 0 2.6 0a1.3 1.3 0 1 0 -2.6 0zM346.3 82.368a1.3 1.3 0 1 0 2.6 0a1.3 1.3 0 1 0 -2.6 0zM346.3 80.469a1.3 1.3 0 1 0 2.6 0a1.3 1.3 0 1 0 -2.6 0zM346.3 78.57a1.3 1.3 0 1 0 2.6 0a1.3 1.3 0 1 0 -2.6 0zM346.3 76.671a1.3 1.3 0 1 0 2.6 0a1.3 1.3 0 1 0 -2.6 0zM346.3 74.772a1.3 1.3 0 1 0 2.6 0a1.3 1.3 0 1 0 -2.6 0zM346.3 72.873a1.3 1.3 0 1 0 2.6 0a1.3 1.3 0 1 0 -2.6 0zM346.3 70.974a1.3 1.3 0 1 0 2.6 0a1.3 1.3 0 1 0 -2.6 0zM346.3 69.075a1.3 1.3 0 1 0 2.6 0a1.3 1.3 0 1 0 -2.6 0zM346.3 67.176a1.3 1.3 0 1 0 2.6 0a1.3 1.3 0 1 0 -2.6 0zM346.3 65.277a1.3 1.3 0 1 0 2.6 0a1.3 1.3 0 1 0 -2.6 0zM346.3 63.378a1.3 1.3 0 1 0 2.6 0a1.3 1.3 0 1 0 -2.6 0zM346.3 61.479a1.3 1.3 0 1 0 2.6 0a1.3 1.3 0 1 0 -2.6 0zM346.3 59.58a1.3 1.3 0 1 0 2.6 0a1.3 1.3 0 1 0 -2.6 0zM346.3 55.782a1.3 1.3 0 1 0 2.6 0a1.3 1.3 0 1 0 -2.6 0zM346.3 53.503a1.3 1.3 0 1 0 2.6 0a1.3 1.3 0 1 0 -2.6 0zM346.3 51.604a1.3 1.3 0 1 0 2.6 0a1.3 1.3 0 1 0 -2.6 0zM346.3 47.237a1.3 1.3 0 1 0 2.6 0a1.3 1.3 0 1 0 -2.6 0zM346.3 42.489a1.3 1.3 0 1 0 2.6 0a1.3 1.3 0 1 0 -2.6 0zM346.3 179.217a1.3 1.3 0 1 0 2.6 0a1.3 1.3 0 1 0 -2.6 0zM346.3 177.318a1.3 1.3 0 1 0 2.6 0a1.3 1.3 0 1 0 -2.6 0zM346.3 175.419a1.3 1.3 0 1 0 2.6 0a1.3 1.3 0 1 0 -2.6 0zM346.3 172.571a1.3 1.3 0 1 0 2.6 0a1.3 1.3 0 1 0 -2.6 0zM370.702 135.54a1.3 1.3 0 1 0 2.6 0a1.3 1.3 0 1 0 -2.6 0zM370.702 133.641a1.3 1.3 0 1 0 2.6 0a1.3 1.3 0 1 0 -2.6 0zM370.702 131.742a1.3 1.3 0 1 0 2.6 0a1.3 1.3 0 1 0 -2.6 0zM370.702 129.843a1.3 1.3 0 1 0 2.6 0a1.3 1.3 0 1 0 -2.6 0zM370.702 127.944a1.3 1.3 0 1 0 2.6 0a1.3 1.3 0 1 0 -2.6 0zM370.702 126.045a1.3 1.3 0 1 0 2.6 0a1.3 1.3 0 1 0 -2.6 0zM370.702 124.146a1.3 1.3 0 1 0 2.6 0a1.3 1.3 0 1 0 -2.6 0zM370.702 122.247a1.3 1.3 0 1 0 2.6 0a1.3 1.3 0 1 0 -2.6 0zM370.702 120.348a1.3 1.3 0 1 0 2.6 0a1.3 1.3 0 1 0 -2.6 0zM370.702 118.449a1.3 1.3 0 1 0 2.6 0a1.3 1.3 0 1 0 -2.6 0zM370.702 116.55a1.3 1.3 0 1 0 2.6 0a1.3 1.3 0 1 0 -2.6 0zM370.702 114.651a1.3 1.3 0 1 0 2.6 0a1.3 1.3 0 1 0 -2.6 0zM370.702 112.752a1.3 1.3 0 1 0 2.6 0a1.3 1.3 0 1 0 -2.6 0zM370.702 110.853a1.3 1.3 0 1 0 2.6 0a1.3 1.3 0 1 0 -2.6 0zM370.702 108.954a1.3 1.3 0 1 0 2.6 0a1.3 1.3 0 1 0 -2.6 0zM370.702 107.055a1.3 1.3 0 1 0 2.6 0a1.3 1.3 0 1 0 -2.6 0zM370.702 105.156a1.3 1.3 0 1 0 2.6 0a1.3 1.3 0 1 0 -2.6 0zM370.702 103.257a1.3 1.3 0 1 0 2.6 0a1.3 1.3 0 1 0 -2.6 0zM370.702 101.358a1.3 1.3 0 1 0 2.6 0a1.3 1.3 0 1 0 -2.6 0zM370.702 99.459a1.3 1.3 0 1 0 2.6 0a1.3 1.3 0 1 0 -2.6 0zM370.702 97.56a1.3 1.3 0 1 0 2.6 0a1.3 1.3 0 1 0 -2.6 0zM370.702 95.661a1.3 1.3 0 1 0 2.6 0a1.3 1.3 0 1 0 -2.6 0zM370.702 93.762a1.3 1.3 0 1 0 2.6 0a1.3 1.3 0 1 0 -2.6 0zM370.702 91.863a1.3 1.3 0 1 0 2.6 0a1.3 1.3 0 1 0 -2.6 0zM370.702 89.964a1.3 1.3 0 1 0 2.6 0a1.3 1.3 0 1 0 -2.6 0zM370.702 88.065a1.3 1.3 0 1 0 2.6 0a1.3 1.3 0 1 0 -2.6 0zM370.702 86.166a1.3 1.3 0 1 0 2.6 0a1.3 1.3 0 1 0 -2.6 0zM370.702 84.267a1.3 1.3 0 1 0 2.6 0a1.3 1.3 0 1 0 -2.6 0zM370.702 82.368a1.3 1.3 0 1 0 2.6 0a1.3 1.3 0 1 0 -2.6 0zM370.702 80.469a1.3 1.3 0 1 0 2.6 0a1.3 1.3 0 1 0 -2.6 0zM370.702 78.57a1.3 1.3 0 1 0 2.6 0a1.3 1.3 0 1 0 -2.6 0zM370.702 76.671a1.3 1.3 0 1 0 2.6 0a1.3 1.3 0 1 0 -2.6 0zM370.702 74.772a1.3 1.3 0 1 0 2.6 0a1.3 1.3 0 1 0 -2.6 0zM370.702 72.873a1.3 1.3 0 1 0 2.6 0a1.3 1.3 0 1 0 -2.6 0zM370.702 70.974a1.3 1.3 0 1 0 2.6 0a1.3 1.3 0 1 0 -2.6 0zM370.702 69.075a1.3 1.3 0 1 0 2.6 0a1.3 1.3 0 1 0 -2.6 0zM370.702 67.176a1.3 1.3 0 1 0 2.6 0a1.3 1.3 0 1 0 -2.6 0zM370.702 65.277a1.3 1.3 0 1 0 2.6 0a1.3 1.3 0 1 0 -2.6 0zM370.702 63.378a1.3 1.3 0 1 0 2.6 0a1.3 1.3 0 1 0 -2.6 0zM370.702 61.479a1.3 1.3 0 1 0 2.6 0a1.3 1.3 0 1 0 -2.6 0zM370.702 59.58a1.3 1.3 0 1 0 2.6 0a1.3 1.3 0 1 0 -2.6 0zM370.702 57.681a1.3 1.3 0 1 0 2.6 0a1.3 1.3 0 1 0 -2.6 0zM370.702 55.782a1.3 1.3 0 1 0 2.6 0a1.3 1.3 0 1 0 -2.6 0zM370.702 53.883a1.3 1.3 0 1 0 2.6 0a1.3 1.3 0 1 0 -2.6 0zM370.702 49.705a1.3 1.3 0 1 0 2.6 0a1.3 1.3 0 1 0 -2.6 0zM370.702 48.376a1.3 1.3 0 1 0 2.6 0a1.3 1.3 0 1 0 -2.6 0zM370.702 46.477a1.3 1.3 0 1 0 2.6 0a1.3 1.3 0 1 0 -2.6 0zM370.702 44.578a1.3 1.3 0 1 0 2.6 0a1.3 1.3 0 1 0 -2.6 0zM370.702 142.186a1.3 1.3 0 1 0 2.6 0a1.3 1.3 0 1 0 -2.6 0zM370.702 156.999a1.3 1.3 0 1 0 2.6 0a1.3 1.3 0 1 0 -2.6 0zM370.702 171.621a1.3 1.3 0 1 0 2.6 0a1.3 1.3 0 1 0 -2.6 0zM349.786 82.368a1.3 1.3 0 1 0 2.6 0a1.3 1.3 0 1 0 -2.6 0zM349.786 89.964a1.3 1.3 0 1 0 2.6 0a1.3 1.3 0 1 0 -2.6 0zM349.786 93.762a1.3 1.3 0 1 0 2.6 0a1.3 1.3 0 1 0 -2.6 0zM349.786 97.37a1.3 1.3 0 1 0 2.6 0a1.3 1.3 0 1 0 -2.6 0zM349.786 103.827a1.3 1.3 0 1 0 2.6 0a1.3 1.3 0 1 0 -2.6 0zM349.786 114.651a1.3 1.3 0 1 0 2.6 0a1.3 1.3 0 1 0 -2.6 0zM349.786 112.752a1.3 1.3 0 1 0 2.6 0a1.3 1.3 0 1 0 -2.6 0zM353.272 68.695a1.3 1.3 0 1 0 2.6 0a1.3 1.3 0 1 0 -2.6 0zM353.272 85.596a1.3 1.3 0 1 0 2.6 0a1.3 1.3 0 1 0 -2.6 0zM353.272 87.875a1.3 1.3 0 1 0 2.6 0a1.3 1.3 0 1 0 -2.6 0zM353.272 89.964a1.3 1.3 0 1 0 2.6 0a1.3 1.3 0 1 0 -2.6 0zM353.272 92.053a1.3 1.3 0 1 0 2.6 0a1.3 1.3 0 1 0 -2.6 0zM353.272 98.699a1.3 1.3 0 1 0 2.6 0a1.3 1.3 0 1 0 -2.6 0zM353.272 118.449a1.3 1.3 0 1 0 2.6 0a1.3 1.3 0 1 0 -2.6 0zM353.272 124.146a1.3 1.3 0 1 0 2.6 0a1.3 1.3 0 1 0 -2.6 0zM356.758 61.859a1.3 1.3 0 1 0 2.6 0a1.3 1.3 0 1 0 -2.6 0zM356.758 66.416a1.3 1.3 0 1 0 2.6 0a1.3 1.3 0 1 0 -2.6 0zM356.758 81.988a1.3 1.3 0 1 0 2.6 0a1.3 1.3 0 1 0 -2.6 0zM356.758 85.596a1.3 1.3 0 1 0 2.6 0a1.3 1.3 0 1 0 -2.6 0zM356.758 89.014a1.3 1.3 0 1 0 2.6 0a1.3 1.3 0 1 0 -2.6 0zM356.758 90.913a1.3 1.3 0 1 0 2.6 0a1.3 1.3 0 1 0 -2.6 0zM356.758 95.661a1.3 1.3 0 1 0 2.6 0a1.3 1.3 0 1 0 -2.6 0zM356.758 97.56a1.3 1.3 0 1 0 2.6 0a1.3 1.3 0 1 0 -2.6 0zM356.758 103.257a1.3 1.3 0 1 0 2.6 0a1.3 1.3 0 1 0 -2.6 0zM356.758 106.105a1.3 1.3 0 1 0 2.6 0a1.3 1.3 0 1 0 -2.6 0zM356.758 108.954a1.3 1.3 0 1 0 2.6 0a1.3 1.3 0 1 0 -2.6 0zM356.758 110.853a1.3 1.3 0 1 0 2.6 0a1.3 1.3 0 1 0 -2.6 0zM356.758 112.752a1.3 1.3 0 1 0 2.6 0a1.3 1.3 0 1 0 -2.6 0zM356.758 122.247a1.3 1.3 0 1 0 2.6 0a1.3 1.3 0 1 0 -2.6 0zM356.758 125.096a1.3 1.3 0 1 0 2.6 0a1.3 1.3 0 1 0 -2.6 0zM356.758 132.122a1.3 1.3 0 1 0 2.6 0a1.3 1.3 0 1 0 -2.6 0zM360.244 65.087a1.3 1.3 0 1 0 2.6 0a1.3 1.3 0 1 0 -2.6 0zM360.244 70.974a1.3 1.3 0 1 0 2.6 0a1.3 1.3 0 1 0 -2.6 0zM360.244 73.822a1.3 1.3 0 1 0 2.6 0a1.3 1.3 0 1 0 -2.6 0zM360.244 77.431a1.3 1.3 0 1 0 2.6 0a1.3 1.3 0 1 0 -2.6 0zM360.244 82.368a1.3 1.3 0 1 0 2.6 0a1.3 1.3 0 1 0 -2.6 0zM360.244 86.166a1.3 1.3 0 1 0 2.6 0a1.3 1.3 0 1 0 -2.6 0zM360.244 89.014a1.3 1.3 0 1 0 2.6 0a1.3 1.3 0 1 0 -2.6 0zM360.244 91.863a1.3 1.3 0 1 0 2.6 0a1.3 1.3 0 1 0 -2.6 0zM360.244 93.762a1.3 1.3 0 1 0 2.6 0a1.3 1.3 0 1 0 -2.6 0zM360.244 96.611a1.3 1.3 0 1 0 2.6 0a1.3 1.3 0 1 0 -2.6 0zM360.244 99.459a1.3 1.3 0 1 0 2.6 0a1.3 1.3 0 1 0 -2.6 0zM360.244 103.257a1.3 1.3 0 1 0 2.6 0a1.3 1.3 0 1 0 -2.6 0zM360.244 107.055a1.3 1.3 0 1 0 2.6 0a1.3 1.3 0 1 0 -2.6 0zM360.244 118.449a1.3 1.3 0 1 0 2.6 0a1.3 1.3 0 1 0 -2.6 0zM360.244 123.386a1.3 1.3 0 1 0 2.6 0a1.3 1.3 0 1 0 -2.6 0zM363.73 66.416a1.3 1.3 0 1 0 2.6 0a1.3 1.3 0 1 0 -2.6 0zM363.73 78.57a1.3 1.3 0 1 0 2.6 0a1.3 1.3 0 1 0 -2.6 0zM363.73 80.469a1.3 1.3 0 1 0 2.6 0a1.3 1.3 0 1 0 -2.6 0zM363.73 82.368a1.3 1.3 0 1 0 2.6 0a1.3 1.3 0 1 0 -2.6 0zM363.73 85.596a1.3 1.3 0 1 0 2.6 0a1.3 1.3 0 1 0 -2.6 0zM363.73 88.065a1.3 1.3 0 1 0 2.6 0a1.3 1.3 0 1 0 -2.6 0zM363.73 89.964a1.3 1.3 0 1 0 2.6 0a1.3 1.3 0 1 0 -2.6 0zM363.73 91.863a1.3 1.3 0 1 0 2.6 0a1.3 1.3 0 1 0 -2.6 0zM363.73 94.712a1.3 1.3 0 1 0 2.6 0a1.3 1.3 0 1 0 -2.6 0zM363.73 97.56a1.3 1.3 0 1 0 2.6 0a1.3 1.3 0 1 0 -2.6 0zM363.73 99.459a1.3 1.3 0 1 0 2.6 0a1.3 1.3 0 1 0 -2.6 0zM363.73 102.308a1.3 1.3 0 1 0 2.6 0a1.3 1.3 0 1 0 -2.6 0zM363.73 108.954a1.3 1.3 0 1 0 2.6 0a1.3 1.3 0 1 0 -2.6 0zM363.73 110.853a1.3 1.3 0 1 0 2.6 0a1.3 1.3 0 1 0 -2.6 0zM367.216 69.455a1.3 1.3 0 1 0 2.6 0a1.3 1.3 0 1 0 -2.6 0zM367.216 78.57a1.3 1.3 0 1 0 2.6 0a1.3 1.3 0 1 0 -2.6 0zM367.216 80.469a1.3 1.3 0 1 0 2.6 0a1.3 1.3 0 1 0 -2.6 0zM367.216 82.368a1.3 1.3 0 1 0 2.6 0a1.3 1.3 0 1 0 -2.6 0zM367.216 84.267a1.3 1.3 0 1 0 2.6 0a1.3 1.3 0 1 0 -2.6 0zM367.216 86.166a1.3 1.3 0 1 0 2.6 0a1.3 1.3 0 1 0 -2.6 0zM367.216 88.065a1.3 1.3 0 1 0 2.6 0a1.3 1.3 0 1 0 -2.6 0zM367.216 89.964a1.3 1.3 0 1 0 2.6 0a1.3 1.3 0 1 0 -2.6 0zM367.216 91.863a1.3 1.3 0 1 0 2.6 0a1.3 1.3 0 1 0 -2.6 0zM367.216 94.712a1.3 1.3 0 1 0 2.6 0a1.3 1.3 0 1 0 -2.6 0zM367.216 97.56a1.3 1.3 0 1 0 2.6 0a1.3 1.3 0 1 0 -2.6 0zM367.216 99.459a1.3 1.3 0 1 0 2.6 0a1.3 1.3 0 1 0 -2.6 0zM367.216 101.358a1.3 1.3 0 1 0 2.6 0a1.3 1.3 0 1 0 -2.6 0zM367.216 103.257a1.3 1.3 0 1 0 2.6 0a1.3 1.3 0 1 0 -2.6 0zM367.216 105.156a1.3 1.3 0 1 0 2.6 0a1.3 1.3 0 1 0 -2.6 0zM367.216 107.055a1.3 1.3 0 1 0 2.6 0a1.3 1.3 0 1 0 -2.6 0zM367.216 108.954a1.3 1.3 0 1 0 2.6 0a1.3 1.3 0 1 0 -2.6 0zM367.216 109.714a1.3 1.3 0 1 0 2.6 0a1.3 1.3 0 1 0 -2.6 0zM374.188 81.988a1.3 1.3 0 1 0 2.6 0a1.3 1.3 0 1 0 -2.6 0zM374.188 86.166a1.3 1.3 0 1 0 2.6 0a1.3 1.3 0 1 0 -2.6 0zM374.188 88.065a1.3 1.3 0 1 0 2.6 0a1.3 1.3 0 1 0 -2.6 0zM374.188 98.699a1.3 1.3 0 1 0 2.6 0a1.3 1.3 0 1 0 -2.6 0zM374.188 100.409a1.3 1.3 0 1 0 2.6 0a1.3 1.3 0 1 0 -2.6 0zM374.188 103.257a1.3 1.3 0 1 0 2.6 0a1.3 1.3 0 1 0 -2.6 0zM374.188 107.435a1.3 1.3 0 1 0 2.6 0a1.3 1.3 0 1 0 -2.6 0zM374.188 111.802a1.3 1.3 0 1 0 2.6 0a1.3 1.3 0 1 0 -2.6 0zM374.188 125.665a1.3 1.3 0 1 0 2.6 0a1.3 1.3 0 1 0 -2.6 0zM374.188 129.083a1.3 1.3 0 1 0 2.6 0a1.3 1.3 0 1 0 -2.6 0zM377.674 88.445a1.3 1.3 0 1 0 2.6 0a1.3 1.3 0 1 0 -2.6 0zM381.16 61.859a1.3 1.3 0 1 0 2.6 0a1.3 1.3 0 1 0 -2.6 0zM381.16 73.822a1.3 1.3 0 1 0 2.6 0a1.3 1.3 0 1 0 -2.6 0zM381.16 75.721a1.3 1.3 0 1 0 2.6 0a1.3 1.3 0 1 0 -2.6 0zM381.16 77.62a1.3 1.3 0 1 0 2.6 0a1.3 1.3 0 1 0 -2.6 0zM381.16 82.558a1.3 1.3 0 1 0 2.6 0a1.3 1.3 0 1 0 -2.6 0zM381.16 86.166a1.3 1.3 0 1 0 2.6 0a1.3 1.3 0 1 0 -2.6 0zM381.16 88.065a1.3 1.3 0 1 0 2.6 0a1.3 1.3 0 1 0 -2.6 0zM381.16 89.964a1.3 1.3 0 1 0 2.6 0a1.3 1.3 0 1 0 -2.6 0zM381.16 91.863a1.3 1.3 0 1 0 2.6 0a1.3 1.3 0 1 0 -2.6 0zM381.16 93.762a1.3 1.3 0 1 0 2.6 0a1.3 1.3 0 1 0 -2.6 0zM381.16 105.156a1.3 1.3 0 1 0 2.6 0a1.3 1.3 0 1 0 -2.6 0zM381.16 107.055a1.3 1.3 0 1 0 2.6 0a1.3 1.3 0 1 0 -2.6 0zM381.16 108.954a1.3 1.3 0 1 0 2.6 0a1.3 1.3 0 1 0 -2.6 0zM381.16 110.853a1.3 1.3 0 1 0 2.6 0a1.3 1.3 0 1 0 -2.6 0zM381.16 112.752a1.3 1.3 0 1 0 2.6 0a1.3 1.3 0 1 0 -2.6 0zM384.646 86.926a1.3 1.3 0 1 0 2.6 0a1.3 1.3 0 1 0 -2.6 0zM388.132 76.861a1.3 1.3 0 1 0 2.6 0a1.3 1.3 0 1 0 -2.6 0zM388.132 130.793a1.3 1.3 0 1 0 2.6 0a1.3 1.3 0 1 0 -2.6 0zM391.618 78.95a1.3 1.3 0 1 0 2.6 0a1.3 1.3 0 1 0 -2.6 0zM395.104 70.214a1.3 1.3 0 1 0 2.6 0a1.3 1.3 0 1 0 -2.6 0zM395.104 131.362a1.3 1.3 0 1 0 2.6 0a1.3 1.3 0 1 0 -2.6 0zM395.104 139.718a1.3 1.3 0 1 0 2.6 0a1.3 1.3 0 1 0 -2.6 0zM398.59 62.808a1.3 1.3 0 1 0 2.6 0a1.3 1.3 0 1 0 -2.6 0zM398.59 77.431a1.3 1.3 0 1 0 2.6 0a1.3 1.3 0 1 0 -2.6 0zM398.59 84.077a1.3 1.3 0 1 0 2.6 0a1.3 1.3 0 1 0 -2.6 0zM398.59 115.98a1.3 1.3 0 1 0 2.6 0a1.3 1.3 0 1 0 -2.6 0zM402.076 83.317a1.3 1.3 0 1 0 2.6 0a1.3 1.3 0 1 0 -2.6 0zM402.076 100.978a1.3 1.3 0 1 0 2.6 0a1.3 1.3 0 1 0 -2.6 0zM409.048 95.091a1.3 1.3 0 1 0 2.6 0a1.3 1.3 0 1 0 -2.6 0zM416.02 76.671a1.3 1.3 0 1 0 2.6 0a1.3 1.3 0 1 0 -2.6 0zM416.02 78.57a1.3 1.3 0 1 0 2.6 0a1.3 1.3 0 1 0 -2.6 0zM416.02 85.596a1.3 1.3 0 1 0 2.6 0a1.3 1.3 0 1 0 -2.6 0zM416.02 89.014a1.3 1.3 0 1 0 2.6 0a1.3 1.3 0 1 0 -2.6 0zM416.02 98.699a1.3 1.3 0 1 0 2.6 0a1.3 1.3 0 1 0 -2.6 0zM416.02 127.754a1.3 1.3 0 1 0 2.6 0a1.3 1.3 0 1 0 -2.6 0zM416.02 137.439a1.3 1.3 0 1 0 2.6 0a1.3 1.3 0 1 0 -2.6 0zM419.506 59.2a1.3 1.3 0 1 0 2.6 0a1.3 1.3 0 1 0 -2.6 0zM419.506 74.772a1.3 1.3 0 1 0 2.6 0a1.3 1.3 0 1 0 -2.6 0zM419.506 76.671a1.3 1.3 0 1 0 2.6 0a1.3 1.3 0 1 0 -2.6 0zM419.506 78.57a1.3 1.3 0 1 0 2.6 0a1.3 1.3 0 1 0 -2.6 0zM419.506 86.166a1.3 1.3 0 1 0 2.6 0a1.3 1.3 0 1 0 -2.6 0zM419.506 91.863a1.3 1.3 0 1 0 2.6 0a1.3 1.3 0 1 0 -2.6 0zM419.506 107.435a1.3 1.3 0 1 0 2.6 0a1.3 1.3 0 1 0 -2.6 0zM419.506 112.372a1.3 1.3 0 1 0 2.6 0a1.3 1.3 0 1 0 -2.6 0zM419.506 117.879a1.3 1.3 0 1 0 2.6 0a1.3 1.3 0 1 0 -2.6 0zM419.506 127.754a1.3 1.3 0 1 0 2.6 0a1.3 1.3 0 1 0 -2.6 0zM419.506 134.97a1.3 1.3 0 1 0 2.6 0a1.3 1.3 0 1 0 -2.6 0zM429.964 92.053a1.3 1.3 0 1 0 2.6 0a1.3 1.3 0 1 0 -2.6 0zM433.45 75.911a1.3 1.3 0 1 0 2.6 0a1.3 1.3 0 1 0 -2.6 0zM433.45 97.56a1.3 1.3 0 1 0 2.6 0a1.3 1.3 0 1 0 -2.6 0zM443.908 75.532a1.3 1.3 0 1 0 2.6 0a1.3 1.3 0 1 0 -2.6 0zM443.908 82.938a1.3 1.3 0 1 0 2.6 0a1.3 1.3 0 1 0 -2.6 0zM443.908 89.964a1.3 1.3 0 1 0 2.6 0a1.3 1.3 0 1 0 -2.6 0zM443.908 109.524a1.3 1.3 0 1 0 2.6 0a1.3 1.3 0 1 0 -2.6 0zM450.88 88.065a1.3 1.3 0 1 0 2.6 0a1.3 1.3 0 1 0 -2.6 0zM450.88 111.992a1.3 1.3 0 1 0 2.6 0a1.3 1.3 0 1 0 -2.6 0zM468.31 85.027a1.3 1.3 0 1 0 2.6 0a1.3 1.3 0 1 0 -2.6 0zM471.796 86.546a1.3 1.3 0 1 0 2.6 0a1.3 1.3 0 1 0 -2.6 0zM478.768 84.077a1.3 1.3 0 1 0 2.6 0a1.3 1.3 0 1 0 -2.6 0zM485.74 112.752a1.3 1.3 0 1 0 2.6 0a1.3 1.3 0 1 0 -2.6 0zM492.712 89.964a1.3 1.3 0 1 0 2.6 0a1.3 1.3 0 1 0 -2.6 0zM492.712 93.002a1.3 1.3 0 1 0 2.6 0a1.3 1.3 0 1 0 -2.6 0zM513.628 88.065a1.3 1.3 0 1 0 2.6 0a1.3 1.3 0 1 0 -2.6 0zM541.516 95.661a1.3 1.3 0 1 0 2.6 0a1.3 1.3 0 1 0 -2.6 0zM541.516 103.257a1.3 1.3 0 1 0 2.6 0a1.3 1.3 0 1 0 -2.6 0zM590.32 145.984a1.3 1.3 0 1 0 2.6 0a1.3 1.3 0 1 0 -2.6 0zM395.104 120.348a1.3 1.3 0 1 0 2.6 0a1.3 1.3 0 1 0 -2.6 0zM395.104 118.449a1.3 1.3 0 1 0 2.6 0a1.3 1.3 0 1 0 -2.6 0zM395.104 116.55a1.3 1.3 0 1 0 2.6 0a1.3 1.3 0 1 0 -2.6 0zM395.104 114.651a1.3 1.3 0 1 0 2.6 0a1.3 1.3 0 1 0 -2.6 0zM395.104 112.752a1.3 1.3 0 1 0 2.6 0a1.3 1.3 0 1 0 -2.6 0zM395.104 110.853a1.3 1.3 0 1 0 2.6 0a1.3 1.3 0 1 0 -2.6 0zM395.104 108.954a1.3 1.3 0 1 0 2.6 0a1.3 1.3 0 1 0 -2.6 0zM395.104 107.055a1.3 1.3 0 1 0 2.6 0a1.3 1.3 0 1 0 -2.6 0zM395.104 105.156a1.3 1.3 0 1 0 2.6 0a1.3 1.3 0 1 0 -2.6 0zM395.104 103.257a1.3 1.3 0 1 0 2.6 0a1.3 1.3 0 1 0 -2.6 0zM395.104 101.358a1.3 1.3 0 1 0 2.6 0a1.3 1.3 0 1 0 -2.6 0zM395.104 99.459a1.3 1.3 0 1 0 2.6 0a1.3 1.3 0 1 0 -2.6 0zM395.104 97.56a1.3 1.3 0 1 0 2.6 0a1.3 1.3 0 1 0 -2.6 0zM395.104 95.661a1.3 1.3 0 1 0 2.6 0a1.3 1.3 0 1 0 -2.6 0zM395.104 93.762a1.3 1.3 0 1 0 2.6 0a1.3 1.3 0 1 0 -2.6 0zM395.104 91.863a1.3 1.3 0 1 0 2.6 0a1.3 1.3 0 1 0 -2.6 0zM395.104 89.964a1.3 1.3 0 1 0 2.6 0a1.3 1.3 0 1 0 -2.6 0zM395.104 88.065a1.3 1.3 0 1 0 2.6 0a1.3 1.3 0 1 0 -2.6 0zM395.104 86.166a1.3 1.3 0 1 0 2.6 0a1.3 1.3 0 1 0 -2.6 0zM395.104 84.267a1.3 1.3 0 1 0 2.6 0a1.3 1.3 0 1 0 -2.6 0zM395.104 82.368a1.3 1.3 0 1 0 2.6 0a1.3 1.3 0 1 0 -2.6 0zM395.104 80.469a1.3 1.3 0 1 0 2.6 0a1.3 1.3 0 1 0 -2.6 0zM395.104 78.57a1.3 1.3 0 1 0 2.6 0a1.3 1.3 0 1 0 -2.6 0zM395.104 76.671a1.3 1.3 0 1 0 2.6 0a1.3 1.3 0 1 0 -2.6 0zM395.104 74.772a1.3 1.3 0 1 0 2.6 0a1.3 1.3 0 1 0 -2.6 0zM395.104 72.873a1.3 1.3 0 1 0 2.6 0a1.3 1.3 0 1 0 -2.6 0zM346.3 161.177a1.3 1.3 0 1 0 2.6 0a1.3 1.3 0 1 0 -2.6 0zM346.3 159.278a1.3 1.3 0 1 0 2.6 0a1.3 1.3 0 1 0 -2.6 0zM346.3 157.379a1.3 1.3 0 1 0 2.6 0a1.3 1.3 0 1 0 -2.6 0zM346.3 155.48a1.3 1.3 0 1 0 2.6 0a1.3 1.3 0 1 0 -2.6 0zM346.3 153.581a1.3 1.3 0 1 0 2.6 0a1.3 1.3 0 1 0 -2.6 0zM346.3 151.681a1.3 1.3 0 1 0 2.6 0a1.3 1.3 0 1 0 -2.6 0zM346.3 149.782a1.3 1.3 0 1 0 2.6 0a1.3 1.3 0 1 0 -2.6 0zM346.3 147.883a1.3 1.3 0 1 0 2.6 0a1.3 1.3 0 1 0 -2.6 0zM346.3 145.984a1.3 1.3 0 1 0 2.6 0a1.3 1.3 0 1 0 -2.6 0zM346.3 144.085a1.3 1.3 0 1 0 2.6 0a1.3 1.3 0 1 0 -2.6 0zM346.3 142.186a1.3 1.3 0 1 0 2.6 0a1.3 1.3 0 1 0 -2.6 0zM346.3 140.287a1.3 1.3 0 1 0 2.6 0a1.3 1.3 0 1 0 -2.6 0zM346.3 138.388a1.3 1.3 0 1 0 2.6 0a1.3 1.3 0 1 0 -2.6 0zM346.3 136.489a1.3 1.3 0 1 0 2.6 0a1.3 1.3 0 1 0 -2.6 0zM346.3 134.591a1.3 1.3 0 1 0 2.6 0a1.3 1.3 0 1 0 -2.6 0zM346.3 132.692a1.3 1.3 0 1 0 2.6 0a1.3 1.3 0 1 0 -2.6 0zM346.3 130.793a1.3 1.3 0 1 0 2.6 0a1.3 1.3 0 1 0 -2.6 0zM346.3 128.894a1.3 1.3 0 1 0 2.6 0a1.3 1.3 0 1 0 -2.6 0zM346.3 126.995a1.3 1.3 0 1 0 2.6 0a1.3 1.3 0 1 0 -2.6 0zM346.3 125.096a1.3 1.3 0 1 0 2.6 0a1.3 1.3 0 1 0 -2.6 0zM346.3 123.197a1.3 1.3 0 1 0 2.6 0a1.3 1.3 0 1 0 -2.6 0zM346.3 121.297a1.3 1.3 0 1 0 2.6 0a1.3 1.3 0 1 0 -2.6 0zM346.3 119.398a1.3 1.3 0 1 0 2.6 0a1.3 1.3 0 1 0 -2.6 0zM346.3 117.499a1.3 1.3 0 1 0 2.6 0a1.3 1.3 0 1 0 -2.6 0zM346.3 115.6a1.3 1.3 0 1 0 2.6 0a1.3 1.3 0 1 0 -2.6 0zM346.3 113.701a1.3 1.3 0 1 0 2.6 0a1.3 1.3 0 1 0 -2.6 0zM346.3 111.802a1.3 1.3 0 1 0 2.6 0a1.3 1.3 0 1 0 -2.6 0zM346.3 109.903a1.3 1.3 0 1 0 2.6 0a1.3 1.3 0 1 0 -2.6 0zM346.3 108.004a1.3 1.3 0 1 0 2.6 0a1.3 1.3 0 1 0 -2.6 0zM346.3 106.105a1.3 1.3 0 1 0 2.6 0a1.3 1.3 0 1 0 -2.6 0zM346.3 104.207a1.3 1.3 0 1 0 2.6 0a1.3 1.3 0 1 0 -2.6 0zM346.3 102.308a1.3 1.3 0 1 0 2.6 0a1.3 1.3 0 1 0 -2.6 0zM346.3 100.409a1.3 1.3 0 1 0 2.6 0a1.3 1.3 0 1 0 -2.6 0zM346.3 98.51a1.3 1.3 0 1 0 2.6 0a1.3 1.3 0 1 0 -2.6 0zM346.3 96.611a1.3 1.3 0 1 0 2.6 0a1.3 1.3 0 1 0 -2.6 0zM346.3 94.712a1.3 1.3 0 1 0 2.6 0a1.3 1.3 0 1 0 -2.6 0zM346.3 92.812a1.3 1.3 0 1 0 2.6 0a1.3 1.3 0 1 0 -2.6 0zM346.3 90.913a1.3 1.3 0 1 0 2.6 0a1.3 1.3 0 1 0 -2.6 0zM346.3 89.014a1.3 1.3 0 1 0 2.6 0a1.3 1.3 0 1 0 -2.6 0zM346.3 87.115a1.3 1.3 0 1 0 2.6 0a1.3 1.3 0 1 0 -2.6 0zM346.3 85.216a1.3 1.3 0 1 0 2.6 0a1.3 1.3 0 1 0 -2.6 0zM346.3 83.317a1.3 1.3 0 1 0 2.6 0a1.3 1.3 0 1 0 -2.6 0zM346.3 81.418a1.3 1.3 0 1 0 2.6 0a1.3 1.3 0 1 0 -2.6 0zM346.3 79.519a1.3 1.3 0 1 0 2.6 0a1.3 1.3 0 1 0 -2.6 0zM346.3 77.62a1.3 1.3 0 1 0 2.6 0a1.3 1.3 0 1 0 -2.6 0zM346.3 75.721a1.3 1.3 0 1 0 2.6 0a1.3 1.3 0 1 0 -2.6 0zM346.3 73.822a1.3 1.3 0 1 0 2.6 0a1.3 1.3 0 1 0 -2.6 0zM346.3 71.923a1.3 1.3 0 1 0 2.6 0a1.3 1.3 0 1 0 -2.6 0zM346.3 70.024a1.3 1.3 0 1 0 2.6 0a1.3 1.3 0 1 0 -2.6 0zM346.3 68.125a1.3 1.3 0 1 0 2.6 0a1.3 1.3 0 1 0 -2.6 0zM346.3 66.226a1.3 1.3 0 1 0 2.6 0a1.3 1.3 0 1 0 -2.6 0zM346.3 64.327a1.3 1.3 0 1 0 2.6 0a1.3 1.3 0 1 0 -2.6 0zM346.3 62.428a1.3 1.3 0 1 0 2.6 0a1.3 1.3 0 1 0 -2.6 0zM346.3 60.529a1.3 1.3 0 1 0 2.6 0a1.3 1.3 0 1 0 -2.6 0zM370.702 134.591a1.3 1.3 0 1 0 2.6 0a1.3 1.3 0 1 0 -2.6 0zM370.702 132.692a1.3 1.3 0 1 0 2.6 0a1.3 1.3 0 1 0 -2.6 0zM370.702 130.793a1.3 1.3 0 1 0 2.6 0a1.3 1.3 0 1 0 -2.6 0zM370.702 128.894a1.3 1.3 0 1 0 2.6 0a1.3 1.3 0 1 0 -2.6 0zM370.702 126.995a1.3 1.3 0 1 0 2.6 0a1.3 1.3 0 1 0 -2.6 0zM370.702 125.096a1.3 1.3 0 1 0 2.6 0a1.3 1.3 0 1 0 -2.6 0zM370.702 123.197a1.3 1.3 0 1 0 2.6 0a1.3 1.3 0 1 0 -2.6 0zM370.702 121.297a1.3 1.3 0 1 0 2.6 0a1.3 1.3 0 1 0 -2.6 0zM370.702 119.398a1.3 1.3 0 1 0 2.6 0a1.3 1.3 0 1 0 -2.6 0zM370.702 117.499a1.3 1.3 0 1 0 2.6 0a1.3 1.3 0 1 0 -2.6 0zM370.702 115.6a1.3 1.3 0 1 0 2.6 0a1.3 1.3 0 1 0 -2.6 0zM370.702 113.701a1.3 1.3 0 1 0 2.6 0a1.3 1.3 0 1 0 -2.6 0zM370.702 111.802a1.3 1.3 0 1 0 2.6 0a1.3 1.3 0 1 0 -2.6 0zM370.702 109.903a1.3 1.3 0 1 0 2.6 0a1.3 1.3 0 1 0 -2.6 0zM370.702 108.004a1.3 1.3 0 1 0 2.6 0a1.3 1.3 0 1 0 -2.6 0zM370.702 106.105a1.3 1.3 0 1 0 2.6 0a1.3 1.3 0 1 0 -2.6 0zM370.702 104.207a1.3 1.3 0 1 0 2.6 0a1.3 1.3 0 1 0 -2.6 0zM370.702 102.308a1.3 1.3 0 1 0 2.6 0a1.3 1.3 0 1 0 -2.6 0zM370.702 100.409a1.3 1.3 0 1 0 2.6 0a1.3 1.3 0 1 0 -2.6 0zM370.702 98.51a1.3 1.3 0 1 0 2.6 0a1.3 1.3 0 1 0 -2.6 0zM370.702 96.611a1.3 1.3 0 1 0 2.6 0a1.3 1.3 0 1 0 -2.6 0zM370.702 94.712a1.3 1.3 0 1 0 2.6 0a1.3 1.3 0 1 0 -2.6 0zM370.702 92.812a1.3 1.3 0 1 0 2.6 0a1.3 1.3 0 1 0 -2.6 0zM370.702 90.913a1.3 1.3 0 1 0 2.6 0a1.3 1.3 0 1 0 -2.6 0zM370.702 89.014a1.3 1.3 0 1 0 2.6 0a1.3 1.3 0 1 0 -2.6 0zM370.702 87.115a1.3 1.3 0 1 0 2.6 0a1.3 1.3 0 1 0 -2.6 0zM370.702 85.216a1.3 1.3 0 1 0 2.6 0a1.3 1.3 0 1 0 -2.6 0zM370.702 83.317a1.3 1.3 0 1 0 2.6 0a1.3 1.3 0 1 0 -2.6 0zM370.702 81.418a1.3 1.3 0 1 0 2.6 0a1.3 1.3 0 1 0 -2.6 0zM370.702 79.519a1.3 1.3 0 1 0 2.6 0a1.3 1.3 0 1 0 -2.6 0zM370.702 77.62a1.3 1.3 0 1 0 2.6 0a1.3 1.3 0 1 0 -2.6 0zM370.702 75.721a1.3 1.3 0 1 0 2.6 0a1.3 1.3 0 1 0 -2.6 0zM370.702 73.822a1.3 1.3 0 1 0 2.6 0a1.3 1.3 0 1 0 -2.6 0zM370.702 71.923a1.3 1.3 0 1 0 2.6 0a1.3 1.3 0 1 0 -2.6 0zM370.702 70.024a1.3 1.3 0 1 0 2.6 0a1.3 1.3 0 1 0 -2.6 0zM370.702 68.125a1.3 1.3 0 1 0 2.6 0a1.3 1.3 0 1 0 -2.6 0zM370.702 66.226a1.3 1.3 0 1 0 2.6 0a1.3 1.3 0 1 0 -2.6 0zM370.702 64.327a1.3 1.3 0 1 0 2.6 0a1.3 1.3 0 1 0 -2.6 0zM370.702 62.428a1.3 1.3 0 1 0 2.6 0a1.3 1.3 0 1 0 -2.6 0zM370.702 60.529a1.3 1.3 0 1 0 2.6 0a1.3 1.3 0 1 0 -2.6 0zM370.702 58.631a1.3 1.3 0 1 0 2.6 0a1.3 1.3 0 1 0 -2.6 0zM370.702 56.732a1.3 1.3 0 1 0 2.6 0a1.3 1.3 0 1 0 -2.6 0zM370.702 54.833a1.3 1.3 0 1 0 2.6 0a1.3 1.3 0 1 0 -2.6 0z"/>
<line x1="347.6" y1="99.5" x2="591.6" y2="58.6" stroke="#111" stroke-width="1.1"/>
<text transform="translate(1.268,312.8) scale(1,1)" font-size="18.3" font-weight="bold" fill="#000" stroke="#000" stroke-width="0.3">C</text>
<line x1="60" y1="514.25" x2="60" y2="322.25" stroke="#000" stroke-width="2"/>
<text transform="translate(42.933,518.35) scale(0.775,1)" font-size="15.2" font-weight="bold" fill="#000" stroke="#000" stroke-width="0.3">0</text>
<line x1="52" y1="475.25" x2="59" y2="475.25" stroke="#000" stroke-width="2"/>
<text transform="translate(36.395,480.35) scale(0.775,1)" font-size="15.2" font-weight="bold" fill="#000" stroke="#000" stroke-width="0.3">20</text>
<line x1="52" y1="437.25" x2="59" y2="437.25" stroke="#000" stroke-width="2"/>
<text transform="translate(36.395,442.35) scale(0.775,1)" font-size="15.2" font-weight="bold" fill="#000" stroke="#000" stroke-width="0.3">40</text>
<line x1="52" y1="399.25" x2="59" y2="399.25" stroke="#000" stroke-width="2"/>
<text transform="translate(36.395,404.35) scale(0.775,1)" font-size="15.2" font-weight="bold" fill="#000" stroke="#000" stroke-width="0.3">60</text>
<line x1="52" y1="361.25" x2="59" y2="361.25" stroke="#000" stroke-width="2"/>
<text transform="translate(36.395,366.35) scale(0.775,1)" font-size="15.2" font-weight="bold" fill="#000" stroke="#000" stroke-width="0.3">80</text>
<line x1="52" y1="323.25" x2="59" y2="323.25" stroke="#000" stroke-width="2"/>
<text transform="translate(29.828,328.35) scale(0.775,1)" font-size="15.2" font-weight="bold" fill="#000" stroke="#000" stroke-width="0.3">100</text>
<line x1="52" y1="513.25" x2="346" y2="513.25" stroke="#000" stroke-width="2"/>
<line x1="60" y1="513.25" x2="60" y2="520.6" stroke="#000" stroke-width="2"/>
<text transform="translate(56.731,537.2) scale(0.775,1)" font-size="15.2" font-weight="bold" fill="#000" stroke="#000" stroke-width="0.3">0</text>
<line x1="131.25" y1="513.25" x2="131.25" y2="520.6" stroke="#000" stroke-width="2"/>
<text transform="translate(124.742,537.2) scale(0.775,1)" font-size="15.2" font-weight="bold" fill="#000" stroke="#000" stroke-width="0.3">20</text>
<line x1="202.5" y1="513.25" x2="202.5" y2="520.6" stroke="#000" stroke-width="2"/>
<text transform="translate(196.109,537.2) scale(0.775,1)" font-size="15.2" font-weight="bold" fill="#000" stroke="#000" stroke-width="0.3">40</text>
<line x1="273.75" y1="513.25" x2="273.75" y2="520.6" stroke="#000" stroke-width="2"/>
<text transform="translate(267.227,537.2) scale(0.775,1)" font-size="15.2" font-weight="bold" fill="#000" stroke="#000" stroke-width="0.3">60</text>
<line x1="345" y1="513.25" x2="345" y2="520.6" stroke="#000" stroke-width="2"/>
<text transform="translate(338.506,537.2) scale(0.775,1)" font-size="15.2" font-weight="bold" fill="#000" stroke="#000" stroke-width="0.3">80</text>
<text transform="translate(69.748,562.5) scale(0.826,1)" font-size="16.7" font-weight="bold" fill="#000" stroke="#000" stroke-width="0.3">Aspirin intake duration until AAO (years)</text>
<text transform="translate(20.4,432.334) rotate(-90) scale(0.816,1)" font-size="16.6" font-weight="bold" stroke="#000" stroke-width="0.3">AAO</text>
<text transform="translate(345.98,465) scale(1.002,1)" font-size="13.6" font-weight="normal" fill="#111" stroke="#111" stroke-width="0.25">r=0.23</text>
<text transform="translate(346.039,480.1) scale(0.974,1)" font-size="13.6" font-weight="normal" fill="#111" stroke="#111" stroke-width="0.25">p&lt;0.0001</text>
<text transform="translate(345.999,495.3) scale(0.981,1)" font-size="13.6" font-weight="normal" fill="#111" stroke="#111" stroke-width="0.25">n=577</text>
<path fill="#000" d="M58.85 406.85a1.15 1.15 0 1 0 2.3 0a1.15 1.15 0 1 0 -2.3 0zM58.85 416.35a1.15 1.15 0 1 0 2.3 0a1.15 1.15 0 1 0 -2.3 0zM58.85 399.25a1.15 1.15 0 1 0 2.3 0a1.15 1.15 0 1 0 -2.3 0zM58.85 389.75a1.15 1.15 0 1 0 2.3 0a1.15 1.15 0 1 0 -2.3 0zM58.85 378.35a1.15 1.15 0 1 0 2.3 0a1.15 1.15 0 1 0 -2.3 0zM58.85 393.55a1.15 1.15 0 1 0 2.3 0a1.15 1.15 0 1 0 -2.3 0zM58.85 403.05a1.15 1.15 0 1 0 2.3 0a1.15 1.15 0 1 0 -2.3 0zM58.85 406.85a1.15 1.15 0 1 0 2.3 0a1.15 1.15 0 1 0 -2.3 0zM58.85 384.05a1.15 1.15 0 1 0 2.3 0a1.15 1.15 0 1 0 -2.3 0zM58.85 370.75a1.15 1.15 0 1 0 2.3 0a1.15 1.15 0 1 0 -2.3 0zM58.85 391.65a1.15 1.15 0 1 0 2.3 0a1.15 1.15 0 1 0 -2.3 0zM58.85 414.45a1.15 1.15 0 1 0 2.3 0a1.15 1.15 0 1 0 -2.3 0zM58.85 410.65a1.15 1.15 0 1 0 2.3 0a1.15 1.15 0 1 0 -2.3 0zM58.85 370.75a1.15 1.15 0 1 0 2.3 0a1.15 1.15 0 1 0 -2.3 0zM58.85 391.65a1.15 1.15 0 1 0 2.3 0a1.15 1.15 0 1 0 -2.3 0zM58.85 422.05a1.15 1.15 0 1 0 2.3 0a1.15 1.15 0 1 0 -2.3 0zM58.85 397.35a1.15 1.15 0 1 0 2.3 0a1.15 1.15 0 1 0 -2.3 0zM58.85 412.55a1.15 1.15 0 1 0 2.3 0a1.15 1.15 0 1 0 -2.3 0zM58.85 404.95a1.15 1.15 0 1 0 2.3 0a1.15 1.15 0 1 0 -2.3 0zM58.85 403.05a1.15 1.15 0 1 0 2.3 0a1.15 1.15 0 1 0 -2.3 0zM58.85 406.85a1.15 1.15 0 1 0 2.3 0a1.15 1.15 0 1 0 -2.3 0zM58.85 387.85a1.15 1.15 0 1 0 2.3 0a1.15 1.15 0 1 0 -2.3 0zM58.85 397.35a1.15 1.15 0 1 0 2.3 0a1.15 1.15 0 1 0 -2.3 0zM58.85 404.95a1.15 1.15 0 1 0 2.3 0a1.15 1.15 0 1 0 -2.3 0zM58.85 389.75a1.15 1.15 0 1 0 2.3 0a1.15 1.15 0 1 0 -2.3 0zM58.85 382.15a1.15 1.15 0 1 0 2.3 0a1.15 1.15 0 1 0 -2.3 0zM58.85 420.15a1.15 1.15 0 1 0 2.3 0a1.15 1.15 0 1 0 -2.3 0zM58.85 399.25a1.15 1.15 0 1 0 2.3 0a1.15 1.15 0 1 0 -2.3 0zM58.85 410.65a1.15 1.15 0 1 0 2.3 0a1.15 1.15 0 1 0 -2.3 0zM58.85 397.35a1.15 1.15 0 1 0 2.3 0a1.15 1.15 0 1 0 -2.3 0zM58.85 414.45a1.15 1.15 0 1 0 2.3 0a1.15 1.15 0 1 0 -2.3 0zM58.85 395.45a1.15 1.15 0 1 0 2.3 0a1.15 1.15 0 1 0 -2.3 0zM58.85 395.45a1.15 1.15 0 1 0 2.3 0a1.15 1.15 0 1 0 -2.3 0zM58.85 399.25a1.15 1.15 0 1 0 2.3 0a1.15 1.15 0 1 0 -2.3 0zM58.85 410.65a1.15 1.15 0 1 0 2.3 0a1.15 1.15 0 1 0 -2.3 0zM58.85 401.15a1.15 1.15 0 1 0 2.3 0a1.15 1.15 0 1 0 -2.3 0zM58.85 412.55a1.15 1.15 0 1 0 2.3 0a1.15 1.15 0 1 0 -2.3 0zM58.85 416.35a1.15 1.15 0 1 0 2.3 0a1.15 1.15 0 1 0 -2.3 0zM62.413 391.65a1.15 1.15 0 1 0 2.3 0a1.15 1.15 0 1 0 -2.3 0zM62.413 412.55a1.15 1.15 0 1 0 2.3 0a1.15 1.15 0 1 0 -2.3 0zM62.413 376.45a1.15 1.15 0 1 0 2.3 0a1.15 1.15 0 1 0 -2.3 0zM62.413 384.05a1.15 1.15 0 1 0 2.3 0a1.15 1.15 0 1 0 -2.3 0zM62.413 425.85a1.15 1.15 0 1 0 2.3 0a1.15 1.15 0 1 0 -2.3 0zM62.413 391.65a1.15 1.15 0 1 0 2.3 0a1.15 1.15 0 1 0 -2.3 0zM62.413 412.55a1.15 1.15 0 1 0 2.3 0a1.15 1.15 0 1 0 -2.3 0zM62.413 395.45a1.15 1.15 0 1 0 2.3 0a1.15 1.15 0 1 0 -2.3 0zM62.413 395.45a1.15 1.15 0 1 0 2.3 0a1.15 1.15 0 1 0 -2.3 0zM62.413 425.85a1.15 1.15 0 1 0 2.3 0a1.15 1.15 0 1 0 -2.3 0zM62.413 399.25a1.15 1.15 0 1 0 2.3 0a1.15 1.15 0 1 0 -2.3 0zM62.413 399.25a1.15 1.15 0 1 0 2.3 0a1.15 1.15 0 1 0 -2.3 0zM62.413 380.25a1.15 1.15 0 1 0 2.3 0a1.15 1.15 0 1 0 -2.3 0zM62.413 412.55a1.15 1.15 0 1 0 2.3 0a1.15 1.15 0 1 0 -2.3 0zM62.413 384.05a1.15 1.15 0 1 0 2.3 0a1.15 1.15 0 1 0 -2.3 0zM62.413 412.55a1.15 1.15 0 1 0 2.3 0a1.15 1.15 0 1 0 -2.3 0zM62.413 401.15a1.15 1.15 0 1 0 2.3 0a1.15 1.15 0 1 0 -2.3 0zM62.413 408.75a1.15 1.15 0 1 0 2.3 0a1.15 1.15 0 1 0 -2.3 0zM62.413 372.65a1.15 1.15 0 1 0 2.3 0a1.15 1.15 0 1 0 -2.3 0zM62.413 385.95a1.15 1.15 0 1 0 2.3 0a1.15 1.15 0 1 0 -2.3 0zM62.413 385.95a1.15 1.15 0 1 0 2.3 0a1.15 1.15 0 1 0 -2.3 0zM62.413 382.15a1.15 1.15 0 1 0 2.3 0a1.15 1.15 0 1 0 -2.3 0zM62.413 382.15a1.15 1.15 0 1 0 2.3 0a1.15 1.15 0 1 0 -2.3 0zM62.413 404.95a1.15 1.15 0 1 0 2.3 0a1.15 1.15 0 1 0 -2.3 0zM62.413 395.45a1.15 1.15 0 1 0 2.3 0a1.15 1.15 0 1 0 -2.3 0zM62.413 374.55a1.15 1.15 0 1 0 2.3 0a1.15 1.15 0 1 0 -2.3 0zM62.413 401.15a1.15 1.15 0 1 0 2.3 0a1.15 1.15 0 1 0 -2.3 0zM62.413 391.65a1.15 1.15 0 1 0 2.3 0a1.15 1.15 0 1 0 -2.3 0zM62.413 395.45a1.15 1.15 0 1 0 2.3 0a1.15 1.15 0 1 0 -2.3 0zM62.413 385.95a1.15 1.15 0 1 0 2.3 0a1.15 1.15 0 1 0 -2.3 0zM62.413 401.15a1.15 1.15 0 1 0 2.3 0a1.15 1.15 0 1 0 -2.3 0zM62.413 397.35a1.15 1.15 0 1 0 2.3 0a1.15 1.15 0 1 0 -2.3 0zM62.413 391.65a1.15 1.15 0 1 0 2.3 0a1.15 1.15 0 1 0 -2.3 0zM62.413 393.55a1.15 1.15 0 1 0 2.3 0a1.15 1.15 0 1 0 -2.3 0zM62.413 408.75a1.15 1.15 0 1 0 2.3 0a1.15 1.15 0 1 0 -2.3 0zM65.975 382.15a1.15 1.15 0 1 0 2.3 0a1.15 1.15 0 1 0 -2.3 0zM65.975 414.45a1.15 1.15 0 1 0 2.3 0a1.15 1.15 0 1 0 -2.3 0zM65.975 412.55a1.15 1.15 0 1 0 2.3 0a1.15 1.15 0 1 0 -2.3 0zM65.975 414.45a1.15 1.15 0 1 0 2.3 0a1.15 1.15 0 1 0 -2.3 0zM65.975 380.25a1.15 1.15 0 1 0 2.3 0a1.15 1.15 0 1 0 -2.3 0zM65.975 401.15a1.15 1.15 0 1 0 2.3 0a1.15 1.15 0 1 0 -2.3 0zM65.975 408.75a1.15 1.15 0 1 0 2.3 0a1.15 1.15 0 1 0 -2.3 0zM65.975 412.55a1.15 1.15 0 1 0 2.3 0a1.15 1.15 0 1 0 -2.3 0zM65.975 387.85a1.15 1.15 0 1 0 2.3 0a1.15 1.15 0 1 0 -2.3 0zM65.975 410.65a1.15 1.15 0 1 0 2.3 0a1.15 1.15 0 1 0 -2.3 0zM65.975 414.45a1.15 1.15 0 1 0 2.3 0a1.15 1.15 0 1 0 -2.3 0zM65.975 385.95a1.15 1.15 0 1 0 2.3 0a1.15 1.15 0 1 0 -2.3 0zM65.975 412.55a1.15 1.15 0 1 0 2.3 0a1.15 1.15 0 1 0 -2.3 0zM65.975 399.25a1.15 1.15 0 1 0 2.3 0a1.15 1.15 0 1 0 -2.3 0zM65.975 395.45a1.15 1.15 0 1 0 2.3 0a1.15 1.15 0 1 0 -2.3 0zM65.975 401.15a1.15 1.15 0 1 0 2.3 0a1.15 1.15 0 1 0 -2.3 0zM65.975 395.45a1.15 1.15 0 1 0 2.3 0a1.15 1.15 0 1 0 -2.3 0zM65.975 374.55a1.15 1.15 0 1 0 2.3 0a1.15 1.15 0 1 0 -2.3 0zM65.975 403.05a1.15 1.15 0 1 0 2.3 0a1.15 1.15 0 1 0 -2.3 0zM65.975 414.45a1.15 1.15 0 1 0 2.3 0a1.15 1.15 0 1 0 -2.3 0zM65.975 422.05a1.15 1.15 0 1 0 2.3 0a1.15 1.15 0 1 0 -2.3 0zM65.975 397.35a1.15 1.15 0 1 0 2.3 0a1.15 1.15 0 1 0 -2.3 0zM65.975 401.15a1.15 1.15 0 1 0 2.3 0a1.15 1.15 0 1 0 -2.3 0zM65.975 391.65a1.15 1.15 0 1 0 2.3 0a1.15 1.15 0 1 0 -2.3 0zM65.975 401.15a1.15 1.15 0 1 0 2.3 0a1.15 1.15 0 1 0 -2.3 0zM65.975 403.05a1.15 1.15 0 1 0 2.3 0a1.15 1.15 0 1 0 -2.3 0zM65.975 404.95a1.15 1.15 0 1 0 2.3 0a1.15 1.15 0 1 0 -2.3 0zM65.975 403.05a1.15 1.15 0 1 0 2.3 0a1.15 1.15 0 1 0 -2.3 0zM65.975 391.65a1.15 1.15 0 1 0 2.3 0a1.15 1.15 0 1 0 -2.3 0zM65.975 401.15a1.15 1.15 0 1 0 2.3 0a1.15 1.15 0 1 0 -2.3 0zM65.975 393.55a1.15 1.15 0 1 0 2.3 0a1.15 1.15 0 1 0 -2.3 0zM65.975 366.95a1.15 1.15 0 1 0 2.3 0a1.15 1.15 0 1 0 -2.3 0zM69.537 387.85a1.15 1.15 0 1 0 2.3 0a1.15 1.15 0 1 0 -2.3 0zM69.537 418.25a1.15 1.15 0 1 0 2.3 0a1.15 1.15 0 1 0 -2.3 0zM69.537 368.85a1.15 1.15 0 1 0 2.3 0a1.15 1.15 0 1 0 -2.3 0zM69.537 389.75a1.15 1.15 0 1 0 2.3 0a1.15 1.15 0 1 0 -2.3 0zM69.537 408.75a1.15 1.15 0 1 0 2.3 0a1.15 1.15 0 1 0 -2.3 0zM69.537 380.25a1.15 1.15 0 1 0 2.3 0a1.15 1.15 0 1 0 -2.3 0zM69.537 393.55a1.15 1.15 0 1 0 2.3 0a1.15 1.15 0 1 0 -2.3 0zM69.537 403.05a1.15 1.15 0 1 0 2.3 0a1.15 1.15 0 1 0 -2.3 0zM69.537 404.95a1.15 1.15 0 1 0 2.3 0a1.15 1.15 0 1 0 -2.3 0zM69.537 410.65a1.15 1.15 0 1 0 2.3 0a1.15 1.15 0 1 0 -2.3 0zM69.537 393.55a1.15 1.15 0 1 0 2.3 0a1.15 1.15 0 1 0 -2.3 0zM69.537 378.35a1.15 1.15 0 1 0 2.3 0a1.15 1.15 0 1 0 -2.3 0zM69.537 399.25a1.15 1.15 0 1 0 2.3 0a1.15 1.15 0 1 0 -2.3 0zM69.537 387.85a1.15 1.15 0 1 0 2.3 0a1.15 1.15 0 1 0 -2.3 0zM69.537 366.95a1.15 1.15 0 1 0 2.3 0a1.15 1.15 0 1 0 -2.3 0zM69.537 412.55a1.15 1.15 0 1 0 2.3 0a1.15 1.15 0 1 0 -2.3 0zM69.537 391.65a1.15 1.15 0 1 0 2.3 0a1.15 1.15 0 1 0 -2.3 0zM69.537 399.25a1.15 1.15 0 1 0 2.3 0a1.15 1.15 0 1 0 -2.3 0zM69.537 410.65a1.15 1.15 0 1 0 2.3 0a1.15 1.15 0 1 0 -2.3 0zM69.537 410.65a1.15 1.15 0 1 0 2.3 0a1.15 1.15 0 1 0 -2.3 0zM69.537 395.45a1.15 1.15 0 1 0 2.3 0a1.15 1.15 0 1 0 -2.3 0zM69.537 387.85a1.15 1.15 0 1 0 2.3 0a1.15 1.15 0 1 0 -2.3 0zM69.537 403.05a1.15 1.15 0 1 0 2.3 0a1.15 1.15 0 1 0 -2.3 0zM69.537 393.55a1.15 1.15 0 1 0 2.3 0a1.15 1.15 0 1 0 -2.3 0zM69.537 384.05a1.15 1.15 0 1 0 2.3 0a1.15 1.15 0 1 0 -2.3 0zM69.537 389.75a1.15 1.15 0 1 0 2.3 0a1.15 1.15 0 1 0 -2.3 0zM69.537 382.15a1.15 1.15 0 1 0 2.3 0a1.15 1.15 0 1 0 -2.3 0zM69.537 387.85a1.15 1.15 0 1 0 2.3 0a1.15 1.15 0 1 0 -2.3 0zM69.537 387.85a1.15 1.15 0 1 0 2.3 0a1.15 1.15 0 1 0 -2.3 0zM69.537 366.95a1.15 1.15 0 1 0 2.3 0a1.15 1.15 0 1 0 -2.3 0zM73.1 384.05a1.15 1.15 0 1 0 2.3 0a1.15 1.15 0 1 0 -2.3 0zM73.1 391.65a1.15 1.15 0 1 0 2.3 0a1.15 1.15 0 1 0 -2.3 0zM73.1 384.05a1.15 1.15 0 1 0 2.3 0a1.15 1.15 0 1 0 -2.3 0zM73.1 408.75a1.15 1.15 0 1 0 2.3 0a1.15 1.15 0 1 0 -2.3 0zM73.1 399.25a1.15 1.15 0 1 0 2.3 0a1.15 1.15 0 1 0 -2.3 0zM73.1 382.15a1.15 1.15 0 1 0 2.3 0a1.15 1.15 0 1 0 -2.3 0zM73.1 384.05a1.15 1.15 0 1 0 2.3 0a1.15 1.15 0 1 0 -2.3 0zM73.1 370.75a1.15 1.15 0 1 0 2.3 0a1.15 1.15 0 1 0 -2.3 0zM73.1 393.55a1.15 1.15 0 1 0 2.3 0a1.15 1.15 0 1 0 -2.3 0zM73.1 416.35a1.15 1.15 0 1 0 2.3 0a1.15 1.15 0 1 0 -2.3 0zM73.1 365.05a1.15 1.15 0 1 0 2.3 0a1.15 1.15 0 1 0 -2.3 0zM73.1 378.35a1.15 1.15 0 1 0 2.3 0a1.15 1.15 0 1 0 -2.3 0zM73.1 410.65a1.15 1.15 0 1 0 2.3 0a1.15 1.15 0 1 0 -2.3 0zM73.1 372.65a1.15 1.15 0 1 0 2.3 0a1.15 1.15 0 1 0 -2.3 0zM73.1 393.55a1.15 1.15 0 1 0 2.3 0a1.15 1.15 0 1 0 -2.3 0zM73.1 422.05a1.15 1.15 0 1 0 2.3 0a1.15 1.15 0 1 0 -2.3 0zM73.1 401.15a1.15 1.15 0 1 0 2.3 0a1.15 1.15 0 1 0 -2.3 0zM73.1 401.15a1.15 1.15 0 1 0 2.3 0a1.15 1.15 0 1 0 -2.3 0zM73.1 370.75a1.15 1.15 0 1 0 2.3 0a1.15 1.15 0 1 0 -2.3 0zM73.1 406.85a1.15 1.15 0 1 0 2.3 0a1.15 1.15 0 1 0 -2.3 0zM73.1 397.35a1.15 1.15 0 1 0 2.3 0a1.15 1.15 0 1 0 -2.3 0zM73.1 399.25a1.15 1.15 0 1 0 2.3 0a1.15 1.15 0 1 0 -2.3 0zM73.1 399.25a1.15 1.15 0 1 0 2.3 0a1.15 1.15 0 1 0 -2.3 0zM73.1 408.75a1.15 1.15 0 1 0 2.3 0a1.15 1.15 0 1 0 -2.3 0zM73.1 391.65a1.15 1.15 0 1 0 2.3 0a1.15 1.15 0 1 0 -2.3 0zM73.1 378.35a1.15 1.15 0 1 0 2.3 0a1.15 1.15 0 1 0 -2.3 0zM73.1 384.05a1.15 1.15 0 1 0 2.3 0a1.15 1.15 0 1 0 -2.3 0zM73.1 408.75a1.15 1.15 0 1 0 2.3 0a1.15 1.15 0 1 0 -2.3 0zM76.662 410.65a1.15 1.15 0 1 0 2.3 0a1.15 1.15 0 1 0 -2.3 0zM76.662 391.65a1.15 1.15 0 1 0 2.3 0a1.15 1.15 0 1 0 -2.3 0zM76.662 404.95a1.15 1.15 0 1 0 2.3 0a1.15 1.15 0 1 0 -2.3 0zM76.662 403.05a1.15 1.15 0 1 0 2.3 0a1.15 1.15 0 1 0 -2.3 0zM76.662 420.15a1.15 1.15 0 1 0 2.3 0a1.15 1.15 0 1 0 -2.3 0zM76.662 365.05a1.15 1.15 0 1 0 2.3 0a1.15 1.15 0 1 0 -2.3 0zM76.662 380.25a1.15 1.15 0 1 0 2.3 0a1.15 1.15 0 1 0 -2.3 0zM76.662 408.75a1.15 1.15 0 1 0 2.3 0a1.15 1.15 0 1 0 -2.3 0zM76.662 380.25a1.15 1.15 0 1 0 2.3 0a1.15 1.15 0 1 0 -2.3 0zM76.662 374.55a1.15 1.15 0 1 0 2.3 0a1.15 1.15 0 1 0 -2.3 0zM76.662 403.05a1.15 1.15 0 1 0 2.3 0a1.15 1.15 0 1 0 -2.3 0zM76.662 399.25a1.15 1.15 0 1 0 2.3 0a1.15 1.15 0 1 0 -2.3 0zM76.662 384.05a1.15 1.15 0 1 0 2.3 0a1.15 1.15 0 1 0 -2.3 0zM76.662 395.45a1.15 1.15 0 1 0 2.3 0a1.15 1.15 0 1 0 -2.3 0zM76.662 397.35a1.15 1.15 0 1 0 2.3 0a1.15 1.15 0 1 0 -2.3 0zM76.662 395.45a1.15 1.15 0 1 0 2.3 0a1.15 1.15 0 1 0 -2.3 0zM76.662 365.05a1.15 1.15 0 1 0 2.3 0a1.15 1.15 0 1 0 -2.3 0zM76.662 361.25a1.15 1.15 0 1 0 2.3 0a1.15 1.15 0 1 0 -2.3 0zM76.662 401.15a1.15 1.15 0 1 0 2.3 0a1.15 1.15 0 1 0 -2.3 0zM76.662 408.75a1.15 1.15 0 1 0 2.3 0a1.15 1.15 0 1 0 -2.3 0zM76.662 408.75a1.15 1.15 0 1 0 2.3 0a1.15 1.15 0 1 0 -2.3 0zM76.662 403.05a1.15 1.15 0 1 0 2.3 0a1.15 1.15 0 1 0 -2.3 0zM76.662 393.55a1.15 1.15 0 1 0 2.3 0a1.15 1.15 0 1 0 -2.3 0zM76.662 385.95a1.15 1.15 0 1 0 2.3 0a1.15 1.15 0 1 0 -2.3 0zM76.662 378.35a1.15 1.15 0 1 0 2.3 0a1.15 1.15 0 1 0 -2.3 0zM80.225 387.85a1.15 1.15 0 1 0 2.3 0a1.15 1.15 0 1 0 -2.3 0zM80.225 406.85a1.15 1.15 0 1 0 2.3 0a1.15 1.15 0 1 0 -2.3 0zM80.225 385.95a1.15 1.15 0 1 0 2.3 0a1.15 1.15 0 1 0 -2.3 0zM80.225 389.75a1.15 1.15 0 1 0 2.3 0a1.15 1.15 0 1 0 -2.3 0zM80.225 365.05a1.15 1.15 0 1 0 2.3 0a1.15 1.15 0 1 0 -2.3 0zM80.225 393.55a1.15 1.15 0 1 0 2.3 0a1.15 1.15 0 1 0 -2.3 0zM80.225 414.45a1.15 1.15 0 1 0 2.3 0a1.15 1.15 0 1 0 -2.3 0zM80.225 408.75a1.15 1.15 0 1 0 2.3 0a1.15 1.15 0 1 0 -2.3 0zM80.225 372.65a1.15 1.15 0 1 0 2.3 0a1.15 1.15 0 1 0 -2.3 0zM80.225 401.15a1.15 1.15 0 1 0 2.3 0a1.15 1.15 0 1 0 -2.3 0zM80.225 425.85a1.15 1.15 0 1 0 2.3 0a1.15 1.15 0 1 0 -2.3 0zM80.225 403.05a1.15 1.15 0 1 0 2.3 0a1.15 1.15 0 1 0 -2.3 0zM80.225 393.55a1.15 1.15 0 1 0 2.3 0a1.15 1.15 0 1 0 -2.3 0zM80.225 376.45a1.15 1.15 0 1 0 2.3 0a1.15 1.15 0 1 0 -2.3 0zM80.225 408.75a1.15 1.15 0 1 0 2.3 0a1.15 1.15 0 1 0 -2.3 0zM80.225 384.05a1.15 1.15 0 1 0 2.3 0a1.15 1.15 0 1 0 -2.3 0zM80.225 382.15a1.15 1.15 0 1 0 2.3 0a1.15 1.15 0 1 0 -2.3 0zM80.225 404.95a1.15 1.15 0 1 0 2.3 0a1.15 1.15 0 1 0 -2.3 0zM80.225 397.35a1.15 1.15 0 1 0 2.3 0a1.15 1.15 0 1 0 -2.3 0zM80.225 366.95a1.15 1.15 0 1 0 2.3 0a1.15 1.15 0 1 0 -2.3 0zM80.225 366.95a1.15 1.15 0 1 0 2.3 0a1.15 1.15 0 1 0 -2.3 0zM80.225 380.25a1.15 1.15 0 1 0 2.3 0a1.15 1.15 0 1 0 -2.3 0zM80.225 387.85a1.15 1.15 0 1 0 2.3 0a1.15 1.15 0 1 0 -2.3 0zM80.225 376.45a1.15 1.15 0 1 0 2.3 0a1.15 1.15 0 1 0 -2.3 0zM83.787 395.45a1.15 1.15 0 1 0 2.3 0a1.15 1.15 0 1 0 -2.3 0zM83.787 395.45a1.15 1.15 0 1 0 2.3 0a1.15 1.15 0 1 0 -2.3 0zM83.787 406.85a1.15 1.15 0 1 0 2.3 0a1.15 1.15 0 1 0 -2.3 0zM83.787 393.55a1.15 1.15 0 1 0 2.3 0a1.15 1.15 0 1 0 -2.3 0zM83.787 395.45a1.15 1.15 0 1 0 2.3 0a1.15 1.15 0 1 0 -2.3 0zM83.787 397.35a1.15 1.15 0 1 0 2.3 0a1.15 1.15 0 1 0 -2.3 0zM83.787 374.55a1.15 1.15 0 1 0 2.3 0a1.15 1.15 0 1 0 -2.3 0zM83.787 372.65a1.15 1.15 0 1 0 2.3 0a1.15 1.15 0 1 0 -2.3 0zM83.787 395.45a1.15 1.15 0 1 0 2.3 0a1.15 1.15 0 1 0 -2.3 0zM83.787 376.45a1.15 1.15 0 1 0 2.3 0a1.15 1.15 0 1 0 -2.3 0zM83.787 391.65a1.15 1.15 0 1 0 2.3 0a1.15 1.15 0 1 0 -2.3 0zM83.787 380.25a1.15 1.15 0 1 0 2.3 0a1.15 1.15 0 1 0 -2.3 0zM83.787 410.65a1.15 1.15 0 1 0 2.3 0a1.15 1.15 0 1 0 -2.3 0zM83.787 378.35a1.15 1.15 0 1 0 2.3 0a1.15 1.15 0 1 0 -2.3 0zM83.787 397.35a1.15 1.15 0 1 0 2.3 0a1.15 1.15 0 1 0 -2.3 0zM83.787 410.65a1.15 1.15 0 1 0 2.3 0a1.15 1.15 0 1 0 -2.3 0zM83.787 399.25a1.15 1.15 0 1 0 2.3 0a1.15 1.15 0 1 0 -2.3 0zM83.787 401.15a1.15 1.15 0 1 0 2.3 0a1.15 1.15 0 1 0 -2.3 0zM83.787 382.15a1.15 1.15 0 1 0 2.3 0a1.15 1.15 0 1 0 -2.3 0zM83.787 385.95a1.15 1.15 0 1 0 2.3 0a1.15 1.15 0 1 0 -2.3 0zM83.787 397.35a1.15 1.15 0 1 0 2.3 0a1.15 1.15 0 1 0 -2.3 0zM83.787 403.05a1.15 1.15 0 1 0 2.3 0a1.15 1.15 0 1 0 -2.3 0zM87.35 393.55a1.15 1.15 0 1 0 2.3 0a1.15 1.15 0 1 0 -2.3 0zM87.35 372.65a1.15 1.15 0 1 0 2.3 0a1.15 1.15 0 1 0 -2.3 0zM87.35 387.85a1.15 1.15 0 1 0 2.3 0a1.15 1.15 0 1 0 -2.3 0zM87.35 384.05a1.15 1.15 0 1 0 2.3 0a1.15 1.15 0 1 0 -2.3 0zM87.35 395.45a1.15 1.15 0 1 0 2.3 0a1.15 1.15 0 1 0 -2.3 0zM87.35 412.55a1.15 1.15 0 1 0 2.3 0a1.15 1.15 0 1 0 -2.3 0zM87.35 404.95a1.15 1.15 0 1 0 2.3 0a1.15 1.15 0 1 0 -2.3 0zM87.35 384.05a1.15 1.15 0 1 0 2.3 0a1.15 1.15 0 1 0 -2.3 0zM87.35 391.65a1.15 1.15 0 1 0 2.3 0a1.15 1.15 0 1 0 -2.3 0zM87.35 406.85a1.15 1.15 0 1 0 2.3 0a1.15 1.15 0 1 0 -2.3 0zM87.35 418.25a1.15 1.15 0 1 0 2.3 0a1.15 1.15 0 1 0 -2.3 0zM87.35 391.65a1.15 1.15 0 1 0 2.3 0a1.15 1.15 0 1 0 -2.3 0zM87.35 399.25a1.15 1.15 0 1 0 2.3 0a1.15 1.15 0 1 0 -2.3 0zM87.35 399.25a1.15 1.15 0 1 0 2.3 0a1.15 1.15 0 1 0 -2.3 0zM87.35 397.35a1.15 1.15 0 1 0 2.3 0a1.15 1.15 0 1 0 -2.3 0zM87.35 389.75a1.15 1.15 0 1 0 2.3 0a1.15 1.15 0 1 0 -2.3 0zM87.35 387.85a1.15 1.15 0 1 0 2.3 0a1.15 1.15 0 1 0 -2.3 0zM87.35 378.35a1.15 1.15 0 1 0 2.3 0a1.15 1.15 0 1 0 -2.3 0zM87.35 378.35a1.15 1.15 0 1 0 2.3 0a1.15 1.15 0 1 0 -2.3 0zM87.35 372.65a1.15 1.15 0 1 0 2.3 0a1.15 1.15 0 1 0 -2.3 0zM90.912 380.25a1.15 1.15 0 1 0 2.3 0a1.15 1.15 0 1 0 -2.3 0zM90.912 397.35a1.15 1.15 0 1 0 2.3 0a1.15 1.15 0 1 0 -2.3 0zM90.912 393.55a1.15 1.15 0 1 0 2.3 0a1.15 1.15 0 1 0 -2.3 0zM90.912 385.95a1.15 1.15 0 1 0 2.3 0a1.15 1.15 0 1 0 -2.3 0zM90.912 397.35a1.15 1.15 0 1 0 2.3 0a1.15 1.15 0 1 0 -2.3 0zM90.912 384.05a1.15 1.15 0 1 0 2.3 0a1.15 1.15 0 1 0 -2.3 0zM90.912 374.55a1.15 1.15 0 1 0 2.3 0a1.15 1.15 0 1 0 -2.3 0zM90.912 404.95a1.15 1.15 0 1 0 2.3 0a1.15 1.15 0 1 0 -2.3 0zM90.912 420.15a1.15 1.15 0 1 0 2.3 0a1.15 1.15 0 1 0 -2.3 0zM90.912 374.55a1.15 1.15 0 1 0 2.3 0a1.15 1.15 0 1 0 -2.3 0zM90.912 393.55a1.15 1.15 0 1 0 2.3 0a1.15 1.15 0 1 0 -2.3 0zM90.912 382.15a1.15 1.15 0 1 0 2.3 0a1.15 1.15 0 1 0 -2.3 0zM90.912 412.55a1.15 1.15 0 1 0 2.3 0a1.15 1.15 0 1 0 -2.3 0zM90.912 366.95a1.15 1.15 0 1 0 2.3 0a1.15 1.15 0 1 0 -2.3 0zM90.912 382.15a1.15 1.15 0 1 0 2.3 0a1.15 1.15 0 1 0 -2.3 0zM90.912 395.45a1.15 1.15 0 1 0 2.3 0a1.15 1.15 0 1 0 -2.3 0zM90.912 399.25a1.15 1.15 0 1 0 2.3 0a1.15 1.15 0 1 0 -2.3 0zM90.912 391.65a1.15 1.15 0 1 0 2.3 0a1.15 1.15 0 1 0 -2.3 0zM94.475 395.45a1.15 1.15 0 1 0 2.3 0a1.15 1.15 0 1 0 -2.3 0zM94.475 397.35a1.15 1.15 0 1 0 2.3 0a1.15 1.15 0 1 0 -2.3 0zM94.475 410.65a1.15 1.15 0 1 0 2.3 0a1.15 1.15 0 1 0 -2.3 0zM94.475 372.65a1.15 1.15 0 1 0 2.3 0a1.15 1.15 0 1 0 -2.3 0zM94.475 393.55a1.15 1.15 0 1 0 2.3 0a1.15 1.15 0 1 0 -2.3 0zM94.475 391.65a1.15 1.15 0 1 0 2.3 0a1.15 1.15 0 1 0 -2.3 0zM94.475 391.65a1.15 1.15 0 1 0 2.3 0a1.15 1.15 0 1 0 -2.3 0zM94.475 384.05a1.15 1.15 0 1 0 2.3 0a1.15 1.15 0 1 0 -2.3 0zM94.475 397.35a1.15 1.15 0 1 0 2.3 0a1.15 1.15 0 1 0 -2.3 0zM94.475 397.35a1.15 1.15 0 1 0 2.3 0a1.15 1.15 0 1 0 -2.3 0zM94.475 391.65a1.15 1.15 0 1 0 2.3 0a1.15 1.15 0 1 0 -2.3 0zM94.475 406.85a1.15 1.15 0 1 0 2.3 0a1.15 1.15 0 1 0 -2.3 0zM94.475 380.25a1.15 1.15 0 1 0 2.3 0a1.15 1.15 0 1 0 -2.3 0zM94.475 403.05a1.15 1.15 0 1 0 2.3 0a1.15 1.15 0 1 0 -2.3 0zM94.475 406.85a1.15 1.15 0 1 0 2.3 0a1.15 1.15 0 1 0 -2.3 0zM94.475 404.95a1.15 1.15 0 1 0 2.3 0a1.15 1.15 0 1 0 -2.3 0zM94.475 389.75a1.15 1.15 0 1 0 2.3 0a1.15 1.15 0 1 0 -2.3 0zM98.037 380.25a1.15 1.15 0 1 0 2.3 0a1.15 1.15 0 1 0 -2.3 0zM98.037 401.15a1.15 1.15 0 1 0 2.3 0a1.15 1.15 0 1 0 -2.3 0zM98.037 414.45a1.15 1.15 0 1 0 2.3 0a1.15 1.15 0 1 0 -2.3 0zM98.037 376.45a1.15 1.15 0 1 0 2.3 0a1.15 1.15 0 1 0 -2.3 0zM98.037 408.75a1.15 1.15 0 1 0 2.3 0a1.15 1.15 0 1 0 -2.3 0zM98.037 374.55a1.15 1.15 0 1 0 2.3 0a1.15 1.15 0 1 0 -2.3 0zM98.037 393.55a1.15 1.15 0 1 0 2.3 0a1.15 1.15 0 1 0 -2.3 0zM98.037 403.05a1.15 1.15 0 1 0 2.3 0a1.15 1.15 0 1 0 -2.3 0zM98.037 403.05a1.15 1.15 0 1 0 2.3 0a1.15 1.15 0 1 0 -2.3 0zM98.037 385.95a1.15 1.15 0 1 0 2.3 0a1.15 1.15 0 1 0 -2.3 0zM98.037 378.35a1.15 1.15 0 1 0 2.3 0a1.15 1.15 0 1 0 -2.3 0zM98.037 395.45a1.15 1.15 0 1 0 2.3 0a1.15 1.15 0 1 0 -2.3 0zM98.037 378.35a1.15 1.15 0 1 0 2.3 0a1.15 1.15 0 1 0 -2.3 0zM98.037 361.25a1.15 1.15 0 1 0 2.3 0a1.15 1.15 0 1 0 -2.3 0zM98.037 395.45a1.15 1.15 0 1 0 2.3 0a1.15 1.15 0 1 0 -2.3 0zM98.037 410.65a1.15 1.15 0 1 0 2.3 0a1.15 1.15 0 1 0 -2.3 0zM101.6 408.75a1.15 1.15 0 1 0 2.3 0a1.15 1.15 0 1 0 -2.3 0zM101.6 412.55a1.15 1.15 0 1 0 2.3 0a1.15 1.15 0 1 0 -2.3 0zM101.6 401.15a1.15 1.15 0 1 0 2.3 0a1.15 1.15 0 1 0 -2.3 0zM101.6 403.05a1.15 1.15 0 1 0 2.3 0a1.15 1.15 0 1 0 -2.3 0zM101.6 412.55a1.15 1.15 0 1 0 2.3 0a1.15 1.15 0 1 0 -2.3 0zM101.6 384.05a1.15 1.15 0 1 0 2.3 0a1.15 1.15 0 1 0 -2.3 0zM101.6 412.55a1.15 1.15 0 1 0 2.3 0a1.15 1.15 0 1 0 -2.3 0zM101.6 361.25a1.15 1.15 0 1 0 2.3 0a1.15 1.15 0 1 0 -2.3 0zM101.6 376.45a1.15 1.15 0 1 0 2.3 0a1.15 1.15 0 1 0 -2.3 0zM101.6 384.05a1.15 1.15 0 1 0 2.3 0a1.15 1.15 0 1 0 -2.3 0zM101.6 385.95a1.15 1.15 0 1 0 2.3 0a1.15 1.15 0 1 0 -2.3 0zM101.6 365.05a1.15 1.15 0 1 0 2.3 0a1.15 1.15 0 1 0 -2.3 0zM101.6 384.05a1.15 1.15 0 1 0 2.3 0a1.15 1.15 0 1 0 -2.3 0zM101.6 391.65a1.15 1.15 0 1 0 2.3 0a1.15 1.15 0 1 0 -2.3 0zM101.6 410.65a1.15 1.15 0 1 0 2.3 0a1.15 1.15 0 1 0 -2.3 0zM105.162 393.55a1.15 1.15 0 1 0 2.3 0a1.15 1.15 0 1 0 -2.3 0zM105.162 403.05a1.15 1.15 0 1 0 2.3 0a1.15 1.15 0 1 0 -2.3 0zM105.162 403.05a1.15 1.15 0 1 0 2.3 0a1.15 1.15 0 1 0 -2.3 0zM105.162 403.05a1.15 1.15 0 1 0 2.3 0a1.15 1.15 0 1 0 -2.3 0zM105.162 391.65a1.15 1.15 0 1 0 2.3 0a1.15 1.15 0 1 0 -2.3 0zM105.162 397.35a1.15 1.15 0 1 0 2.3 0a1.15 1.15 0 1 0 -2.3 0zM105.162 378.35a1.15 1.15 0 1 0 2.3 0a1.15 1.15 0 1 0 -2.3 0zM105.162 412.55a1.15 1.15 0 1 0 2.3 0a1.15 1.15 0 1 0 -2.3 0zM105.162 393.55a1.15 1.15 0 1 0 2.3 0a1.15 1.15 0 1 0 -2.3 0zM105.162 363.15a1.15 1.15 0 1 0 2.3 0a1.15 1.15 0 1 0 -2.3 0zM105.162 391.65a1.15 1.15 0 1 0 2.3 0a1.15 1.15 0 1 0 -2.3 0zM105.162 374.55a1.15 1.15 0 1 0 2.3 0a1.15 1.15 0 1 0 -2.3 0zM105.162 374.55a1.15 1.15 0 1 0 2.3 0a1.15 1.15 0 1 0 -2.3 0zM108.725 370.75a1.15 1.15 0 1 0 2.3 0a1.15 1.15 0 1 0 -2.3 0zM108.725 380.25a1.15 1.15 0 1 0 2.3 0a1.15 1.15 0 1 0 -2.3 0zM108.725 412.55a1.15 1.15 0 1 0 2.3 0a1.15 1.15 0 1 0 -2.3 0zM108.725 395.45a1.15 1.15 0 1 0 2.3 0a1.15 1.15 0 1 0 -2.3 0zM108.725 397.35a1.15 1.15 0 1 0 2.3 0a1.15 1.15 0 1 0 -2.3 0zM108.725 414.45a1.15 1.15 0 1 0 2.3 0a1.15 1.15 0 1 0 -2.3 0zM108.725 399.25a1.15 1.15 0 1 0 2.3 0a1.15 1.15 0 1 0 -2.3 0zM108.725 410.65a1.15 1.15 0 1 0 2.3 0a1.15 1.15 0 1 0 -2.3 0zM108.725 416.35a1.15 1.15 0 1 0 2.3 0a1.15 1.15 0 1 0 -2.3 0zM108.725 387.85a1.15 1.15 0 1 0 2.3 0a1.15 1.15 0 1 0 -2.3 0zM108.725 391.65a1.15 1.15 0 1 0 2.3 0a1.15 1.15 0 1 0 -2.3 0zM108.725 401.15a1.15 1.15 0 1 0 2.3 0a1.15 1.15 0 1 0 -2.3 0zM112.287 404.95a1.15 1.15 0 1 0 2.3 0a1.15 1.15 0 1 0 -2.3 0zM112.287 399.25a1.15 1.15 0 1 0 2.3 0a1.15 1.15 0 1 0 -2.3 0zM112.287 397.35a1.15 1.15 0 1 0 2.3 0a1.15 1.15 0 1 0 -2.3 0zM112.287 397.35a1.15 1.15 0 1 0 2.3 0a1.15 1.15 0 1 0 -2.3 0zM112.287 391.65a1.15 1.15 0 1 0 2.3 0a1.15 1.15 0 1 0 -2.3 0zM112.287 397.35a1.15 1.15 0 1 0 2.3 0a1.15 1.15 0 1 0 -2.3 0zM112.287 385.95a1.15 1.15 0 1 0 2.3 0a1.15 1.15 0 1 0 -2.3 0zM112.287 384.05a1.15 1.15 0 1 0 2.3 0a1.15 1.15 0 1 0 -2.3 0zM112.287 385.95a1.15 1.15 0 1 0 2.3 0a1.15 1.15 0 1 0 -2.3 0zM112.287 401.15a1.15 1.15 0 1 0 2.3 0a1.15 1.15 0 1 0 -2.3 0zM112.287 401.15a1.15 1.15 0 1 0 2.3 0a1.15 1.15 0 1 0 -2.3 0zM115.85 384.05a1.15 1.15 0 1 0 2.3 0a1.15 1.15 0 1 0 -2.3 0zM115.85 393.55a1.15 1.15 0 1 0 2.3 0a1.15 1.15 0 1 0 -2.3 0zM115.85 391.65a1.15 1.15 0 1 0 2.3 0a1.15 1.15 0 1 0 -2.3 0zM115.85 429.65a1.15 1.15 0 1 0 2.3 0a1.15 1.15 0 1 0 -2.3 0zM115.85 385.95a1.15 1.15 0 1 0 2.3 0a1.15 1.15 0 1 0 -2.3 0zM115.85 385.95a1.15 1.15 0 1 0 2.3 0a1.15 1.15 0 1 0 -2.3 0zM115.85 370.75a1.15 1.15 0 1 0 2.3 0a1.15 1.15 0 1 0 -2.3 0zM115.85 380.25a1.15 1.15 0 1 0 2.3 0a1.15 1.15 0 1 0 -2.3 0zM115.85 387.85a1.15 1.15 0 1 0 2.3 0a1.15 1.15 0 1 0 -2.3 0zM115.85 391.65a1.15 1.15 0 1 0 2.3 0a1.15 1.15 0 1 0 -2.3 0zM115.85 412.55a1.15 1.15 0 1 0 2.3 0a1.15 1.15 0 1 0 -2.3 0zM119.412 376.45a1.15 1.15 0 1 0 2.3 0a1.15 1.15 0 1 0 -2.3 0zM119.412 399.25a1.15 1.15 0 1 0 2.3 0a1.15 1.15 0 1 0 -2.3 0zM119.412 384.05a1.15 1.15 0 1 0 2.3 0a1.15 1.15 0 1 0 -2.3 0zM119.412 387.85a1.15 1.15 0 1 0 2.3 0a1.15 1.15 0 1 0 -2.3 0zM119.412 385.95a1.15 1.15 0 1 0 2.3 0a1.15 1.15 0 1 0 -2.3 0zM119.412 376.45a1.15 1.15 0 1 0 2.3 0a1.15 1.15 0 1 0 -2.3 0zM119.412 397.35a1.15 1.15 0 1 0 2.3 0a1.15 1.15 0 1 0 -2.3 0zM119.412 397.35a1.15 1.15 0 1 0 2.3 0a1.15 1.15 0 1 0 -2.3 0zM119.412 403.05a1.15 1.15 0 1 0 2.3 0a1.15 1.15 0 1 0 -2.3 0zM119.412 397.35a1.15 1.15 0 1 0 2.3 0a1.15 1.15 0 1 0 -2.3 0zM122.975 365.05a1.15 1.15 0 1 0 2.3 0a1.15 1.15 0 1 0 -2.3 0zM122.975 395.45a1.15 1.15 0 1 0 2.3 0a1.15 1.15 0 1 0 -2.3 0zM122.975 372.65a1.15 1.15 0 1 0 2.3 0a1.15 1.15 0 1 0 -2.3 0zM122.975 378.35a1.15 1.15 0 1 0 2.3 0a1.15 1.15 0 1 0 -2.3 0zM122.975 380.25a1.15 1.15 0 1 0 2.3 0a1.15 1.15 0 1 0 -2.3 0zM122.975 378.35a1.15 1.15 0 1 0 2.3 0a1.15 1.15 0 1 0 -2.3 0zM122.975 406.85a1.15 1.15 0 1 0 2.3 0a1.15 1.15 0 1 0 -2.3 0zM122.975 384.05a1.15 1.15 0 1 0 2.3 0a1.15 1.15 0 1 0 -2.3 0zM122.975 366.95a1.15 1.15 0 1 0 2.3 0a1.15 1.15 0 1 0 -2.3 0zM126.537 401.15a1.15 1.15 0 1 0 2.3 0a1.15 1.15 0 1 0 -2.3 0zM126.537 391.65a1.15 1.15 0 1 0 2.3 0a1.15 1.15 0 1 0 -2.3 0zM126.537 401.15a1.15 1.15 0 1 0 2.3 0a1.15 1.15 0 1 0 -2.3 0zM126.537 385.95a1.15 1.15 0 1 0 2.3 0a1.15 1.15 0 1 0 -2.3 0zM126.537 406.85a1.15 1.15 0 1 0 2.3 0a1.15 1.15 0 1 0 -2.3 0zM126.537 365.05a1.15 1.15 0 1 0 2.3 0a1.15 1.15 0 1 0 -2.3 0zM126.537 395.45a1.15 1.15 0 1 0 2.3 0a1.15 1.15 0 1 0 -2.3 0zM126.537 414.45a1.15 1.15 0 1 0 2.3 0a1.15 1.15 0 1 0 -2.3 0zM130.1 363.15a1.15 1.15 0 1 0 2.3 0a1.15 1.15 0 1 0 -2.3 0zM130.1 374.55a1.15 1.15 0 1 0 2.3 0a1.15 1.15 0 1 0 -2.3 0zM130.1 382.15a1.15 1.15 0 1 0 2.3 0a1.15 1.15 0 1 0 -2.3 0zM130.1 382.15a1.15 1.15 0 1 0 2.3 0a1.15 1.15 0 1 0 -2.3 0zM130.1 395.45a1.15 1.15 0 1 0 2.3 0a1.15 1.15 0 1 0 -2.3 0zM130.1 393.55a1.15 1.15 0 1 0 2.3 0a1.15 1.15 0 1 0 -2.3 0zM130.1 378.35a1.15 1.15 0 1 0 2.3 0a1.15 1.15 0 1 0 -2.3 0zM130.1 376.45a1.15 1.15 0 1 0 2.3 0a1.15 1.15 0 1 0 -2.3 0zM133.662 374.55a1.15 1.15 0 1 0 2.3 0a1.15 1.15 0 1 0 -2.3 0zM133.662 385.95a1.15 1.15 0 1 0 2.3 0a1.15 1.15 0 1 0 -2.3 0zM133.662 397.35a1.15 1.15 0 1 0 2.3 0a1.15 1.15 0 1 0 -2.3 0zM133.662 391.65a1.15 1.15 0 1 0 2.3 0a1.15 1.15 0 1 0 -2.3 0zM133.662 372.65a1.15 1.15 0 1 0 2.3 0a1.15 1.15 0 1 0 -2.3 0zM133.662 366.95a1.15 1.15 0 1 0 2.3 0a1.15 1.15 0 1 0 -2.3 0zM133.662 395.45a1.15 1.15 0 1 0 2.3 0a1.15 1.15 0 1 0 -2.3 0zM137.225 397.35a1.15 1.15 0 1 0 2.3 0a1.15 1.15 0 1 0 -2.3 0zM137.225 370.75a1.15 1.15 0 1 0 2.3 0a1.15 1.15 0 1 0 -2.3 0zM137.225 378.35a1.15 1.15 0 1 0 2.3 0a1.15 1.15 0 1 0 -2.3 0zM137.225 378.35a1.15 1.15 0 1 0 2.3 0a1.15 1.15 0 1 0 -2.3 0zM137.225 408.75a1.15 1.15 0 1 0 2.3 0a1.15 1.15 0 1 0 -2.3 0zM137.225 395.45a1.15 1.15 0 1 0 2.3 0a1.15 1.15 0 1 0 -2.3 0zM137.225 397.35a1.15 1.15 0 1 0 2.3 0a1.15 1.15 0 1 0 -2.3 0zM140.787 385.95a1.15 1.15 0 1 0 2.3 0a1.15 1.15 0 1 0 -2.3 0zM140.787 414.45a1.15 1.15 0 1 0 2.3 0a1.15 1.15 0 1 0 -2.3 0zM140.787 368.85a1.15 1.15 0 1 0 2.3 0a1.15 1.15 0 1 0 -2.3 0zM140.787 384.05a1.15 1.15 0 1 0 2.3 0a1.15 1.15 0 1 0 -2.3 0zM140.787 382.15a1.15 1.15 0 1 0 2.3 0a1.15 1.15 0 1 0 -2.3 0zM140.787 406.85a1.15 1.15 0 1 0 2.3 0a1.15 1.15 0 1 0 -2.3 0zM144.35 389.75a1.15 1.15 0 1 0 2.3 0a1.15 1.15 0 1 0 -2.3 0zM144.35 368.85a1.15 1.15 0 1 0 2.3 0a1.15 1.15 0 1 0 -2.3 0zM144.35 412.55a1.15 1.15 0 1 0 2.3 0a1.15 1.15 0 1 0 -2.3 0zM144.35 384.05a1.15 1.15 0 1 0 2.3 0a1.15 1.15 0 1 0 -2.3 0zM144.35 378.35a1.15 1.15 0 1 0 2.3 0a1.15 1.15 0 1 0 -2.3 0zM144.35 399.25a1.15 1.15 0 1 0 2.3 0a1.15 1.15 0 1 0 -2.3 0zM147.912 376.45a1.15 1.15 0 1 0 2.3 0a1.15 1.15 0 1 0 -2.3 0zM147.912 393.55a1.15 1.15 0 1 0 2.3 0a1.15 1.15 0 1 0 -2.3 0zM147.912 370.75a1.15 1.15 0 1 0 2.3 0a1.15 1.15 0 1 0 -2.3 0zM147.912 380.25a1.15 1.15 0 1 0 2.3 0a1.15 1.15 0 1 0 -2.3 0zM147.912 385.95a1.15 1.15 0 1 0 2.3 0a1.15 1.15 0 1 0 -2.3 0zM151.475 376.45a1.15 1.15 0 1 0 2.3 0a1.15 1.15 0 1 0 -2.3 0zM151.475 368.85a1.15 1.15 0 1 0 2.3 0a1.15 1.15 0 1 0 -2.3 0zM151.475 406.85a1.15 1.15 0 1 0 2.3 0a1.15 1.15 0 1 0 -2.3 0zM151.475 397.35a1.15 1.15 0 1 0 2.3 0a1.15 1.15 0 1 0 -2.3 0zM151.475 376.45a1.15 1.15 0 1 0 2.3 0a1.15 1.15 0 1 0 -2.3 0zM155.037 366.95a1.15 1.15 0 1 0 2.3 0a1.15 1.15 0 1 0 -2.3 0zM165.725 365.24a1.15 1.15 0 1 0 2.3 0a1.15 1.15 0 1 0 -2.3 0zM165.725 371.51a1.15 1.15 0 1 0 2.3 0a1.15 1.15 0 1 0 -2.3 0zM165.725 373.41a1.15 1.15 0 1 0 2.3 0a1.15 1.15 0 1 0 -2.3 0zM165.725 378.35a1.15 1.15 0 1 0 2.3 0a1.15 1.15 0 1 0 -2.3 0zM165.725 380.44a1.15 1.15 0 1 0 2.3 0a1.15 1.15 0 1 0 -2.3 0zM165.725 383.48a1.15 1.15 0 1 0 2.3 0a1.15 1.15 0 1 0 -2.3 0zM165.725 388.61a1.15 1.15 0 1 0 2.3 0a1.15 1.15 0 1 0 -2.3 0zM169.287 358.97a1.15 1.15 0 1 0 2.3 0a1.15 1.15 0 1 0 -2.3 0zM169.287 367.14a1.15 1.15 0 1 0 2.3 0a1.15 1.15 0 1 0 -2.3 0zM169.287 378.35a1.15 1.15 0 1 0 2.3 0a1.15 1.15 0 1 0 -2.3 0zM169.287 387.47a1.15 1.15 0 1 0 2.3 0a1.15 1.15 0 1 0 -2.3 0zM176.412 363.72a1.15 1.15 0 1 0 2.3 0a1.15 1.15 0 1 0 -2.3 0zM176.412 364.48a1.15 1.15 0 1 0 2.3 0a1.15 1.15 0 1 0 -2.3 0zM176.412 387.47a1.15 1.15 0 1 0 2.3 0a1.15 1.15 0 1 0 -2.3 0zM176.412 392.6a1.15 1.15 0 1 0 2.3 0a1.15 1.15 0 1 0 -2.3 0zM176.412 395.64a1.15 1.15 0 1 0 2.3 0a1.15 1.15 0 1 0 -2.3 0zM179.975 379.3a1.15 1.15 0 1 0 2.3 0a1.15 1.15 0 1 0 -2.3 0zM179.975 387.47a1.15 1.15 0 1 0 2.3 0a1.15 1.15 0 1 0 -2.3 0zM179.975 396.78a1.15 1.15 0 1 0 2.3 0a1.15 1.15 0 1 0 -2.3 0zM179.975 428.13a1.15 1.15 0 1 0 2.3 0a1.15 1.15 0 1 0 -2.3 0zM187.1 367.14a1.15 1.15 0 1 0 2.3 0a1.15 1.15 0 1 0 -2.3 0zM187.1 383.48a1.15 1.15 0 1 0 2.3 0a1.15 1.15 0 1 0 -2.3 0zM187.1 391.65a1.15 1.15 0 1 0 2.3 0a1.15 1.15 0 1 0 -2.3 0zM187.1 392.6a1.15 1.15 0 1 0 2.3 0a1.15 1.15 0 1 0 -2.3 0zM187.1 420.72a1.15 1.15 0 1 0 2.3 0a1.15 1.15 0 1 0 -2.3 0zM190.662 384.43a1.15 1.15 0 1 0 2.3 0a1.15 1.15 0 1 0 -2.3 0zM194.225 409.7a1.15 1.15 0 1 0 2.3 0a1.15 1.15 0 1 0 -2.3 0zM197.787 362.39a1.15 1.15 0 1 0 2.3 0a1.15 1.15 0 1 0 -2.3 0zM197.787 384.24a1.15 1.15 0 1 0 2.3 0a1.15 1.15 0 1 0 -2.3 0zM201.35 373.03a1.15 1.15 0 1 0 2.3 0a1.15 1.15 0 1 0 -2.3 0zM201.35 384.24a1.15 1.15 0 1 0 2.3 0a1.15 1.15 0 1 0 -2.3 0zM204.912 395.64a1.15 1.15 0 1 0 2.3 0a1.15 1.15 0 1 0 -2.3 0zM208.475 364.48a1.15 1.15 0 1 0 2.3 0a1.15 1.15 0 1 0 -2.3 0zM208.475 376.07a1.15 1.15 0 1 0 2.3 0a1.15 1.15 0 1 0 -2.3 0zM208.475 383.67a1.15 1.15 0 1 0 2.3 0a1.15 1.15 0 1 0 -2.3 0zM208.475 395.64a1.15 1.15 0 1 0 2.3 0a1.15 1.15 0 1 0 -2.3 0zM208.475 402.67a1.15 1.15 0 1 0 2.3 0a1.15 1.15 0 1 0 -2.3 0zM208.475 405.14a1.15 1.15 0 1 0 2.3 0a1.15 1.15 0 1 0 -2.3 0zM212.037 383.67a1.15 1.15 0 1 0 2.3 0a1.15 1.15 0 1 0 -2.3 0zM212.037 393.17a1.15 1.15 0 1 0 2.3 0a1.15 1.15 0 1 0 -2.3 0zM219.162 381.58a1.15 1.15 0 1 0 2.3 0a1.15 1.15 0 1 0 -2.3 0zM222.725 383.67a1.15 1.15 0 1 0 2.3 0a1.15 1.15 0 1 0 -2.3 0zM226.287 377.4a1.15 1.15 0 1 0 2.3 0a1.15 1.15 0 1 0 -2.3 0zM229.85 384.24a1.15 1.15 0 1 0 2.3 0a1.15 1.15 0 1 0 -2.3 0zM233.412 363.34a1.15 1.15 0 1 0 2.3 0a1.15 1.15 0 1 0 -2.3 0zM236.975 391.08a1.15 1.15 0 1 0 2.3 0a1.15 1.15 0 1 0 -2.3 0zM236.975 386.33a1.15 1.15 0 1 0 2.3 0a1.15 1.15 0 1 0 -2.3 0zM240.537 386.33a1.15 1.15 0 1 0 2.3 0a1.15 1.15 0 1 0 -2.3 0zM240.537 389.94a1.15 1.15 0 1 0 2.3 0a1.15 1.15 0 1 0 -2.3 0zM244.1 377.21a1.15 1.15 0 1 0 2.3 0a1.15 1.15 0 1 0 -2.3 0zM254.787 389.94a1.15 1.15 0 1 0 2.3 0a1.15 1.15 0 1 0 -2.3 0zM261.913 393.74a1.15 1.15 0 1 0 2.3 0a1.15 1.15 0 1 0 -2.3 0zM269.038 371.89a1.15 1.15 0 1 0 2.3 0a1.15 1.15 0 1 0 -2.3 0zM283.288 385a1.15 1.15 0 1 0 2.3 0a1.15 1.15 0 1 0 -2.3 0zM58.85 432.5a1.15 1.15 0 1 0 2.3 0a1.15 1.15 0 1 0 -2.3 0zM73.1 436.49a1.15 1.15 0 1 0 2.3 0a1.15 1.15 0 1 0 -2.3 0zM83.787 443.71a1.15 1.15 0 1 0 2.3 0a1.15 1.15 0 1 0 -2.3 0zM62.413 347a1.15 1.15 0 1 0 2.3 0a1.15 1.15 0 1 0 -2.3 0zM105.162 349.85a1.15 1.15 0 1 0 2.3 0a1.15 1.15 0 1 0 -2.3 0zM130.1 351.75a1.15 1.15 0 1 0 2.3 0a1.15 1.15 0 1 0 -2.3 0zM83.787 355.55a1.15 1.15 0 1 0 2.3 0a1.15 1.15 0 1 0 -2.3 0zM112.287 430.03a1.15 1.15 0 1 0 2.3 0a1.15 1.15 0 1 0 -2.3 0zM130.1 430.6a1.15 1.15 0 1 0 2.3 0a1.15 1.15 0 1 0 -2.3 0zM130.1 432.5a1.15 1.15 0 1 0 2.3 0a1.15 1.15 0 1 0 -2.3 0zM133.662 433.83a1.15 1.15 0 1 0 2.3 0a1.15 1.15 0 1 0 -2.3 0z"/>
<line x1="62.5" y1="395" x2="284.2" y2="377.6" stroke="#111" stroke-width="1.1"/>
<text transform="translate(420.665,312.6) scale(1,1)" font-size="18.3" font-weight="bold" fill="#000" stroke="#000" stroke-width="0.3">D</text>
<line x1="483.25" y1="514" x2="483.25" y2="318.75" stroke="#000" stroke-width="2"/>
<text transform="translate(466.533,518.1) scale(0.775,1)" font-size="15.2" font-weight="bold" fill="#000" stroke="#000" stroke-width="0.3">0</text>
<line x1="475.25" y1="474.35" x2="482.25" y2="474.35" stroke="#000" stroke-width="2"/>
<text transform="translate(459.995,479.45) scale(0.775,1)" font-size="15.2" font-weight="bold" fill="#000" stroke="#000" stroke-width="0.3">20</text>
<line x1="475.25" y1="435.7" x2="482.25" y2="435.7" stroke="#000" stroke-width="2"/>
<text transform="translate(459.995,440.8) scale(0.775,1)" font-size="15.2" font-weight="bold" fill="#000" stroke="#000" stroke-width="0.3">40</text>
<line x1="475.25" y1="397.05" x2="482.25" y2="397.05" stroke="#000" stroke-width="2"/>
<text transform="translate(459.995,402.15) scale(0.775,1)" font-size="15.2" font-weight="bold" fill="#000" stroke="#000" stroke-width="0.3">60</text>
<line x1="475.25" y1="358.4" x2="482.25" y2="358.4" stroke="#000" stroke-width="2"/>
<text transform="translate(459.995,363.5) scale(0.775,1)" font-size="15.2" font-weight="bold" fill="#000" stroke="#000" stroke-width="0.3">80</text>
<line x1="475.25" y1="319.75" x2="482.25" y2="319.75" stroke="#000" stroke-width="2"/>
<text transform="translate(453.428,324.85) scale(0.775,1)" font-size="15.2" font-weight="bold" fill="#000" stroke="#000" stroke-width="0.3">100</text>
<line x1="475.25" y1="513" x2="677.75" y2="513" stroke="#000" stroke-width="2"/>
<line x1="538.5" y1="513" x2="538.5" y2="520.8" stroke="#000" stroke-width="2"/>
<line x1="621" y1="513" x2="621" y2="520.8" stroke="#000" stroke-width="2"/>
<text transform="translate(528.417,536.8) scale(0.86,1)" font-size="14.2" font-weight="bold" fill="#000" stroke="#000" stroke-width="0.3">yes</text>
<text transform="translate(613.606,536.8) scale(0.88,1)" font-size="14.2" font-weight="bold" fill="#000" stroke="#000" stroke-width="0.3">no</text>
<text transform="translate(533.746,563.3) scale(0.831,1)" font-size="16.7" font-weight="bold" fill="#000" stroke="#000" stroke-width="0.3">Aspirin intake</text>
<text transform="translate(442.9,430.434) rotate(-90) scale(0.816,1)" font-size="16.6" font-weight="bold" stroke="#000" stroke-width="0.3">AAO</text>
<polyline points="539,334.7 539,326.2 620.9,326.2 620.9,334.7" fill="none" stroke="#000" stroke-width="2" stroke-linejoin="miter" stroke-linecap="square"/>
<text transform="translate(550.204,319.5) scale(1.013,1)" font-size="13.6" font-weight="normal" fill="#111" stroke="#111" stroke-width="0.25">p=0.0025</text>
<path fill="#0000ff" d="M537.15 356.467a1.15 1.15 0 1 0 2.3 0a1.15 1.15 0 1 0 -2.3 0zM537.15 358.4a1.15 1.15 0 1 0 2.3 0a1.15 1.15 0 1 0 -2.3 0zM537.15 366.13a1.15 1.15 0 1 0 2.3 0a1.15 1.15 0 1 0 -2.3 0zM535.15 368.062a1.15 1.15 0 1 0 2.3 0a1.15 1.15 0 1 0 -2.3 0zM539.15 368.062a1.15 1.15 0 1 0 2.3 0a1.15 1.15 0 1 0 -2.3 0zM537.15 369.995a1.15 1.15 0 1 0 2.3 0a1.15 1.15 0 1 0 -2.3 0zM537.15 373.86a1.15 1.15 0 1 0 2.3 0a1.15 1.15 0 1 0 -2.3 0zM535.15 375.793a1.15 1.15 0 1 0 2.3 0a1.15 1.15 0 1 0 -2.3 0zM539.15 375.793a1.15 1.15 0 1 0 2.3 0a1.15 1.15 0 1 0 -2.3 0zM537.15 377.725a1.15 1.15 0 1 0 2.3 0a1.15 1.15 0 1 0 -2.3 0zM535.15 379.658a1.15 1.15 0 1 0 2.3 0a1.15 1.15 0 1 0 -2.3 0zM539.15 379.658a1.15 1.15 0 1 0 2.3 0a1.15 1.15 0 1 0 -2.3 0zM531.15 389.32a1.15 1.15 0 1 0 2.3 0a1.15 1.15 0 1 0 -2.3 0zM535.15 389.32a1.15 1.15 0 1 0 2.3 0a1.15 1.15 0 1 0 -2.3 0zM539.15 389.32a1.15 1.15 0 1 0 2.3 0a1.15 1.15 0 1 0 -2.3 0zM543.15 389.32a1.15 1.15 0 1 0 2.3 0a1.15 1.15 0 1 0 -2.3 0zM533.15 393.185a1.15 1.15 0 1 0 2.3 0a1.15 1.15 0 1 0 -2.3 0zM537.15 393.185a1.15 1.15 0 1 0 2.3 0a1.15 1.15 0 1 0 -2.3 0zM541.15 393.185a1.15 1.15 0 1 0 2.3 0a1.15 1.15 0 1 0 -2.3 0zM537.15 395.118a1.15 1.15 0 1 0 2.3 0a1.15 1.15 0 1 0 -2.3 0zM535.15 398.982a1.15 1.15 0 1 0 2.3 0a1.15 1.15 0 1 0 -2.3 0zM539.15 398.982a1.15 1.15 0 1 0 2.3 0a1.15 1.15 0 1 0 -2.3 0zM533.15 406.712a1.15 1.15 0 1 0 2.3 0a1.15 1.15 0 1 0 -2.3 0zM537.15 406.712a1.15 1.15 0 1 0 2.3 0a1.15 1.15 0 1 0 -2.3 0zM541.15 406.712a1.15 1.15 0 1 0 2.3 0a1.15 1.15 0 1 0 -2.3 0zM535.15 408.645a1.15 1.15 0 1 0 2.3 0a1.15 1.15 0 1 0 -2.3 0zM539.15 408.645a1.15 1.15 0 1 0 2.3 0a1.15 1.15 0 1 0 -2.3 0zM537.15 410.577a1.15 1.15 0 1 0 2.3 0a1.15 1.15 0 1 0 -2.3 0zM537.15 412.51a1.15 1.15 0 1 0 2.3 0a1.15 1.15 0 1 0 -2.3 0zM535.15 414.442a1.15 1.15 0 1 0 2.3 0a1.15 1.15 0 1 0 -2.3 0zM539.15 414.442a1.15 1.15 0 1 0 2.3 0a1.15 1.15 0 1 0 -2.3 0zM537.15 416.375a1.15 1.15 0 1 0 2.3 0a1.15 1.15 0 1 0 -2.3 0zM537.15 418.308a1.15 1.15 0 1 0 2.3 0a1.15 1.15 0 1 0 -2.3 0zM537.15 420.24a1.15 1.15 0 1 0 2.3 0a1.15 1.15 0 1 0 -2.3 0zM537.15 422.173a1.15 1.15 0 1 0 2.3 0a1.15 1.15 0 1 0 -2.3 0zM537.15 427.97a1.15 1.15 0 1 0 2.3 0a1.15 1.15 0 1 0 -2.3 0zM535.15 435.7a1.15 1.15 0 1 0 2.3 0a1.15 1.15 0 1 0 -2.3 0zM539.15 435.7a1.15 1.15 0 1 0 2.3 0a1.15 1.15 0 1 0 -2.3 0zM537.15 482.08a1.15 1.15 0 1 0 2.3 0a1.15 1.15 0 1 0 -2.3 0z"/>
<path fill="#ff0000" d="M620.05 358.4a1.15 1.15 0 1 0 2.3 0a1.15 1.15 0 1 0 -2.3 0zM620.05 366.13a1.15 1.15 0 1 0 2.3 0a1.15 1.15 0 1 0 -2.3 0zM620.05 368.062a1.15 1.15 0 1 0 2.3 0a1.15 1.15 0 1 0 -2.3 0zM616.05 369.995a1.15 1.15 0 1 0 2.3 0a1.15 1.15 0 1 0 -2.3 0zM620.05 369.995a1.15 1.15 0 1 0 2.3 0a1.15 1.15 0 1 0 -2.3 0zM624.05 369.995a1.15 1.15 0 1 0 2.3 0a1.15 1.15 0 1 0 -2.3 0zM616.05 371.928a1.15 1.15 0 1 0 2.3 0a1.15 1.15 0 1 0 -2.3 0zM620.05 371.928a1.15 1.15 0 1 0 2.3 0a1.15 1.15 0 1 0 -2.3 0zM624.05 371.928a1.15 1.15 0 1 0 2.3 0a1.15 1.15 0 1 0 -2.3 0zM618.05 373.86a1.15 1.15 0 1 0 2.3 0a1.15 1.15 0 1 0 -2.3 0zM622.05 373.86a1.15 1.15 0 1 0 2.3 0a1.15 1.15 0 1 0 -2.3 0zM616.05 375.793a1.15 1.15 0 1 0 2.3 0a1.15 1.15 0 1 0 -2.3 0zM620.05 375.793a1.15 1.15 0 1 0 2.3 0a1.15 1.15 0 1 0 -2.3 0zM624.05 375.793a1.15 1.15 0 1 0 2.3 0a1.15 1.15 0 1 0 -2.3 0zM614.05 377.725a1.15 1.15 0 1 0 2.3 0a1.15 1.15 0 1 0 -2.3 0zM618.05 377.725a1.15 1.15 0 1 0 2.3 0a1.15 1.15 0 1 0 -2.3 0zM622.05 377.725a1.15 1.15 0 1 0 2.3 0a1.15 1.15 0 1 0 -2.3 0zM626.05 377.725a1.15 1.15 0 1 0 2.3 0a1.15 1.15 0 1 0 -2.3 0zM616.05 379.658a1.15 1.15 0 1 0 2.3 0a1.15 1.15 0 1 0 -2.3 0zM620.05 379.658a1.15 1.15 0 1 0 2.3 0a1.15 1.15 0 1 0 -2.3 0zM624.05 379.658a1.15 1.15 0 1 0 2.3 0a1.15 1.15 0 1 0 -2.3 0zM602.05 381.59a1.15 1.15 0 1 0 2.3 0a1.15 1.15 0 1 0 -2.3 0zM606.05 381.59a1.15 1.15 0 1 0 2.3 0a1.15 1.15 0 1 0 -2.3 0zM610.05 381.59a1.15 1.15 0 1 0 2.3 0a1.15 1.15 0 1 0 -2.3 0zM614.05 381.59a1.15 1.15 0 1 0 2.3 0a1.15 1.15 0 1 0 -2.3 0zM618.05 381.59a1.15 1.15 0 1 0 2.3 0a1.15 1.15 0 1 0 -2.3 0zM622.05 381.59a1.15 1.15 0 1 0 2.3 0a1.15 1.15 0 1 0 -2.3 0zM626.05 381.59a1.15 1.15 0 1 0 2.3 0a1.15 1.15 0 1 0 -2.3 0zM630.05 381.59a1.15 1.15 0 1 0 2.3 0a1.15 1.15 0 1 0 -2.3 0zM634.05 381.59a1.15 1.15 0 1 0 2.3 0a1.15 1.15 0 1 0 -2.3 0zM638.05 381.59a1.15 1.15 0 1 0 2.3 0a1.15 1.15 0 1 0 -2.3 0zM612.05 383.522a1.15 1.15 0 1 0 2.3 0a1.15 1.15 0 1 0 -2.3 0zM616.05 383.522a1.15 1.15 0 1 0 2.3 0a1.15 1.15 0 1 0 -2.3 0zM620.05 383.522a1.15 1.15 0 1 0 2.3 0a1.15 1.15 0 1 0 -2.3 0zM624.05 383.522a1.15 1.15 0 1 0 2.3 0a1.15 1.15 0 1 0 -2.3 0zM628.05 383.522a1.15 1.15 0 1 0 2.3 0a1.15 1.15 0 1 0 -2.3 0zM606.05 385.455a1.15 1.15 0 1 0 2.3 0a1.15 1.15 0 1 0 -2.3 0zM610.05 385.455a1.15 1.15 0 1 0 2.3 0a1.15 1.15 0 1 0 -2.3 0zM614.05 385.455a1.15 1.15 0 1 0 2.3 0a1.15 1.15 0 1 0 -2.3 0zM618.05 385.455a1.15 1.15 0 1 0 2.3 0a1.15 1.15 0 1 0 -2.3 0zM622.05 385.455a1.15 1.15 0 1 0 2.3 0a1.15 1.15 0 1 0 -2.3 0zM626.05 385.455a1.15 1.15 0 1 0 2.3 0a1.15 1.15 0 1 0 -2.3 0zM630.05 385.455a1.15 1.15 0 1 0 2.3 0a1.15 1.15 0 1 0 -2.3 0zM634.05 385.455a1.15 1.15 0 1 0 2.3 0a1.15 1.15 0 1 0 -2.3 0zM616.05 387.387a1.15 1.15 0 1 0 2.3 0a1.15 1.15 0 1 0 -2.3 0zM620.05 387.387a1.15 1.15 0 1 0 2.3 0a1.15 1.15 0 1 0 -2.3 0zM624.05 387.387a1.15 1.15 0 1 0 2.3 0a1.15 1.15 0 1 0 -2.3 0zM606.05 389.32a1.15 1.15 0 1 0 2.3 0a1.15 1.15 0 1 0 -2.3 0zM610.05 389.32a1.15 1.15 0 1 0 2.3 0a1.15 1.15 0 1 0 -2.3 0zM614.05 389.32a1.15 1.15 0 1 0 2.3 0a1.15 1.15 0 1 0 -2.3 0zM618.05 389.32a1.15 1.15 0 1 0 2.3 0a1.15 1.15 0 1 0 -2.3 0zM622.05 389.32a1.15 1.15 0 1 0 2.3 0a1.15 1.15 0 1 0 -2.3 0zM626.05 389.32a1.15 1.15 0 1 0 2.3 0a1.15 1.15 0 1 0 -2.3 0zM630.05 389.32a1.15 1.15 0 1 0 2.3 0a1.15 1.15 0 1 0 -2.3 0zM634.05 389.32a1.15 1.15 0 1 0 2.3 0a1.15 1.15 0 1 0 -2.3 0zM608.05 391.252a1.15 1.15 0 1 0 2.3 0a1.15 1.15 0 1 0 -2.3 0zM612.05 391.252a1.15 1.15 0 1 0 2.3 0a1.15 1.15 0 1 0 -2.3 0zM616.05 391.252a1.15 1.15 0 1 0 2.3 0a1.15 1.15 0 1 0 -2.3 0zM620.05 391.252a1.15 1.15 0 1 0 2.3 0a1.15 1.15 0 1 0 -2.3 0zM624.05 391.252a1.15 1.15 0 1 0 2.3 0a1.15 1.15 0 1 0 -2.3 0zM628.05 391.252a1.15 1.15 0 1 0 2.3 0a1.15 1.15 0 1 0 -2.3 0zM632.05 391.252a1.15 1.15 0 1 0 2.3 0a1.15 1.15 0 1 0 -2.3 0zM610.05 393.185a1.15 1.15 0 1 0 2.3 0a1.15 1.15 0 1 0 -2.3 0zM614.05 393.185a1.15 1.15 0 1 0 2.3 0a1.15 1.15 0 1 0 -2.3 0zM618.05 393.185a1.15 1.15 0 1 0 2.3 0a1.15 1.15 0 1 0 -2.3 0zM622.05 393.185a1.15 1.15 0 1 0 2.3 0a1.15 1.15 0 1 0 -2.3 0zM626.05 393.185a1.15 1.15 0 1 0 2.3 0a1.15 1.15 0 1 0 -2.3 0zM630.05 393.185a1.15 1.15 0 1 0 2.3 0a1.15 1.15 0 1 0 -2.3 0zM618.05 395.118a1.15 1.15 0 1 0 2.3 0a1.15 1.15 0 1 0 -2.3 0zM622.05 395.118a1.15 1.15 0 1 0 2.3 0a1.15 1.15 0 1 0 -2.3 0zM614.05 397.05a1.15 1.15 0 1 0 2.3 0a1.15 1.15 0 1 0 -2.3 0zM618.05 397.05a1.15 1.15 0 1 0 2.3 0a1.15 1.15 0 1 0 -2.3 0zM622.05 397.05a1.15 1.15 0 1 0 2.3 0a1.15 1.15 0 1 0 -2.3 0zM626.05 397.05a1.15 1.15 0 1 0 2.3 0a1.15 1.15 0 1 0 -2.3 0zM614.05 398.982a1.15 1.15 0 1 0 2.3 0a1.15 1.15 0 1 0 -2.3 0zM618.05 398.982a1.15 1.15 0 1 0 2.3 0a1.15 1.15 0 1 0 -2.3 0zM622.05 398.982a1.15 1.15 0 1 0 2.3 0a1.15 1.15 0 1 0 -2.3 0zM626.05 398.982a1.15 1.15 0 1 0 2.3 0a1.15 1.15 0 1 0 -2.3 0zM618.05 400.915a1.15 1.15 0 1 0 2.3 0a1.15 1.15 0 1 0 -2.3 0zM622.05 400.915a1.15 1.15 0 1 0 2.3 0a1.15 1.15 0 1 0 -2.3 0zM610.05 402.847a1.15 1.15 0 1 0 2.3 0a1.15 1.15 0 1 0 -2.3 0zM614.05 402.847a1.15 1.15 0 1 0 2.3 0a1.15 1.15 0 1 0 -2.3 0zM618.05 402.847a1.15 1.15 0 1 0 2.3 0a1.15 1.15 0 1 0 -2.3 0zM622.05 402.847a1.15 1.15 0 1 0 2.3 0a1.15 1.15 0 1 0 -2.3 0zM626.05 402.847a1.15 1.15 0 1 0 2.3 0a1.15 1.15 0 1 0 -2.3 0zM630.05 402.847a1.15 1.15 0 1 0 2.3 0a1.15 1.15 0 1 0 -2.3 0zM606.05 404.78a1.15 1.15 0 1 0 2.3 0a1.15 1.15 0 1 0 -2.3 0zM610.05 404.78a1.15 1.15 0 1 0 2.3 0a1.15 1.15 0 1 0 -2.3 0zM614.05 404.78a1.15 1.15 0 1 0 2.3 0a1.15 1.15 0 1 0 -2.3 0zM618.05 404.78a1.15 1.15 0 1 0 2.3 0a1.15 1.15 0 1 0 -2.3 0zM622.05 404.78a1.15 1.15 0 1 0 2.3 0a1.15 1.15 0 1 0 -2.3 0zM626.05 404.78a1.15 1.15 0 1 0 2.3 0a1.15 1.15 0 1 0 -2.3 0zM630.05 404.78a1.15 1.15 0 1 0 2.3 0a1.15 1.15 0 1 0 -2.3 0zM634.05 404.78a1.15 1.15 0 1 0 2.3 0a1.15 1.15 0 1 0 -2.3 0zM606.05 406.712a1.15 1.15 0 1 0 2.3 0a1.15 1.15 0 1 0 -2.3 0zM610.05 406.712a1.15 1.15 0 1 0 2.3 0a1.15 1.15 0 1 0 -2.3 0zM614.05 406.712a1.15 1.15 0 1 0 2.3 0a1.15 1.15 0 1 0 -2.3 0zM618.05 406.712a1.15 1.15 0 1 0 2.3 0a1.15 1.15 0 1 0 -2.3 0zM622.05 406.712a1.15 1.15 0 1 0 2.3 0a1.15 1.15 0 1 0 -2.3 0zM626.05 406.712a1.15 1.15 0 1 0 2.3 0a1.15 1.15 0 1 0 -2.3 0zM630.05 406.712a1.15 1.15 0 1 0 2.3 0a1.15 1.15 0 1 0 -2.3 0zM634.05 406.712a1.15 1.15 0 1 0 2.3 0a1.15 1.15 0 1 0 -2.3 0zM606.05 408.645a1.15 1.15 0 1 0 2.3 0a1.15 1.15 0 1 0 -2.3 0zM610.05 408.645a1.15 1.15 0 1 0 2.3 0a1.15 1.15 0 1 0 -2.3 0zM614.05 408.645a1.15 1.15 0 1 0 2.3 0a1.15 1.15 0 1 0 -2.3 0zM618.05 408.645a1.15 1.15 0 1 0 2.3 0a1.15 1.15 0 1 0 -2.3 0zM622.05 408.645a1.15 1.15 0 1 0 2.3 0a1.15 1.15 0 1 0 -2.3 0zM626.05 408.645a1.15 1.15 0 1 0 2.3 0a1.15 1.15 0 1 0 -2.3 0zM630.05 408.645a1.15 1.15 0 1 0 2.3 0a1.15 1.15 0 1 0 -2.3 0zM634.05 408.645a1.15 1.15 0 1 0 2.3 0a1.15 1.15 0 1 0 -2.3 0zM612.05 410.577a1.15 1.15 0 1 0 2.3 0a1.15 1.15 0 1 0 -2.3 0zM616.05 410.577a1.15 1.15 0 1 0 2.3 0a1.15 1.15 0 1 0 -2.3 0zM620.05 410.577a1.15 1.15 0 1 0 2.3 0a1.15 1.15 0 1 0 -2.3 0zM624.05 410.577a1.15 1.15 0 1 0 2.3 0a1.15 1.15 0 1 0 -2.3 0zM628.05 410.577a1.15 1.15 0 1 0 2.3 0a1.15 1.15 0 1 0 -2.3 0zM614.05 412.51a1.15 1.15 0 1 0 2.3 0a1.15 1.15 0 1 0 -2.3 0zM618.05 412.51a1.15 1.15 0 1 0 2.3 0a1.15 1.15 0 1 0 -2.3 0zM622.05 412.51a1.15 1.15 0 1 0 2.3 0a1.15 1.15 0 1 0 -2.3 0zM626.05 412.51a1.15 1.15 0 1 0 2.3 0a1.15 1.15 0 1 0 -2.3 0zM612.05 414.442a1.15 1.15 0 1 0 2.3 0a1.15 1.15 0 1 0 -2.3 0zM616.05 414.442a1.15 1.15 0 1 0 2.3 0a1.15 1.15 0 1 0 -2.3 0zM620.05 414.442a1.15 1.15 0 1 0 2.3 0a1.15 1.15 0 1 0 -2.3 0zM624.05 414.442a1.15 1.15 0 1 0 2.3 0a1.15 1.15 0 1 0 -2.3 0zM628.05 414.442a1.15 1.15 0 1 0 2.3 0a1.15 1.15 0 1 0 -2.3 0zM610.05 416.375a1.15 1.15 0 1 0 2.3 0a1.15 1.15 0 1 0 -2.3 0zM614.05 416.375a1.15 1.15 0 1 0 2.3 0a1.15 1.15 0 1 0 -2.3 0zM618.05 416.375a1.15 1.15 0 1 0 2.3 0a1.15 1.15 0 1 0 -2.3 0zM622.05 416.375a1.15 1.15 0 1 0 2.3 0a1.15 1.15 0 1 0 -2.3 0zM626.05 416.375a1.15 1.15 0 1 0 2.3 0a1.15 1.15 0 1 0 -2.3 0zM630.05 416.375a1.15 1.15 0 1 0 2.3 0a1.15 1.15 0 1 0 -2.3 0zM612.05 418.308a1.15 1.15 0 1 0 2.3 0a1.15 1.15 0 1 0 -2.3 0zM616.05 418.308a1.15 1.15 0 1 0 2.3 0a1.15 1.15 0 1 0 -2.3 0zM620.05 418.308a1.15 1.15 0 1 0 2.3 0a1.15 1.15 0 1 0 -2.3 0zM624.05 418.308a1.15 1.15 0 1 0 2.3 0a1.15 1.15 0 1 0 -2.3 0zM628.05 418.308a1.15 1.15 0 1 0 2.3 0a1.15 1.15 0 1 0 -2.3 0zM610.05 420.24a1.15 1.15 0 1 0 2.3 0a1.15 1.15 0 1 0 -2.3 0zM614.05 420.24a1.15 1.15 0 1 0 2.3 0a1.15 1.15 0 1 0 -2.3 0zM618.05 420.24a1.15 1.15 0 1 0 2.3 0a1.15 1.15 0 1 0 -2.3 0zM622.05 420.24a1.15 1.15 0 1 0 2.3 0a1.15 1.15 0 1 0 -2.3 0zM626.05 420.24a1.15 1.15 0 1 0 2.3 0a1.15 1.15 0 1 0 -2.3 0zM630.05 420.24a1.15 1.15 0 1 0 2.3 0a1.15 1.15 0 1 0 -2.3 0zM612.05 422.173a1.15 1.15 0 1 0 2.3 0a1.15 1.15 0 1 0 -2.3 0zM616.05 422.173a1.15 1.15 0 1 0 2.3 0a1.15 1.15 0 1 0 -2.3 0zM620.05 422.173a1.15 1.15 0 1 0 2.3 0a1.15 1.15 0 1 0 -2.3 0zM624.05 422.173a1.15 1.15 0 1 0 2.3 0a1.15 1.15 0 1 0 -2.3 0zM628.05 422.173a1.15 1.15 0 1 0 2.3 0a1.15 1.15 0 1 0 -2.3 0zM616.05 424.105a1.15 1.15 0 1 0 2.3 0a1.15 1.15 0 1 0 -2.3 0zM620.05 424.105a1.15 1.15 0 1 0 2.3 0a1.15 1.15 0 1 0 -2.3 0zM624.05 424.105a1.15 1.15 0 1 0 2.3 0a1.15 1.15 0 1 0 -2.3 0zM614.05 426.038a1.15 1.15 0 1 0 2.3 0a1.15 1.15 0 1 0 -2.3 0zM618.05 426.038a1.15 1.15 0 1 0 2.3 0a1.15 1.15 0 1 0 -2.3 0zM622.05 426.038a1.15 1.15 0 1 0 2.3 0a1.15 1.15 0 1 0 -2.3 0zM626.05 426.038a1.15 1.15 0 1 0 2.3 0a1.15 1.15 0 1 0 -2.3 0zM616.05 427.97a1.15 1.15 0 1 0 2.3 0a1.15 1.15 0 1 0 -2.3 0zM620.05 427.97a1.15 1.15 0 1 0 2.3 0a1.15 1.15 0 1 0 -2.3 0zM624.05 427.97a1.15 1.15 0 1 0 2.3 0a1.15 1.15 0 1 0 -2.3 0zM614.05 429.902a1.15 1.15 0 1 0 2.3 0a1.15 1.15 0 1 0 -2.3 0zM618.05 429.902a1.15 1.15 0 1 0 2.3 0a1.15 1.15 0 1 0 -2.3 0zM622.05 429.902a1.15 1.15 0 1 0 2.3 0a1.15 1.15 0 1 0 -2.3 0zM626.05 429.902a1.15 1.15 0 1 0 2.3 0a1.15 1.15 0 1 0 -2.3 0zM616.05 431.835a1.15 1.15 0 1 0 2.3 0a1.15 1.15 0 1 0 -2.3 0zM620.05 431.835a1.15 1.15 0 1 0 2.3 0a1.15 1.15 0 1 0 -2.3 0zM624.05 431.835a1.15 1.15 0 1 0 2.3 0a1.15 1.15 0 1 0 -2.3 0zM610.05 435.7a1.15 1.15 0 1 0 2.3 0a1.15 1.15 0 1 0 -2.3 0zM614.05 435.7a1.15 1.15 0 1 0 2.3 0a1.15 1.15 0 1 0 -2.3 0zM618.05 435.7a1.15 1.15 0 1 0 2.3 0a1.15 1.15 0 1 0 -2.3 0zM622.05 435.7a1.15 1.15 0 1 0 2.3 0a1.15 1.15 0 1 0 -2.3 0zM626.05 435.7a1.15 1.15 0 1 0 2.3 0a1.15 1.15 0 1 0 -2.3 0zM630.05 435.7a1.15 1.15 0 1 0 2.3 0a1.15 1.15 0 1 0 -2.3 0zM616.05 437.632a1.15 1.15 0 1 0 2.3 0a1.15 1.15 0 1 0 -2.3 0zM620.05 437.632a1.15 1.15 0 1 0 2.3 0a1.15 1.15 0 1 0 -2.3 0zM624.05 437.632a1.15 1.15 0 1 0 2.3 0a1.15 1.15 0 1 0 -2.3 0zM610.05 439.565a1.15 1.15 0 1 0 2.3 0a1.15 1.15 0 1 0 -2.3 0zM614.05 439.565a1.15 1.15 0 1 0 2.3 0a1.15 1.15 0 1 0 -2.3 0zM618.05 439.565a1.15 1.15 0 1 0 2.3 0a1.15 1.15 0 1 0 -2.3 0zM622.05 439.565a1.15 1.15 0 1 0 2.3 0a1.15 1.15 0 1 0 -2.3 0zM626.05 439.565a1.15 1.15 0 1 0 2.3 0a1.15 1.15 0 1 0 -2.3 0zM630.05 439.565a1.15 1.15 0 1 0 2.3 0a1.15 1.15 0 1 0 -2.3 0zM620.05 443.43a1.15 1.15 0 1 0 2.3 0a1.15 1.15 0 1 0 -2.3 0zM618.05 445.363a1.15 1.15 0 1 0 2.3 0a1.15 1.15 0 1 0 -2.3 0zM622.05 445.363a1.15 1.15 0 1 0 2.3 0a1.15 1.15 0 1 0 -2.3 0zM618.05 447.295a1.15 1.15 0 1 0 2.3 0a1.15 1.15 0 1 0 -2.3 0zM622.05 447.295a1.15 1.15 0 1 0 2.3 0a1.15 1.15 0 1 0 -2.3 0zM618.05 449.228a1.15 1.15 0 1 0 2.3 0a1.15 1.15 0 1 0 -2.3 0zM622.05 449.228a1.15 1.15 0 1 0 2.3 0a1.15 1.15 0 1 0 -2.3 0zM618.05 451.16a1.15 1.15 0 1 0 2.3 0a1.15 1.15 0 1 0 -2.3 0zM622.05 451.16a1.15 1.15 0 1 0 2.3 0a1.15 1.15 0 1 0 -2.3 0zM620.05 453.092a1.15 1.15 0 1 0 2.3 0a1.15 1.15 0 1 0 -2.3 0zM620.05 458.89a1.15 1.15 0 1 0 2.3 0a1.15 1.15 0 1 0 -2.3 0zM620.05 460.822a1.15 1.15 0 1 0 2.3 0a1.15 1.15 0 1 0 -2.3 0zM620.05 462.755a1.15 1.15 0 1 0 2.3 0a1.15 1.15 0 1 0 -2.3 0zM620.05 464.688a1.15 1.15 0 1 0 2.3 0a1.15 1.15 0 1 0 -2.3 0zM620.05 476.283a1.15 1.15 0 1 0 2.3 0a1.15 1.15 0 1 0 -2.3 0zM620.05 478.215a1.15 1.15 0 1 0 2.3 0a1.15 1.15 0 1 0 -2.3 0zM620.05 484.012a1.15 1.15 0 1 0 2.3 0a1.15 1.15 0 1 0 -2.3 0zM620.05 485.945a1.15 1.15 0 1 0 2.3 0a1.15 1.15 0 1 0 -2.3 0zM620.05 487.877a1.15 1.15 0 1 0 2.3 0a1.15 1.15 0 1 0 -2.3 0z"/>
<line x1="511.1" y1="395.1" x2="565.75" y2="395.1" stroke="#000" stroke-width="2"/>
<line x1="525" y1="377.8" x2="551.7" y2="377.8" stroke="#000" stroke-width="2"/>
<line x1="525" y1="410.6" x2="551.7" y2="410.6" stroke="#000" stroke-width="2"/>
<line x1="538.4" y1="377.8" x2="538.4" y2="410.6" stroke="#000" stroke-width="2"/>
<line x1="593.8" y1="406.7" x2="648.5" y2="406.7" stroke="#000" stroke-width="2"/>
<line x1="607.8" y1="389.3" x2="634.7" y2="389.3" stroke="#000" stroke-width="2"/>
<line x1="607.8" y1="426" x2="634.7" y2="426" stroke="#000" stroke-width="2"/>
<line x1="621.1" y1="389.3" x2="621.1" y2="426" stroke="#000" stroke-width="2"/>
</svg>
</body></html>
